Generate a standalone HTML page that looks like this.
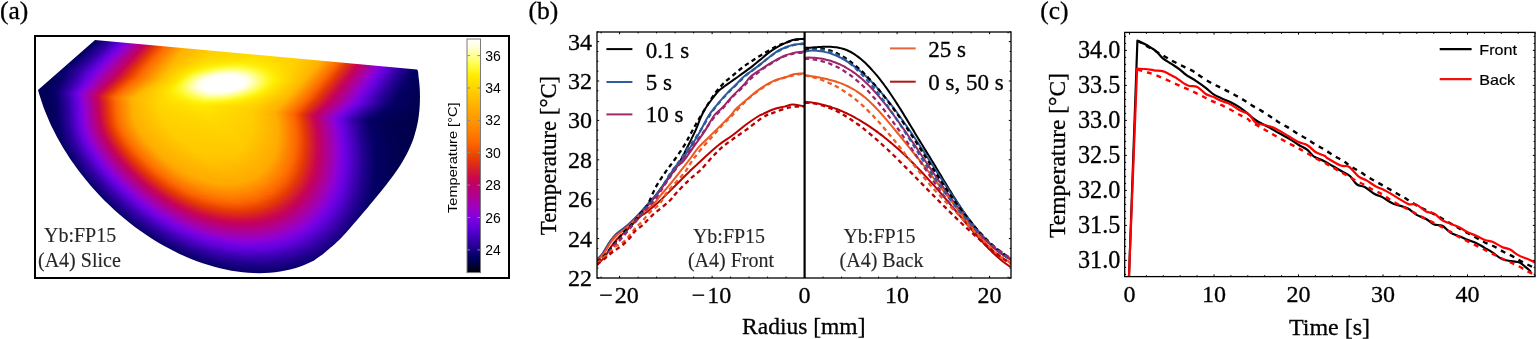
<!DOCTYPE html>
<html><head><meta charset="utf-8"><style>html,body{margin:0;padding:0;background:#fff;}#w{position:relative;width:1538px;height:339px;overflow:hidden}svg{position:absolute;left:0;top:0;display:block}#hm{position:absolute;left:36px;top:38px;width:386px;height:236px;clip-path:path("M2.0 52.0 L3.7 57.8 L5.6 63.6 L7.6 69.4 L9.9 75.3 L12.3 81.1 L14.9 86.9 L17.7 92.6 L20.7 98.4 L23.8 104.1 L27.1 109.7 L30.6 115.3 L34.2 120.9 L38.0 126.3 L41.9 131.8 L46.0 137.1 L50.2 142.3 L54.5 147.5 L59.0 152.5 L63.6 157.5 L68.4 162.4 L73.2 167.1 L78.1 171.7 L83.2 176.2 L88.3 180.6 L93.5 184.8 L98.9 188.9 L104.2 192.8 L109.7 196.6 L115.2 200.2 L120.8 203.7 L126.4 207.0 L132.1 210.1 L137.8 213.1 L143.6 215.9 L149.3 218.5 L155.1 221.0 L160.9 223.2 L166.7 225.3 L172.5 227.1 L178.3 228.8 L184.0 230.3 L189.8 231.6 L195.5 232.7 L201.1 233.6 L206.8 234.3 L212.3 234.8 L217.8 235.1 L223.3 235.2 L228.6 235.1 L233.9 234.8 L239.1 234.2 L244.2 233.5 L249.3 232.6 L254.2 231.5 L259.0 230.2 L263.7 228.7 L268.2 227.0 L272.7 225.1 L277.0 223.1 L278.1 222.4 L279.3 221.5 L280.7 220.6 L282.1 219.6 L283.5 218.6 L285.0 217.5 L286.5 216.4 L288.0 215.2 L289.5 213.9 L291.1 212.6 L292.7 211.2 L294.3 209.8 L296.0 208.4 L297.7 206.9 L299.4 205.4 L301.1 203.8 L302.9 202.2 L304.6 200.5 L306.3 198.7 L308.1 196.8 L309.8 194.9 L311.5 193.0 L313.3 191.0 L315.0 189.0 L316.7 187.0 L318.4 185.0 L320.2 183.0 L321.9 181.0 L323.6 179.0 L325.3 177.0 L327.0 175.0 L328.7 172.9 L330.5 170.9 L332.2 168.9 L333.9 166.8 L335.6 164.8 L337.3 162.8 L338.9 160.8 L340.6 158.8 L342.2 156.8 L343.9 154.8 L345.5 152.8 L347.1 150.8 L348.7 148.7 L350.3 146.7 L351.9 144.6 L353.5 142.5 L355.0 140.5 L356.5 138.5 L358.0 136.5 L359.4 134.5 L360.8 132.5 L362.2 130.5 L363.5 128.5 L364.8 126.5 L366.0 124.5 L367.2 122.5 L368.3 120.5 L369.4 118.5 L370.5 116.5 L371.5 114.5 L372.5 112.5 L373.4 110.5 L374.3 108.5 L375.2 106.5 L376.0 104.5 L376.8 102.5 L377.5 100.4 L378.2 98.3 L378.8 96.2 L379.4 94.1 L380.0 92.0 L380.5 89.9 L381.0 87.7 L381.5 85.5 L381.9 83.4 L382.3 81.2 L382.6 79.0 L382.9 76.8 L383.1 74.7 L383.4 72.6 L383.5 70.4 L383.7 68.2 L383.8 66.0 L383.9 63.7 L383.9 61.4 L384.0 59.0 L383.9 56.6 L383.9 54.3 L383.8 52.0 L383.7 49.7 L383.5 47.4 L383.3 45.1 L383.1 42.9 L382.8 40.8 L382.6 39.0 L382.4 37.4 L382.3 35.8 L382.2 34.5 L381.9 33.3 L381.6 32.3 L381.0 31.5 L59.0 2.0 L2.0 52.0 Z");}#hm i{position:absolute;left:0;width:386px;height:1px;}</style></head>
<body><div id="w"><div id="hm"><i style="top:0px;background:linear-gradient(90deg,#004,#010057 52px,#060068 64px,#2d009f 77px,#6300dc 89px,#7e00e0 95px,#9600ca 100px,#c50357 117px,#dd2a19 126px,#e53906 129px,#fd6900 139px,#ffab00 159px,#ffc800 192px,#ffcf00 247px,#ffc400 288px,#ffa700 312px,#fb6400 329px,#e53a05 337px,#c80651 350px,#bf0069 354px,#9600cb 371px,#7900e2 378px,#6100db 384px,#5d00d6 385px)"></i><i style="top:1px;background:linear-gradient(90deg,#004,#010057 51px,#070068 63px,#2e00a1 76px,#6300dc 88px,#7a00e2 93px,#9700c9 99px,#c60356 116px,#dd2b18 125px,#e53a05 128px,#fd6a00 138px,#ffab00 158px,#ffc800 191px,#ffcf00 246px,#ffc300 287px,#ffa700 311px,#fc6800 327px,#e53906 336px,#c80651 349px,#be0069 353px,#9500cc 370px,#7800e2 377px,#6000da 383px,#5800d1 385px)"></i><i style="top:2px;background:linear-gradient(90deg,#000045,#010057 50px,#070069 62px,#2f00a2 75px,#6500dd 87px,#7c00e2 92px,#9400cf 97px,#b90078 110px,#c60455 115px,#db261e 123px,#e63a05 127px,#fd6a00 137px,#ffab00 156px,#ffc800 190px,#ffcf00 245px,#ffc300 286px,#ffa600 310px,#fc6700 326px,#e53806 335px,#ca084c 347px,#c00064 351px,#9500cd 369px,#7b00e2 375px,#6000da 382px,#5400cc 385px)"></i><i style="top:3px;background:linear-gradient(90deg,#000045,#010058 49px,#080069 61px,#2f00a2 74px,#60d 86px,#7d00e1 91px,#9500cc 96px,#bc0070 110px,#c70454 114px,#de2c17 123px,#e63b05 126px,#fd6b00 136px,#ffab00 155px,#ffc800 189px,#ffcf00 244px,#ffc300 285px,#ffa900 308px,#fc6600 325px,#e43807 334px,#ca084d 346px,#c00065 350px,#9400ce 368px,#7b00e2 374px,#5f00d9 381px,#4f00c7 385px)"></i><i style="top:4px;background:linear-gradient(90deg,#000045,#010058 48px,#08006a 60px,#3000a3 73px,#6700dd 85px,#7d00e1 90px,#9600cb 95px,#c50357 112px,#d41930 118px,#e63c04 125px,#fd6b00 135px,#ffab00 154px,#ffc800 188px,#ffcf00 243px,#ffc400 283px,#ffa900 307px,#fc6600 324px,#e63c04 332px,#c9074e 345px,#bd006c 350px,#9400cf 367px,#7a00e2 373px,#5f00d8 380px,#4a00c2 385px)"></i><i style="top:5px;background:linear-gradient(90deg,#000046,#010058 47px,#060067 58px,#3000a3 72px,#6200db 83px,#7e00e0 89px,#9600ca 94px,#c3005d 110px,#d61d2c 117px,#e63b05 123px,#fd6c00 134px,#ffab00 153px,#ffc800 187px,#ffcf00 242px,#ffc400 282px,#ffa800 306px,#fc6500 323px,#e63b05 331px,#c9074f 344px,#bf0067 348px,#9700ca 365px,#7e00e0 371px,#6200dc 378px,#4600bd 385px)"></i><i style="top:6px;background:linear-gradient(90deg,#000046,#010057 45px,#060067 57px,#3000a4 71px,#6200dc 82px,#7e00e0 88px,#9600ca 93px,#c4015c 109px,#d61e2a 116px,#e63c04 122px,#fd6c00 132px,#ffab00 152px,#ffc800 186px,#ffcf00 241px,#ffc400 281px,#ffa800 305px,#fc6400 322px,#e63a05 330px,#c90650 343px,#bf0068 347px,#9600cb 364px,#7900e2 371px,#5e00d7 378px,#4200b8 385px)"></i><i style="top:7px;background:linear-gradient(90deg,#000047,#010057 44px,#060067 56px,#3000a4 70px,#6200dc 81px,#7e00e0 87px,#9600ca 92px,#c3015c 108px,#d71e2a 115px,#e43807 120px,#f96000 128px,#ff8a00 139px,#ffa400 147px,#ffc700 181px,#ffcf00 239px,#ffc400 280px,#ffa700 304px,#fb6400 321px,#e53a05 329px,#c80650 342px,#bf0068 346px,#9600cb 363px,#7900e2 370px,#6100db 376px,#3d00b3 385px)"></i><i style="top:8px;background:linear-gradient(90deg,#000047,#010057 43px,#070068 55px,#3100a5 69px,#6200dc 80px,#7e00e0 86px,#9600cb 91px,#c3005c 107px,#d71e2a 114px,#e43707 119px,#fa6100 127px,#ff8b00 138px,#ffb000 150px,#ffb700 157px,#ffb400 159px,#ffc800 183px,#ffcf00 238px,#ffc300 279px,#ffa700 303px,#fd6800 319px,#e53906 328px,#c80651 341px,#be0069 345px,#9500cc 362px,#7800e2 369px,#6100da 375px,#3900ae 385px)"></i><i style="top:9px;background:linear-gradient(90deg,#000048,#010058 42px,#070068 54px,#3100a5 68px,#6300dc 79px,#7e00e0 85px,#9600cb 90px,#c3005d 106px,#d41832 112px,#e73c04 119px,#fd6900 128px,#ffaf00 148px,#ffc400 168px,#ffbe00 169px,#ffc800 184px,#ffcf00 237px,#ffc300 278px,#ffa600 302px,#fc6700 318px,#e53906 327px,#ca084c 339px,#c00064 343px,#9500cd 361px,#7b00e2 367px,#6000da 374px,#3500a9 385px)"></i><i style="top:10px;background:linear-gradient(90deg,#000048,#010058 41px,#070069 53px,#3100a5 67px,#6300dc 78px,#7e00e0 84px,#9600cb 89px,#c60356 106px,#d92224 113px,#e63c04 118px,#fd6d00 128px,#ffb100 148px,#ffcf00 179px,#ffc800 180px,#ffcf00 236px,#ffc300 277px,#ffa900 300px,#fc6600 317px,#e43806 326px,#ca084d 338px,#c00065 342px,#9400ce 360px,#7b00e2 366px,#5f00d9 373px,#3100a4 385px)"></i><i style="top:11px;background:linear-gradient(90deg,#000048,#010058 40px,#080069 52px,#3200a6 66px,#6300dc 77px,#7e00e0 83px,#9600cb 88px,#c60356 105px,#db271e 113px,#e63b05 117px,#fd6c00 127px,#ffb100 147px,#ffd000 179px,#ffd200 190px,#ffca00 191px,#ffcf00 236px,#ffc400 275px,#ffa900 299px,#fc6600 316px,#e63c04 324px,#c9074e 337px,#bd006c 342px,#9400ce 359px,#7a00e2 365px,#5f00d8 372px,#2c009e 385px)"></i><i style="top:12px;background:linear-gradient(90deg,#000049,#010058 39px,#08006a 51px,#3200a6 65px,#6300dc 76px,#7e00e0 82px,#9600cb 87px,#c60357 104px,#db261f 112px,#e63b05 116px,#fd6c00 126px,#ffb100 146px,#ffd000 178px,#ffd500 200px,#fc0 201px,#ffce00 237px,#ffc400 274px,#ffa800 298px,#fc6500 315px,#e63b05 323px,#c9074f 336px,#bf0067 340px,#9700ca 357px,#7e00e0 363px,#6200dc 370px,#290099 385px)"></i><i style="top:13px;background:linear-gradient(90deg,#000049,#010057 37px,#060067 49px,#2e00a1 63px,#6300dc 75px,#7e00e0 81px,#9600cb 86px,#c50357 103px,#db261f 111px,#e63a05 115px,#fd6b00 125px,#ffb100 145px,#ffd100 177px,#ffd800 211px,#ffce00 212px,#ffcb00 250px,#ffc300 274px,#ffa800 297px,#fc6500 314px,#e63a05 322px,#c9074f 335px,#bf0068 339px,#9600ca 356px,#7900e2 363px,#5e00d7 370px,#260095 385px)"></i><i style="top:14px;background:linear-gradient(90deg,#00004a,#010057 36px,#060067 48px,#2e00a1 62px,#6300dc 74px,#7e00e0 80px,#9600cb 85px,#c50358 102px,#da2520 110px,#e53a05 114px,#fd6b00 124px,#ffb200 145px,#ffd200 177px,#ffda00 222px,#ffd000 223px,#ffc400 272px,#ffa700 296px,#fb6400 313px,#e53a05 321px,#c80650 334px,#bf0068 338px,#9600cb 355px,#7900e2 362px,#5d00d7 369px,#230090 385px)"></i><i style="top:15px;background:linear-gradient(90deg,#00004a,#010058 35px,#060067 47px,#2f00a1 61px,#6300dc 73px,#7e00e0 79px,#9600cb 84px,#c50258 101px,#da2520 109px,#e53906 113px,#fd6a00 123px,#ffb300 144px,#ffd300 176px,#ffd900 228px,#ffd800 233px,#ffce00 234px,#ffc300 271px,#ffa700 295px,#fd6800 311px,#e53906 320px,#c80651 333px,#be0069 337px,#9500cc 354px,#7800e2 361px,#6100da 367px,#250094 383px,#20008c 385px)"></i><i style="top:16px;background:linear-gradient(90deg,#00004a,#010058 34px,#060068 46px,#2f00a2 60px,#6300dc 72px,#7e00e0 78px,#9600cb 83px,#c50259 100px,#da2521 108px,#e53906 112px,#fc6600 121px,#ffb300 143px,#ffd400 175px,#ffdb00 226px,#ffd500 243px,#fc0 244px,#ffc300 270px,#ffa600 294px,#fc6700 310px,#e53906 319px,#ca084c 331px,#c00064 335px,#9500cd 353px,#7c00e2 359px,#6000da 366px,#250093 382px,#1d0088 385px)"></i><i style="top:17px;background:linear-gradient(90deg,#00004b,#010058 33px,#070068 45px,#3300a8 60px,#6400dc 71px,#7e00e0 77px,#9600cb 82px,#c50259 99px,#da2421 107px,#e53806 111px,#fc6600 120px,#ffb300 142px,#ffd500 175px,#ffdc00 224px,#ffd200 254px,#ffc900 255px,#ffc200 270px,#ffa900 292px,#fc6700 309px,#e43806 318px,#ca084d 330px,#c00065 334px,#9400ce 352px,#7b00e2 358px,#5f00d9 365px,#240093 381px,#1a0084 385px)"></i><i style="top:18px;background:linear-gradient(90deg,#00004b,#010058 32px,#070069 44px,#3300a8 59px,#6400dc 70px,#7e00e0 76px,#9600cb 81px,#c4025a 98px,#d71f29 105px,#e43806 110px,#fc6500 119px,#ffb400 142px,#ffd600 174px,#ffde00 222px,#ffce00 265px,#ffc500 266px,#ffa900 291px,#fc6600 308px,#e63c04 316px,#c9074e 329px,#bd006c 334px,#9400ce 351px,#7a00e2 357px,#5f00d9 364px,#240092 380px,#180080 385px)"></i><i style="top:19px;background:linear-gradient(90deg,#00004c,#010058 31px,#070069 43px,#3400a8 58px,#6400dc 69px,#7e00e0 75px,#9600cb 80px,#c4015a 97px,#d71f29 104px,#e43707 109px,#f96000 117px,#ff8a00 128px,#ffb400 141px,#ffd700 173px,#ffdf00 220px,#ffcb00 267px,#ffbf00 276px,#ffb800 277px,#ffa800 290px,#fc6500 307px,#e63b05 315px,#c9074e 328px,#bf0067 332px,#9700c9 349px,#7e00e0 355px,#6200dc 362px,#240092 379px,#15007c 385px)"></i><i style="top:20px;background:linear-gradient(90deg,#00004c,#010057 29px,#08006a 42px,#3400a8 57px,#6400dd 68px,#7e00e0 74px,#9600cc 79px,#c4015b 96px,#d71e2a 103px,#e63c04 109px,#fd6c00 119px,#ffb500 140px,#ffd800 173px,#ffe200 218px,#fc0 265px,#ffb200 286px,#fc6500 306px,#e63a05 314px,#c9074f 327px,#bf0067 331px,#9600ca 348px,#7900e2 355px,#5e00d7 362px,#230091 378px,#120078 385px)"></i><i style="top:21px;background:linear-gradient(90deg,#00004c,#010057 28px,#060067 40px,#3000a4 55px,#6400dd 67px,#7e00e0 73px,#9500cc 78px,#c4015b 95px,#d61e2a 102px,#e63b04 108px,#fd6c00 118px,#ffb600 140px,#ffd900 172px,#ffe400 215px,#fc0 265px,#ffac00 288px,#ff8a00 297px,#ff7500 301px,#f55800 307px,#e53a05 313px,#c80650 326px,#bf0068 330px,#9600cb 347px,#7900e2 354px,#5d00d7 361px,#230091 377px,#0f0074 385px)"></i><i style="top:22px;background:linear-gradient(90deg,#00004d,#010058 27px,#060067 39px,#3000a4 54px,#6400dd 66px,#7e00e0 72px,#9500cc 77px,#c4015c 94px,#d61d2b 101px,#e63b05 107px,#fd6b00 117px,#ffb600 139px,#ffdb00 171px,#ffe700 213px,#fc0 264px,#ffac00 287px,#fc6700 304px,#f15100 308px,#e94203 310px,#e3350a 313px,#c80651 325px,#be0069 329px,#9500cc 346px,#7800e2 353px,#6100db 359px,#250094 375px,#0c0070 385px)"></i><i style="top:23px;background:linear-gradient(90deg,#00004d,#010058 26px,#060067 38px,#3100a4 53px,#6400dd 65px,#7e00e0 71px,#9500cc 76px,#c3005c 93px,#d61d2c 100px,#e63a05 106px,#fd6b00 116px,#ffb700 138px,#fd0 171px,#ffe900 210px,#ffcd00 263px,#ffac00 286px,#fc6700 303px,#e53906 312px,#d71f29 318px,#d1133a 320px,#c00064 327px,#9500cd 345px,#7c00e2 351px,#6000da 358px,#250093 374px,#09006c 385px)"></i><i style="top:24px;background:linear-gradient(90deg,#00004d,#010058 25px,#060068 37px,#3100a5 52px,#6400dd 64px,#7e00e0 70px,#9500cc 75px,#c3005d 92px,#d61c2c 99px,#e53a05 105px,#fd6a00 115px,#ffb800 138px,#ffdf00 170px,#ffec05 202px,#ffeb02 214px,#ffcd00 262px,#ffad00 285px,#fc6700 302px,#e53806 311px,#c9074f 323px,#bf0067 327px,#a800a5 337px,#8c00d6 346px,#7700e2 351px,#6000d9 357px,#240093 373px,#070068 385px)"></i><i style="top:25px;background:linear-gradient(90deg,#00004e,#010058 24px,#070068 36px,#3500aa 52px,#6400dd 63px,#7e00e0 69px,#9500cc 74px,#c60356 92px,#da2620 100px,#e53905 104px,#fd6a00 114px,#ffb800 137px,#ffe200 170px,#ffec04 187px,#ffef0e 207px,#ffe800 223px,#ffce00 261px,#ffad00 284px,#fc6700 301px,#e53806 310px,#c9074f 322px,#bf0068 326px,#9a00c3 341px,#8700da 346px,#7700e2 350px,#5f00d9 356px,#240092 372px,#050066 385px)"></i><i style="top:26px;background:linear-gradient(90deg,#00004e,#010058 23px,#070068 35px,#3500aa 51px,#6400dd 62px,#7e00e0 68px,#9500cd 73px,#c50357 91px,#da2520 99px,#e53906 103px,#fd6900 113px,#ffb900 136px,#ffe400 169px,#ffec04 180px,#fff316 199px,#fff213 211px,#ffe800 225px,#ffce00 261px,#ffae00 283px,#fd6800 300px,#e53906 309px,#c90650 321px,#bf0068 325px,#9500cd 342px,#7b00e2 348px,#5e00d8 355px,#240092 371px,#050065 384px,#040064 385px)"></i><i style="top:27px;background:linear-gradient(90deg,#01004f,#010059 22px,#070069 34px,#3100a5 49px,#6400dd 61px,#7e00e0 67px,#9500cd 72px,#c50358 90px,#da2421 98px,#e53806 102px,#fc6500 111px,#ffba00 136px,#ffe600 168px,#ffec05 175px,#fff61e 194px,#fff61e 209px,#ffe900 227px,#ffce00 260px,#ffaf00 282px,#fb6400 300px,#e53a05 308px,#c9074e 320px,#bf0068 324px,#9400ce 341px,#7b00e2 347px,#5f00d9 354px,#260095 369px,#050065 383px,#030063 385px)"></i><i style="top:28px;background:linear-gradient(90deg,#01004f,#010059 21px,#070069 33px,#3200a6 48px,#6400dd 60px,#7e00e0 66px,#9500cd 71px,#c50258 89px,#d92422 97px,#e43807 101px,#f95f00 109px,#ff8600 119px,#fb0 135px,#ffea00 168px,#fff92f 194px,#fffa31 206px,#ffe900 229px,#ffce00 260px,#ffaf00 281px,#fc6500 299px,#e63b05 307px,#ca084d 319px,#bf0066 323px,#9400ce 340px,#7a00e2 346px,#5f00d8 353px,#240091 369px,#050065 382px,#020062 385px)"></i><i style="top:29px;background:linear-gradient(90deg,#01004f,#010059 20px,#08006a 32px,#3200a6 47px,#6400dd 59px,#7e00e0 65px,#9500cd 70px,#c50259 88px,#d71e29 95px,#e63c04 101px,#fd6b00 111px,#fb0 134px,#ffeb01 165px,#fffa31 184px,#fffc47 195px,#fffc46 205px,#fff419 220px,#ffe900 231px,#ffcf00 259px,#ffb000 280px,#fc6600 298px,#e63c04 306px,#ca084c 318px,#c00065 322px,#9500cc 339px,#7b00e2 345px,#5e00d8 352px,#260095 367px,#050065 381px,#020060 385px)"></i><i style="top:30px;background:linear-gradient(90deg,#01004f,#010059 19px,#08006a 31px,#3200a6 46px,#6400dd 58px,#7e00e0 64px,#9400ce 69px,#c4025a 87px,#d71e2a 94px,#e63b05 100px,#fd6b00 110px,#ffbd00 134px,#ffe600 159px,#ffed08 164px,#fff92a 176px,#fffd54 188px,#ffff61 198px,#fffe5b 205px,#fff61d 221px,#ffe900 233px,#ffce00 259px,#ffb100 279px,#fc6700 297px,#e43806 306px,#c80651 318px,#be006a 322px,#9600cb 338px,#7c00e1 344px,#5f00d9 351px,#250094 366px,#050066 379px,#01005f 385px)"></i><i style="top:31px;background:linear-gradient(90deg,#01004f,#010059 18px,#08006a 30px,#3200a6 45px,#6400dd 57px,#7e00e1 63px,#9400ce 68px,#c4015b 86px,#d61d2b 93px,#e63a05 99px,#fd6a00 109px,#ffbd00 133px,#ffe600 157px,#ffea01 159px,#fff928 171px,#ffff62 184px,#ff7 193px,#ff7 202px,#fffe58 211px,#fff61f 223px,#ffe900 235px,#fc0 260px,#ffb100 278px,#fc6700 296px,#e53906 305px,#c90650 317px,#bf0069 321px,#9700c9 337px,#7d00e1 343px,#6100da 350px,#260095 365px,#050066 378px,#01005e 385px)"></i><i style="top:32px;background:linear-gradient(90deg,#01004f,#010058 17px,#08006b 29px,#3200a6 44px,#6400dd 56px,#7d00e1 62px,#9400ce 67px,#c4015b 85px,#d61c2c 92px,#e53a05 98px,#fd6a00 108px,#ffbd00 132px,#ffe500 155px,#ffea00 157px,#fff61f 165px,#ffff71 181px,#ffff8d 190px,#ffff93 199px,#ffff89 204px,#fffe56 215px,#fff71f 225px,#ffe900 236px,#fc0 260px,#ffb200 277px,#fd6800 295px,#e53a05 304px,#c9074e 316px,#bf0067 320px,#9400ce 337px,#7a00e2 343px,#5d00d7 350px,#240092 365px,#050065 378px,#01005d 385px)"></i><i style="top:33px;background:linear-gradient(90deg,#01004f,#010058 17px,#070068 28px,#3600ab 44px,#6400dd 55px,#7d00e1 61px,#9400cf 66px,#c3005c 84px,#d61c2d 91px,#e53906 97px,#fd6900 107px,#ffbf00 132px,#ffe500 153px,#ffec05 156px,#fff61f 162px,#ffff82 179px,#ffffa5 188px,#ffffaf 196px,#ffffa7 202px,#ffff78 212px,#fff61e 227px,#ffe900 237px,#ffc600 263px,#ffb300 276px,#fc6400 295px,#e63b05 303px,#ca084d 315px,#c00066 319px,#9500cd 336px,#7b00e2 342px,#5f00d8 349px,#250094 364px,#050066 377px,#01005c 385px)"></i><i style="top:34px;background:linear-gradient(90deg,#01004f,#010059 17px,#070069 28px,#3500a9 43px,#6400dd 54px,#7d00e1 60px,#9700c9 66px,#c60356 84px,#da2521 92px,#e53806 96px,#fc6400 105px,#ffbf00 131px,#ffe600 152px,#ffee09 155px,#fff92f 162px,#ffff93 177px,#ffffbc 186px,#ffffcb 194px,#ffffc6 200px,#ffff9c 209px,#fffa32 225px,#fff51d 229px,#ffe900 238px,#ffb300 275px,#fc6500 294px,#e63c04 302px,#ca084c 314px,#c00065 318px,#9600cb 335px,#7c00e1 341px,#6000d9 348px,#260095 363px,#050066 376px,#01005b 385px)"></i><i style="top:35px;background:linear-gradient(90deg,#01004f,#010059 17px,#08006a 28px,#3700ac 43px,#6300dc 53px,#7d00e1 59px,#9700c9 65px,#c50357 83px,#da2422 91px,#e73c04 96px,#fd6b00 106px,#ffbf00 130px,#ffe500 150px,#ffea01 152px,#fffa33 160px,#ffffa2 175px,#ffffd2 184px,#ffffe1 190px,#ffffe1 199px,#ffffc8 205px,#ffff79 217px,#fff721 229px,#ffe900 239px,#ffb400 274px,#fc6600 293px,#e43806 302px,#c80651 314px,#be006a 318px,#9700ca 334px,#7d00e1 340px,#6100db 347px,#240092 363px,#050065 376px,#01005a 385px)"></i><i style="top:36px;background:linear-gradient(90deg,#01004f,#010058 16px,#070068 27px,#3500a9 42px,#60d 53px,#7b00e2 58px,#9600ca 64px,#c50258 82px,#d92323 90px,#e63b04 95px,#fd6a00 105px,#ffc100 130px,#ffe600 149px,#ffec04 151px,#fffa36 158px,#ffffae 173px,#ffffe0 181px,#fffff1 191px,#ffffed 199px,#ffd 205px,#ffff8e 216px,#fff721 230px,#ffea00 239px,#ffb100 274px,#fc6700 292px,#e53906 301px,#c9074f 313px,#bf0068 317px,#9400ce 334px,#7a00e2 340px,#5e00d7 347px,#250093 362px,#050066 375px,#01005a 385px)"></i><i style="top:37px;background:linear-gradient(90deg,#01004f,#010058 16px,#080069 27px,#3300a7 41px,#6400dd 52px,#7a00e2 57px,#9500cc 63px,#c50259 81px,#d61e2a 88px,#e63a05 94px,#fd6a00 104px,#ffc100 129px,#ffe500 147px,#ffea01 149px,#fff823 154px,#ffff8e 166px,#ffffde 176px,#fffffa 186px,#fff 196px,#ffffe2 207px,#ffffad 214px,#fffa36 228px,#fff51c 232px,#ffe900 240px,#ffb100 273px,#fc6800 291px,#e53a05 300px,#c9074e 312px,#bf0067 316px,#9500cd 333px,#7b00e2 339px,#5f00d9 346px,#260095 361px,#050066 374px,#010059 385px)"></i><i style="top:38px;background:linear-gradient(90deg,#01004f,#010059 16px,#09006b 27px,#3500aa 41px,#6200dc 51px,#7d00e1 57px,#9500cd 62px,#bd006d 77px,#c80552 81px,#e03011 91px,#e83e04 94px,#fd6c00 104px,#ffc100 128px,#ffe600 146px,#ffeb03 148px,#fff929 153px,#fffd51 157px,#ffffe0 173px,#fff 182px,#fffffc 202px,#ffd 210px,#fffc45 227px,#fff61f 232px,#ffea00 240px,#ffb200 272px,#fb6400 291px,#e63b05 299px,#ca084d 311px,#c00066 315px,#9600cb 332px,#7c00e1 338px,#6000da 345px,#240092 361px,#040065 374px,#010058 385px)"></i><i style="top:39px;background:linear-gradient(90deg,#01004f,#010058 15px,#070069 26px,#3300a8 40px,#60d 51px,#7c00e1 56px,#9400ce 61px,#b50081 73px,#c50259 79px,#d92323 87px,#e63b05 92px,#fd6c00 103px,#ffc200 128px,#ffe600 145px,#ffec05 147px,#fff721 151px,#fffd4e 155px,#ffffdf 170px,#fff 178px,#fffffe 204px,#ffffe0 211px,#fffb41 228px,#fff721 232px,#ffea01 240px,#ffb300 271px,#fc6500 290px,#e63c04 298px,#ca094b 310px,#c00064 314px,#9700ca 331px,#7d00e1 337px,#6100db 344px,#250093 360px,#050065 373px,#010057 385px)"></i><i style="top:40px;background:linear-gradient(90deg,#010050,#010057 14px,#08006a 26px,#3600aa 40px,#6400dd 50px,#7b00e2 55px,#9700c9 61px,#c50259 78px,#d92323 86px,#e63b04 91px,#fd6a00 101px,#ffc200 127px,#ffe400 143px,#ffe900 145px,#fff823 150px,#fffc4a 153px,#ffffe0 168px,#fff 175px,#fffffd 206px,#ffffe1 212px,#fffc44 228px,#fff822 232px,#ffea01 240px,#ffb300 270px,#fc6500 289px,#e43806 298px,#c80650 310px,#be0069 314px,#9400ce 331px,#7a00e2 337px,#5e00d8 344px,#260094 359px,#050066 372px,#010057 385px)"></i><i style="top:41px;background:linear-gradient(90deg,#010050,#010058 14px,#070068 25px,#3400a8 39px,#6300dc 49px,#7a00e2 54px,#9600cb 60px,#c50259 77px,#d92422 85px,#e73c04 90px,#fd6b00 100px,#ffc200 126px,#ffe400 142px,#ffea00 144px,#fff825 149px,#fffe57 153px,#ffffdf 166px,#fffffe 172px,#fffffd 207px,#ffffdf 213px,#fffb3d 229px,#fff823 232px,#ffea01 240px,#ffb400 269px,#fc6600 288px,#e53906 297px,#c9074f 309px,#bf0068 313px,#9500cd 330px,#7c00e2 336px,#5f00d9 343px,#260095 358px,#050066 371px,#010056 385px)"></i><i style="top:42px;background:linear-gradient(90deg,#010050,#010057 13px,#08006a 25px,#3700ab 39px,#60d 49px,#7d00e1 54px,#9500cc 59px,#c50258 76px,#da2421 84px,#e43806 88px,#fb6400 97px,#ffc200 125px,#ffe300 141px,#ffe900 143px,#fff825 148px,#fffe59 152px,#ffffe2 165px,#fff 171px,#fff 207px,#ffffe1 213px,#fffb3d 229px,#fff822 232px,#ffea00 240px,#ffba00 266px,#fc6700 287px,#e53a05 296px,#c9074e 308px,#bd006c 313px,#9600cb 329px,#7900e2 336px,#6100da 342px,#250093 358px,#050065 371px,#010055 385px)"></i><i style="top:43px;background:linear-gradient(90deg,#010050,#010058 13px,#070068 24px,#3500a9 38px,#6500dd 48px,#7c00e1 53px,#9500cd 58px,#c50258 75px,#da2521 83px,#e53906 87px,#fd6900 97px,#ffc100 123px,#ffe400 140px,#ffe900 142px,#fff824 147px,#fffe58 151px,#ffffdc 163px,#fff 169px,#fffffd 208px,#ffffda 214px,#fffc45 228px,#fff722 232px,#ffe900 240px,#ffb500 267px,#fc6800 286px,#e63a05 295px,#ca084c 307px,#c00065 311px,#9700ca 328px,#7e00e0 334px,#6200db 341px,#250094 357px,#050066 370px,#010054 385px)"></i><i style="top:44px;background:linear-gradient(90deg,#010050,#010058 13px,#08006a 24px,#3300a7 37px,#6300dc 47px,#7b00e2 52px,#9400ce 57px,#ba0075 70px,#c50258 74px,#da2520 82px,#e53905 86px,#fd6a00 96px,#ffc000 121px,#ffe400 139px,#ffea00 141px,#fff825 146px,#fffe57 150px,#ffffdc 162px,#fff 168px,#fffffd 208px,#ffffe1 213px,#fffb42 228px,#fff720 232px,#ffea00 239px,#fb0 264px,#ff7500 282px,#f55800 288px,#e43708 295px,#ca094b 306px,#c00064 310px,#9400ce 328px,#7b00e2 334px,#5f00d8 341px,#260095 356px,#040065 370px,#010054 385px)"></i><i style="top:45px;background:linear-gradient(90deg,#010050,#010059 13px,#09006c 24px,#3600ab 37px,#6200db 46px,#7a00e2 51px,#9300cf 56px,#b40083 67px,#c50258 73px,#db261f 81px,#e63a05 85px,#fd6b00 95px,#ffc000 120px,#ffe400 138px,#ffea00 140px,#fff824 145px,#fffc49 148px,#ffffe2 162px,#fffffe 167px,#fff 207px,#ffffde 213px,#fffc47 227px,#fff822 231px,#ffea01 238px,#ffbd00 262px,#ffae00 267px,#fc6500 285px,#e43807 294px,#c80650 306px,#bf0068 310px,#9500cc 327px,#7c00e2 333px,#6000da 340px,#250093 356px,#050065 369px,#010054 385px)"></i><i style="top:46px;background:linear-gradient(90deg,#010050,#01005b 14px,#08006a 23px,#3400a9 36px,#6500dd 46px,#7e00e0 51px,#9700ca 56px,#c50258 72px,#db261f 80px,#e63b05 84px,#fd6c00 94px,#ffbf00 118px,#ffe400 137px,#ffe900 139px,#fff822 144px,#ffff8e 154px,#ffd 161px,#fff 167px,#fffffc 207px,#ffffe0 212px,#fffb41 227px,#fff71f 231px,#ffe900 238px,#ffb700 264px,#fc6500 284px,#e53906 293px,#c9074f 305px,#bf0067 309px,#9600cb 326px,#7900e2 333px,#6100db 339px,#250094 355px,#050066 368px,#010053 385px)"></i><i style="top:47px;background:linear-gradient(90deg,#010050,#01005a 13px,#09006c 23px,#3700ac 36px,#6400dd 45px,#7d00e1 50px,#9600cb 55px,#c50258 71px,#d82225 78px,#e63c04 83px,#fd6900 92px,#ffbd00 116px,#ffe300 136px,#ffec04 139px,#fff92b 144px,#ffff9c 155px,#ffffdf 161px,#fff 167px,#fffffc 206px,#ffffe1 211px,#fffc43 226px,#fff721 230px,#ffe900 237px,#ffb300 264px,#fc6600 283px,#e53906 292px,#c9084d 304px,#c00066 308px,#9700ca 325px,#7e00e0 331px,#60d 337px,#2f00a3 351px,#050066 367px,#010053 385px)"></i><i style="top:48px;background:linear-gradient(90deg,#010050,#01005b 13px,#08006a 22px,#3600aa 35px,#6300dc 44px,#7c00e2 49px,#9500cc 54px,#c50258 70px,#d92224 77px,#e73c04 82px,#fd6a00 91px,#ffbd00 115px,#ffe300 135px,#ffeb02 138px,#fff92d 144px,#ffffa8 156px,#ffffdf 161px,#fff 167px,#fff 204px,#ffffdf 210px,#fffc44 225px,#fff721 229px,#ffe900 236px,#ffb400 263px,#fc6700 282px,#e63a05 291px,#ca084c 303px,#c00064 307px,#9400ce 325px,#7b00e2 331px,#5f00d9 338px,#250093 354px,#050065 367px,#010053 385px)"></i><i style="top:49px;background:linear-gradient(90deg,#010050,#01005c 13px,#0a006c 22px,#3400a8 34px,#6200db 43px,#7b00e2 48px,#9500cd 53px,#c50258 69px,#d92224 76px,#e43807 80px,#fa6200 88px,#ff9300 101px,#ffbc00 113px,#ffe200 134px,#ffea00 137px,#fff92e 144px,#ffffa6 156px,#ffffe3 162px,#fff 168px,#fff 202px,#ffffdb 209px,#fffb42 224px,#fff721 228px,#ffe900 235px,#ffb400 262px,#fc6700 281px,#e63b05 290px,#cb094b 302px,#c10063 306px,#9500cc 324px,#7800e3 331px,#6100da 337px,#250094 353px,#050066 366px,#010053 385px)"></i><i style="top:50px;background:linear-gradient(90deg,#010051,#01005b 12px,#08006a 21px,#3700ac 34px,#6500dd 43px,#7a00e2 47px,#9400ce 52px,#bf0067 66px,#cf0d41 71px,#e53806 79px,#fb6300 87px,#ffa200 104px,#ffbc00 112px,#ffe100 133px,#ffeb04 137px,#fff92d 144px,#ffffa2 156px,#ffffde 162px,#fff 169px,#fffffe 200px,#ffffdc 207px,#fffb3f 223px,#fff71f 227px,#ffe900 234px,#ffb500 261px,#fd6800 280px,#e63c04 289px,#c90650 302px,#bf0068 306px,#9600cb 323px,#7900e2 330px,#5e00d7 337px,#260095 352px,#050065 366px,#010053 385px)"></i><i style="top:51px;background:linear-gradient(90deg,#010051,#01005c 12px,#0a006d 21px,#3600aa 33px,#6400dd 42px,#7e00e0 47px,#9800c8 52px,#c50358 67px,#d92323 74px,#e53906 78px,#fd6800 87px,#fb0 110px,#ffe300 133px,#ffea01 136px,#fff92b 144px,#ffff9b 156px,#ffffde 163px,#fff 171px,#fffffe 197px,#ffffdb 205px,#fffc44 221px,#fff822 225px,#ffe900 233px,#ffb500 260px,#fb6400 280px,#e43806 289px,#c9074e 301px,#bf0067 305px,#9700c9 322px,#7e00e0 328px,#6700dd 334px,#4f00c6 340px,#250093 352px,#050065 365px,#010053 385px)"></i><i style="top:52px;background:linear-gradient(90deg,#010051,#01005c 12px,#09006b 20px,#3400a9 32px,#6300dc 41px,#7d00e1 46px,#9700c9 51px,#c50358 66px,#d92422 73px,#e53a05 77px,#fd6900 86px,#ffb900 108px,#ffe200 132px,#ffeb03 136px,#fff827 144px,#ffff9c 157px,#ffffe1 165px,#fffffe 173px,#fffffe 193px,#ffd 202px,#fffb3e 220px,#fff720 224px,#ffe800 232px,#ffb500 259px,#fc6500 279px,#e53906 288px,#ca084d 300px,#c00065 304px,#9400ce 322px,#7800e2 329px,#6000da 335px,#250094 351px,#050066 364px,#010053 384px,#010052 385px)"></i><i style="top:53px;background:linear-gradient(90deg,#010051,#01005b 11px,#0b006e 20px,#3300a7 31px,#6200db 40px,#7c00e2 45px,#9700ca 50px,#c50357 65px,#d71f29 71px,#e63a05 76px,#fd6a00 85px,#ffb900 107px,#ffe300 132px,#ffeb02 136px,#fff823 144px,#ffff91 157px,#ffffe1 167px,#fff 178px,#fffffb 188px,#ffffe1 198px,#ffff9c 207px,#fff92e 220px,#fff418 224px,#ffea00 230px,#ffb500 258px,#fc6600 278px,#e53905 287px,#ca084c 299px,#c00064 303px,#9500cc 321px,#7900e2 328px,#5d00d7 335px,#260095 350px,#050065 364px,#010053 384px,#010052 385px)"></i><i style="top:54px;background:linear-gradient(90deg,#010051,#01005a 11px,#070068 19px,#3600ab 31px,#60d 40px,#7b00e2 44px,#9600ca 49px,#c50357 64px,#d71f28 70px,#e63b05 75px,#fd6b00 84px,#ffb800 105px,#ffe200 131px,#ffec04 137px,#fff824 145px,#ffff94 159px,#ffffdc 169px,#fffff1 177px,#ffe 187px,#ffffdf 194px,#ffffa4 203px,#fffa36 217px,#fff51d 221px,#ffe900 229px,#ffb600 257px,#fc6600 277px,#e63a05 286px,#ca094b 298px,#c10063 302px,#9600cb 320px,#7a00e2 327px,#5f00d8 334px,#250093 350px,#050066 363px,#010053 383px,#010052 385px)"></i><i style="top:55px;background:linear-gradient(90deg,#010050,#01005a 11px,#09006c 20px,#3000a4 30px,#6500dd 39px,#7a00e2 43px,#9600cb 48px,#c50357 63px,#d72028 69px,#e63c04 74px,#fd6b00 83px,#ffb800 104px,#ffeb02 137px,#fff824 146px,#ffff94 161px,#ffffd2 171px,#ffffe2 176px,#ffffe0 186px,#ffffc8 193px,#ffff8b 203px,#fff825 217px,#ffea00 227px,#ffb600 256px,#fc6700 276px,#e63b05 285px,#c90650 298px,#bf0068 302px,#9700c9 319px,#7b00e2 326px,#6000d9 333px,#250094 349px,#040065 363px,#010052 383px,#010052 385px)"></i><i style="top:56px;background:linear-gradient(90deg,#010050,#01005b 12px,#08006b 20px,#3500a9 31px,#6300dc 39px,#7b00e2 43px,#9400cf 47px,#ab009e 53px,#c60357 62px,#d82027 68px,#e73c04 73px,#fd6c00 82px,#ffb700 102px,#ffeb03 138px,#fff929 148px,#ffff95 164px,#ffffc3 173px,#ffc 178px,#ffffc4 186px,#ffffa6 194px,#ffff5f 206px,#fff822 215px,#ffea00 225px,#ffb600 255px,#fc6700 275px,#e63b04 284px,#c9074f 297px,#bd006c 302px,#9500cd 319px,#7800e2 326px,#6100db 332px,#260095 348px,#050065 362px,#010053 382px,#010052 385px)"></i><i style="top:57px;background:linear-gradient(90deg,#010050,#01005b 12px,#080069 20px,#3300a7 31px,#6200db 39px,#7900e2 43px,#9300d1 47px,#bf0068 59px,#d00f3f 64px,#e43707 71px,#f95f00 78px,#ff8600 87px,#ffb700 101px,#ffeb03 139px,#fff826 149px,#ffff87 165px,#ffffad 174px,#ffffae 182px,#ffff97 191px,#ffff61 202px,#fff61f 213px,#ffe900 223px,#ffb600 254px,#fc6800 274px,#e43807 284px,#c9084d 296px,#be006b 301px,#9500cc 318px,#7900e2 325px,#5e00d8 332px,#250093 348px,#050066 361px,#010052 382px,#010052 385px)"></i><i style="top:58px;background:linear-gradient(90deg,#010050,#01005a 12px,#070068 20px,#3200a6 31px,#6000da 39px,#7800e2 43px,#9100d2 47px,#b0008e 55px,#c50259 61px,#d92323 67px,#e43708 70px,#f65a00 76px,#ff7600 82px,#ffb500 99px,#ffea00 139px,#fff826 151px,#ffff78 166px,#ffff91 173px,#ffff92 182px,#ffff7c 191px,#fffc49 202px,#fff61f 210px,#ffe900 221px,#ffb600 253px,#fb6400 274px,#e53806 283px,#ca084c 295px,#c00064 299px,#9600ca 317px,#7a00e2 324px,#5f00d9 331px,#250094 347px,#050065 361px,#010053 381px,#010051 385px)"></i><i style="top:59px;background:linear-gradient(90deg,#010050,#01005a 12px,#060068 20px,#3100a5 31px,#6500dd 40px,#7c00e1 44px,#9500cc 48px,#c4015b 61px,#d51b2e 66px,#e63c04 71px,#fd6800 78px,#ff9b00 90px,#ffb500 98px,#ffe200 133px,#ffec04 142px,#fff92a 154px,#ffff6c 168px,#ffff78 173px,#ff7 182px,#ffff5e 192px,#fff61d 207px,#ffe900 218px,#ffb600 252px,#fc6400 273px,#e53906 282px,#ca094b 294px,#c10063 298px,#9700c9 316px,#7b00e2 323px,#6100da 330px,#260095 346px,#050065 360px,#010052 381px,#010051 385px)"></i><i style="top:60px;background:linear-gradient(90deg,#010050,#01005a 12px,#09006c 21px,#3000a3 31px,#6400dd 40px,#7b00e2 44px,#9400ce 48px,#bc006f 59px,#c70454 62px,#de2d15 69px,#e53a05 71px,#fd6c00 79px,#ffb200 95px,#fd0 129px,#ffeb02 143px,#fff92b 157px,#ffff5e 170px,#ffff60 180px,#fffd4c 190px,#fff51b 204px,#ffe900 215px,#ffb600 251px,#fc6500 272px,#e53a05 281px,#c80650 294px,#bf0067 298px,#9500cd 316px,#7900e2 323px,#5e00d7 330px,#250093 346px,#040065 360px,#010053 380px,#010051 385px)"></i><i style="top:61px;background:linear-gradient(90deg,#010050,#010059 12px,#09006b 21px,#3400a9 32px,#6300dc 40px,#7a00e2 44px,#9300d0 48px,#bb0071 59px,#c60356 62px,#de2b17 69px,#e53806 71px,#fc6600 78px,#ffb200 95px,#ffda00 126px,#ffeb03 145px,#fff92c 161px,#fffc47 170px,#fffc46 181px,#fff92e 192px,#ffea00 211px,#ffcf00 232px,#ffb200 251px,#fc6500 271px,#e63a05 280px,#c9074f 293px,#bd006c 298px,#9600cc 315px,#7a00e2 322px,#5f00d9 329px,#260094 345px,#050065 359px,#010053 379px,#010051 385px)"></i><i style="top:62px;background:linear-gradient(90deg,#010050,#010059 12px,#08006a 21px,#3400a8 32px,#6200db 40px,#7900e2 44px,#9200d1 48px,#bb0073 59px,#c50358 62px,#d92422 68px,#e43708 71px,#f85e00 77px,#ff8200 84px,#ffb400 96px,#ffd900 124px,#ffeb02 147px,#fffa33 170px,#fff930 181px,#ffe900 208px,#ffd300 228px,#ffb200 250px,#fc6600 270px,#e63a05 279px,#c9074e 292px,#be006b 297px,#9600ca 314px,#7b00e2 321px,#6000da 328px,#240092 345px,#050066 358px,#010052 379px,#010051 385px)"></i><i style="top:63px;background:linear-gradient(90deg,#010050,#010059 12px,#080069 21px,#3300a7 32px,#6100db 40px,#7800e2 44px,#9200d2 48px,#b40086 57px,#c50259 62px,#d92324 68px,#e73c04 72px,#fd6800 79px,#ffb300 96px,#ffd700 123px,#ffeb03 150px,#fff720 168px,#fff51b 185px,#ffe800 205px,#ffd300 226px,#ffb200 249px,#fc6600 269px,#e63a05 278px,#c9074e 291px,#be006b 296px,#9700c9 313px,#7c00e2 320px,#6100db 327px,#22008f 345px,#050065 358px,#010053 378px,#010051 385px)"></i><i style="top:64px;background:linear-gradient(90deg,#010050,#01005a 13px,#070069 21px,#3200a6 32px,#60d 41px,#7d00e1 45px,#9600cb 49px,#c4015a 62px,#d51b2e 67px,#e63b04 72px,#fd6c00 80px,#ffb300 96px,#ffd700 123px,#ffeb03 153px,#fff317 168px,#fff010 186px,#ffe800 201px,#ffd400 224px,#ffb200 248px,#fc6600 268px,#e63b05 277px,#c9074e 290px,#be006b 295px,#9500cd 313px,#7900e2 320px,#5f00d8 327px,#230090 344px,#050065 357px,#010052 378px,#010051 385px)"></i><i style="top:65px;background:linear-gradient(90deg,#010050,#01005a 13px,#070068 21px,#3200a6 32px,#6500dd 41px,#7d00e1 45px,#9500cc 49px,#c4015c 62px,#d51b2f 67px,#e63a05 72px,#fd6c00 80px,#ffb200 96px,#ffd600 123px,#ffeb02 156px,#fff00e 168px,#ffec04 188px,#ffe100 207px,#ffd000 225px,#ffb200 247px,#fc6600 267px,#e63b05 276px,#c9074f 289px,#bd006c 294px,#9400ce 312px,#7900e2 319px,#6000da 326px,#230091 343px,#040065 357px,#010053 377px,#010050 385px)"></i><i style="top:66px;background:linear-gradient(90deg,#010050,#01005a 13px,#060068 21px,#3100a5 32px,#6500dd 41px,#7c00e2 45px,#9500cd 49px,#c3005d 62px,#d51a30 67px,#e53a05 72px,#fd6b00 80px,#ffb300 97px,#ffd600 123px,#ffeb03 161px,#ffeb03 179px,#ffd500 219px,#ffb100 246px,#fc6700 266px,#e63b05 275px,#c9074f 288px,#bd006c 293px,#9400cf 311px,#7800e2 318px,#5f00d9 325px,#22008f 343px,#050065 356px,#010052 377px,#010050 385px)"></i><i style="top:67px;background:linear-gradient(90deg,#010050,#01005a 13px,#060067 21px,#3000a4 32px,#6400dd 41px,#7b00e2 45px,#9400ce 49px,#bc006f 60px,#c60455 63px,#e1330e 71px,#e83f04 73px,#fd6a00 80px,#ffb300 97px,#ffd500 123px,#ffea00 167px,#ffda00 211px,#ffb100 245px,#fc6700 265px,#e63b05 274px,#c9074f 287px,#bf0067 291px,#9600cb 309px,#7b00e2 316px,#6100db 323px,#22008f 342px,#040065 356px,#010053 376px,#010050 385px)"></i><i style="top:68px;background:linear-gradient(90deg,#010050,#01005a 13px,#060067 21px,#3000a4 32px,#6400dd 41px,#7b00e2 45px,#9400cf 49px,#bc0070 60px,#c60455 63px,#de2c17 70px,#e53806 72px,#fc6500 79px,#ffb100 96px,#ffd500 123px,#ffe800 167px,#ffd300 217px,#ffb100 244px,#fc6700 264px,#e63b04 273px,#c9074f 286px,#bf0067 290px,#9500cc 308px,#7a00e2 315px,#6000da 322px,#230091 340px,#050065 355px,#010052 376px,#010050 385px)"></i><i style="top:69px;background:linear-gradient(90deg,#010050,#01005a 13px,#09006c 22px,#3000a3 32px,#6300dc 41px,#7b00e2 45px,#9400cf 49px,#bb0071 60px,#c60356 63px,#dd2b18 70px,#e43807 72px,#fc6500 79px,#ffb000 96px,#ffd400 123px,#ffe700 168px,#ffd100 217px,#ffb100 243px,#fc6700 263px,#e63c04 272px,#c90750 285px,#bf0068 289px,#9500cd 307px,#7900e2 314px,#5f00d8 321px,#22008f 339px,#050065 353px,#010052 376px,#010050 385px)"></i><i style="top:70px;background:linear-gradient(90deg,#010050,#010059 13px,#09006b 22px,#2f00a2 32px,#6300dc 41px,#7a00e2 45px,#9300d0 49px,#bf0069 61px,#cd0c45 65px,#e43707 72px,#f85e00 78px,#ff8100 85px,#ffb200 97px,#ffd400 123px,#ffe600 168px,#ffd000 216px,#ffb100 242px,#fc6800 262px,#e63c04 271px,#c80650 284px,#bf0068 288px,#9400cf 306px,#7800e2 313px,#5e00d7 320px,#230091 337px,#050066 351px,#010053 374px,#010050 385px)"></i><i style="top:71px;background:linear-gradient(90deg,#010050,#010059 13px,#09006b 22px,#2f00a2 32px,#6300dc 41px,#7a00e2 45px,#9300d0 49px,#be0069 61px,#cd0b46 65px,#e43708 72px,#f85d00 78px,#ff8100 85px,#ffb200 97px,#ffd400 124px,#ffe500 169px,#ffd000 215px,#ffb100 241px,#fb6400 262px,#e43807 271px,#c80650 283px,#bf0068 287px,#9600ca 304px,#7b00e2 311px,#6000da 318px,#22008f 336px,#050065 350px,#010053 372px,#01004f 385px)"></i><i style="top:72px;background:linear-gradient(90deg,#010050,#010059 13px,#08006b 22px,#2f00a1 32px,#6200dc 41px,#7900e2 45px,#9300d1 49px,#be006a 61px,#c9074f 64px,#e43609 72px,#f45600 77px,#fe7200 82px,#ffb100 97px,#ffd300 124px,#ffe300 170px,#ffd000 214px,#ffb100 240px,#fb6400 261px,#e43807 270px,#c80650 282px,#bf0069 286px,#9600cb 303px,#7a00e2 310px,#5f00d9 317px,#240092 334px,#050065 348px,#010053 370px,#01004f 385px)"></i><i style="top:73px;background:linear-gradient(90deg,#010050,#010059 13px,#08006a 22px,#2e00a1 32px,#6200db 41px,#7900e2 45px,#9200d1 49px,#ba0073 60px,#c50259 63px,#d92323 69px,#e73c04 73px,#fd6d00 81px,#ffb100 97px,#ffd300 124px,#ffe200 170px,#ffcf00 215px,#ffad00 240px,#fb6400 260px,#e43806 269px,#c80650 281px,#bf0069 285px,#9500cc 302px,#7900e2 309px,#5e00d7 316px,#250094 332px,#050066 346px,#010052 369px,#00004e 385px)"></i><i style="top:74px;background:linear-gradient(90deg,#010050,#010059 13px,#08006a 22px,#2e00a1 32px,#6100db 41px,#7900e2 45px,#9200d2 49px,#b7007d 59px,#c50259 63px,#d92224 69px,#e63c04 73px,#fd6c00 81px,#ffb100 97px,#ffd200 124px,#ffe100 171px,#ffcf00 215px,#ffaf00 239px,#ffa300 242px,#f90 243px,#ff9800 245px,#fc6400 259px,#e53806 268px,#c80650 280px,#be0069 284px,#9500cd 301px,#7800e2 308px,#6100db 314px,#240093 331px,#050065 345px,#010052 367px,#00004e 385px)"></i><i style="top:75px;background:linear-gradient(90deg,#010050,#010059 13px,#08006a 22px,#2e00a0 32px,#6100db 41px,#7800e2 45px,#9200d2 49px,#b30086 58px,#c4015a 63px,#d82225 69px,#e63b05 73px,#fd6c00 81px,#ffb000 97px,#ffd200 124px,#ffe000 172px,#ffcf00 215px,#ffaf00 239px,#fc6500 258px,#e53806 267px,#c80650 279px,#be0069 283px,#9400ce 300px,#7b00e2 306px,#6000d9 313px,#260095 329px,#050066 343px,#010053 365px,#00004e 385px)"></i><i style="top:76px;background:linear-gradient(90deg,#01004f,#010059 13px,#080069 22px,#2d00a0 32px,#6100db 41px,#7800e2 45px,#9100d2 49px,#b0008f 57px,#c4015b 63px,#d51b2e 68px,#e63a05 73px,#fd6b00 81px,#ffb000 97px,#ffd100 124px,#ffdf00 172px,#ffcf00 215px,#ffac00 240px,#fb6400 258px,#e53906 266px,#c80650 278px,#be006a 282px,#9400cf 299px,#7a00e2 305px,#5f00d8 312px,#250093 328px,#050065 342px,#010053 363px,#00004d 385px)"></i><i style="top:77px;background:linear-gradient(90deg,#01004f,#010059 13px,#070069 22px,#3200a7 33px,#60d 42px,#7d00e1 46px,#9600cb 50px,#c4015c 63px,#d82027 69px,#e53a05 73px,#fd6b00 81px,#ffb000 97px,#ffd100 125px,#ffde00 173px,#ffcf00 215px,#ffad00 240px,#fc6500 258px,#e53906 266px,#cb094a 276px,#c10063 280px,#9300d0 298px,#7900e2 304px,#5e00d7 311px,#240092 327px,#050066 340px,#010053 361px,#00004d 385px)"></i><i style="top:78px;background:linear-gradient(90deg,#01004f,#010059 13px,#070069 22px,#3200a6 33px,#60d 42px,#7d00e1 46px,#9500cc 50px,#c3005c 63px,#d72027 69px,#e53906 73px,#fd6a00 81px,#ffaf00 97px,#ffd100 125px,#fd0 174px,#ffce00 216px,#ffae00 240px,#fc6600 258px,#e63a05 266px,#c80650 277px,#bd006c 281px,#9c00bf 294px,#8a00d8 299px,#7900e2 303px,#6100db 309px,#250094 325px,#050065 339px,#010053 360px,#00004c 385px)"></i><i style="top:79px;background:linear-gradient(90deg,#01004f,#010058 13px,#070068 22px,#3200a6 33px,#6500dd 42px,#7c00e1 46px,#9500cd 50px,#c3005d 63px,#d41931 68px,#e43806 73px,#fc6400 80px,#ffae00 97px,#ffd100 125px,#ffdc00 175px,#ffcd00 216px,#ffaf00 240px,#fc6700 258px,#e63c04 266px,#c9074e 277px,#c10064 280px,#9600ca 295px,#8000df 300px,#7000e0 304px,#6000da 308px,#250093 324px,#050066 337px,#010053 358px,#00004c 385px)"></i><i style="top:80px;background:linear-gradient(90deg,#01004f,#010058 13px,#070068 22px,#3100a5 33px,#6500dd 42px,#7c00e2 46px,#9400ce 50px,#bf0067 62px,#cd0c44 66px,#e43708 73px,#f85d00 79px,#ff8000 86px,#ffb000 98px,#ffd000 126px,#ffdb00 176px,#ffcd00 216px,#ffaf00 240px,#fd6800 258px,#e73d04 266px,#df2e15 269px,#c70554 278px,#b90077 283px,#9400cf 296px,#7b00e2 301px,#5f00d9 307px,#260095 322px,#050065 336px,#010053 356px,#00004b 385px)"></i><i style="top:81px;background:linear-gradient(90deg,#01004f,#010058 13px,#060068 22px,#3100a4 33px,#6400dd 42px,#7b00e2 46px,#9400cf 50px,#bb0071 61px,#c50357 64px,#dd291a 71px,#e73c04 74px,#fd6c00 82px,#ffaf00 98px,#ffd000 126px,#ffdb00 176px,#ffcd00 216px,#ffac00 241px,#fc6400 259px,#e53906 267px,#c80552 278px,#bc006e 282px,#9500cd 296px,#7c00e2 301px,#6000da 307px,#280098 320px,#050066 334px,#010053 355px,#00004b 385px)"></i><i style="top:82px;background:linear-gradient(90deg,#01004f,#010058 13px,#060067 22px,#3000a4 33px,#6300dc 42px,#7a00e2 46px,#9300d0 50px,#be006a 62px,#c90650 65px,#e63b05 74px,#fd6b00 82px,#ffaf00 98px,#ffd000 127px,#ffda00 177px,#ffcd00 216px,#ffad00 241px,#fc6500 259px,#e53a05 267px,#c80650 278px,#bd006d 282px,#9500cc 296px,#7900e2 302px,#5d00d6 308px,#250094 321px,#060067 332px,#010053 352px,#00004a 385px)"></i><i style="top:83px;background:linear-gradient(90deg,#01004f,#010058 13px,#060067 22px,#3000a3 33px,#6300dc 42px,#7a00e2 46px,#9300d1 50px,#be006b 62px,#c80651 65px,#e2340c 73px,#e94003 75px,#fd6a00 82px,#ffaf00 99px,#ffd000 128px,#ffd900 178px,#ffcd00 216px,#ffad00 241px,#fc6600 259px,#e63b05 267px,#c9074f 278px,#c00064 281px,#9600ca 296px,#7a00e2 302px,#5e00d8 308px,#260095 321px,#050065 333px,#010053 351px,#00004a 385px)"></i><i style="top:84px;background:linear-gradient(90deg,#01004f,#010057 13px,#060067 22px,#2f00a2 33px,#6200db 42px,#7900e2 46px,#9200d2 50px,#b30087 59px,#c4015c 64px,#d72028 70px,#e53806 74px,#fb6400 81px,#ffac00 98px,#ffcf00 128px,#ffd900 179px,#ffcd00 216px,#ffae00 241px,#fc6700 259px,#e63c04 267px,#c9084d 278px,#c10062 281px,#9700c9 296px,#7f00df 301px,#6d00df 305px,#5f00d9 308px,#240092 322px,#050065 333px,#010053 350px,#000049 385px)"></i><i style="top:85px;background:linear-gradient(90deg,#01004f,#010057 13px,#060066 22px,#2e00a1 33px,#6100db 42px,#7800e2 46px,#9100d3 50px,#af0091 58px,#c3005d 64px,#d71e29 70px,#e43708 74px,#f75c00 80px,#ff7a00 86px,#ffb000 100px,#ffcf00 129px,#ffd800 180px,#fc0 216px,#ffae00 241px,#fd6800 259px,#e73d04 267px,#df2e15 270px,#c70553 279px,#b90076 284px,#9400ce 297px,#7c00e2 302px,#6000da 308px,#240093 322px,#050066 333px,#010052 351px,#000049 385px)"></i><i style="top:86px;background:linear-gradient(90deg,#01004f,#010059 14px,#08006a 23px,#2d00a0 33px,#60d 43px,#7d00e1 47px,#9500cd 51px,#c60357 65px,#dc291b 72px,#e63b04 75px,#fd6a00 83px,#ffaf00 100px,#ffcf00 130px,#ffd700 181px,#fc0 216px,#ffae00 241px,#fb6400 260px,#e53906 268px,#c80652 279px,#bd006e 283px,#9500cc 297px,#7800e3 303px,#5d00d6 309px,#250094 322px,#040065 334px,#010052 351px,#000048 385px)"></i><i style="top:87px;background:linear-gradient(90deg,#01004f,#010059 14px,#080069 23px,#2d009f 33px,#6500dd 43px,#7c00e2 47px,#9400ce 51px,#be006a 63px,#c80650 66px,#e53905 75px,#fd6900 83px,#ffae00 100px,#ffcf00 130px,#ffd700 182px,#fc0 216px,#ffab00 242px,#fc6500 260px,#e53905 268px,#c80650 279px,#bd006c 283px,#9600cb 297px,#7900e2 303px,#5e00d7 309px,#260095 322px,#050065 334px,#010053 351px,#000048 385px)"></i><i style="top:88px;background:linear-gradient(90deg,#01004f,#010058 14px,#070069 23px,#3100a5 34px,#6400dd 43px,#7a00e2 47px,#9300d0 51px,#c00064 64px,#d11339 69px,#e43807 75px,#fa6200 82px,#ff9200 93px,#ffaf00 101px,#ffcf00 131px,#ffd600 183px,#fc0 216px,#ffab00 242px,#fc6500 260px,#e63a05 268px,#c9074f 279px,#c00064 282px,#9700c9 297px,#7a00e2 303px,#5f00d8 309px,#240091 323px,#050065 334px,#010053 351px,#000047 385px)"></i><i style="top:89px;background:linear-gradient(90deg,#01004f,#010058 14px,#060068 23px,#3000a4 34px,#6300dc 43px,#7900e2 47px,#9200d2 51px,#b30088 60px,#c60455 66px,#e02f12 74px,#e63c04 76px,#fd6a00 84px,#ffae00 101px,#ffcf00 132px,#ffd500 184px,#ffcb00 216px,#ffab00 242px,#fc6600 260px,#e63b05 268px,#c9074e 279px,#c10063 282px,#9700c8 297px,#8000df 302px,#7200e1 305px,#6000da 309px,#240092 323px,#050066 334px,#010052 352px,#000048 385px)"></i><i style="top:90px;background:linear-gradient(90deg,#01004f,#010058 14px,#060067 23px,#2f00a2 34px,#6100db 43px,#7e00e0 48px,#9500cc 52px,#c50358 66px,#db271d 73px,#e53905 76px,#fd6800 84px,#ffac00 101px,#ffce00 133px,#ffd500 185px,#ffcb00 216px,#ffac00 242px,#fc6600 260px,#e63c04 268px,#ca084d 279px,#bf0069 283px,#9500cd 298px,#7800e2 304px,#6100db 309px,#250093 323px,#050066 334px,#010052 352px,#000048 385px)"></i><i style="top:91px;background:linear-gradient(90deg,#01004f,#010058 14px,#060066 23px,#2e00a1 34px,#60d 44px,#7c00e1 48px,#9400ce 52px,#c10063 65px,#d21339 70px,#e43708 76px,#f65b00 82px,#ff7800 88px,#ffaf00 103px,#ffce00 134px,#ffd400 187px,#ffcb00 216px,#ffac00 242px,#fc6700 260px,#e73c04 268px,#d71f29 274px,#c4025a 281px,#9500cc 298px,#7800e2 304px,#5d00d6 310px,#250094 323px,#050065 335px,#010053 352px,#000048 385px)"></i><i style="top:92px;background:linear-gradient(90deg,#01004f,#010059 15px,#08006a 24px,#2d009f 34px,#6400dd 44px,#7b00e2 48px,#9300d0 52px,#bc006e 64px,#c60455 67px,#df2f13 75px,#e63b05 77px,#fd6900 85px,#ffae00 103px,#ffce00 135px,#ffd300 188px,#ffcb00 216px,#ffac00 242px,#fc6700 260px,#e73d04 268px,#df2e14 271px,#c80552 280px,#bd006d 284px,#9600cb 298px,#7900e2 304px,#5e00d7 310px,#260095 323px,#050065 335px,#010053 352px,#000048 385px)"></i><i style="top:93px;background:linear-gradient(90deg,#01004f,#010059 15px,#070069 24px,#3100a5 35px,#6300dc 44px,#7900e2 48px,#9600cb 53px,#c50258 67px,#d82126 73px,#e43806 77px,#fa6100 84px,#ff9000 95px,#ffaf00 104px,#ffce00 136px,#ffd300 189px,#ffca00 216px,#ffac00 242px,#fc6700 260px,#e53806 269px,#c80651 280px,#bd006c 284px,#9600ca 298px,#7a00e2 304px,#5f00d8 310px,#240092 324px,#050066 335px,#010052 353px,#000048 385px)"></i><i style="top:94px;background:linear-gradient(90deg,#01004f,#010058 15px,#070068 24px,#3000a3 35px,#6100db 44px,#7d00e1 49px,#9500cd 53px,#c10064 66px,#d1123a 71px,#e63b04 78px,#fd6900 86px,#ffae00 104px,#ffce00 137px,#ffd200 191px,#ffca00 216px,#ffac00 242px,#fd6800 260px,#e53906 269px,#c80650 280px,#be006b 284px,#9700c9 298px,#7b00e2 304px,#6000d9 310px,#240093 324px,#050066 335px,#010052 353px,#000048 385px)"></i><i style="top:95px;background:linear-gradient(90deg,#01004f,#010058 15px,#060067 24px,#2e00a1 35px,#6500dd 45px,#7b00e2 49px,#9800c8 54px,#c60356 68px,#db271e 75px,#e53806 78px,#fc6600 86px,#ffac00 104px,#ffce00 137px,#ffd200 192px,#ffc900 216px,#ffac00 242px,#fb6300 261px,#e53906 269px,#c9074f 280px,#c00064 283px,#9800c8 298px,#8000df 303px,#7300e1 306px,#6000da 310px,#250093 324px,#040065 336px,#010053 353px,#000048 385px)"></i><i style="top:96px;background:linear-gradient(90deg,#01004f,#010058 15px,#050066 24px,#2d009f 35px,#6300dc 45px,#7900e2 49px,#9600cb 54px,#c4025a 68px,#da2421 75px,#e63b04 79px,#fd6c00 88px,#ffad00 105px,#ffce00 139px,#ffd100 194px,#ffc900 216px,#ffac00 242px,#fb6400 261px,#e53a05 269px,#c9074e 280px,#c10063 283px,#9400cd 299px,#7800e2 305px,#6100db 310px,#250094 324px,#050065 336px,#010053 353px,#000048 385px)"></i><i style="top:97px;background:linear-gradient(90deg,#01004f,#010059 16px,#070069 25px,#3000a4 36px,#6200db 45px,#7d00e1 50px,#9400ce 54px,#c3005e 68px,#d82125 75px,#e53806 79px,#fc6600 87px,#ffad00 106px,#ffcd00 140px,#ffd100 195px,#ffc900 216px,#ffab00 242px,#fb6400 261px,#e53a05 269px,#c9074e 280px,#be0069 284px,#9500cd 299px,#7800e2 305px,#5d00d7 311px,#260095 324px,#050065 336px,#010053 353px,#000048 385px)"></i><i style="top:98px;background:linear-gradient(90deg,#00004e,#010058 16px,#070068 25px,#2f00a2 36px,#6500dd 46px,#7b00e2 50px,#9700c9 55px,#c50259 69px,#da2421 76px,#e63b05 80px,#fd6c00 89px,#ffae00 107px,#ffcd00 141px,#ffd000 197px,#ffc800 216px,#ffab00 242px,#fc6400 261px,#e63a05 269px,#ca084d 280px,#bf0068 284px,#9500cc 299px,#7900e2 305px,#5e00d8 311px,#240091 325px,#050066 336px,#010052 354px,#000048 385px)"></i><i style="top:99px;background:linear-gradient(90deg,#00004e,#010058 16px,#060067 25px,#2d009f 36px,#6300dc 46px,#7900e2 50px,#9500cc 55px,#c3005d 69px,#d82125 76px,#e43807 80px,#f95f00 87px,#ff8600 96px,#ffae00 108px,#ffcd00 142px,#ffcf00 199px,#ffc800 216px,#ffab00 242px,#fc6400 261px,#e63a05 269px,#ca084c 280px,#bf0068 284px,#9600cb 299px,#7a00e2 305px,#5f00d8 311px,#240092 325px,#050066 336px,#010052 354px,#000048 385px)"></i><i style="top:100px;background:linear-gradient(90deg,#00004e,#010058 16px,#08006a 26px,#3000a4 37px,#6100db 46px,#7c00e2 51px,#9800c8 56px,#c50259 70px,#d92422 77px,#e63a05 81px,#fd6b00 90px,#ffad00 108px,#ffcd00 143px,#ffcf00 200px,#ffc600 217px,#ffab00 242px,#fc6400 261px,#e63b05 269px,#ca084c 280px,#bf0067 284px,#9600ca 299px,#7a00e2 305px,#5f00d9 311px,#240093 325px,#040065 337px,#010053 354px,#000048 385px)"></i><i style="top:101px;background:linear-gradient(90deg,#00004e,#010059 17px,#070068 26px,#2f00a1 37px,#6400dd 47px,#7a00e2 51px,#9600cb 56px,#c3005d 70px,#d82126 77px,#e43708 81px,#f85e00 88px,#ff8400 97px,#ffae00 110px,#ffcd00 145px,#ffce00 203px,#ffc100 222px,#fa0 242px,#fc6400 261px,#e63b05 269px,#ca084b 280px,#bf0067 284px,#9700c9 299px,#7b00e2 305px,#6000da 311px,#250093 325px,#050065 337px,#010053 354px,#000048 385px)"></i><i style="top:102px;background:linear-gradient(90deg,#00004e,#010058 17px,#060067 26px,#2d009f 37px,#6200db 47px,#7d00e1 52px,#9400cf 56px,#c10062 70px,#d41832 76px,#e53906 82px,#fc6500 90px,#ffab00 109px,#ffcd00 145px,#ffce00 204px,#ffb300 236px,#fa0 242px,#fc6400 261px,#e63b05 269px,#c80552 281px,#bd006d 285px,#9700c9 299px,#7b00e2 305px,#6000da 311px,#250094 325px,#050065 337px,#010053 354px,#000049 385px)"></i><i style="top:103px;background:linear-gradient(90deg,#00004e,#010058 17px,#08006a 27px,#3000a3 38px,#6500dd 48px,#7a00e2 52px,#9600cb 57px,#c60356 72px,#da2520 79px,#e63b05 83px,#fd6a00 92px,#ffad00 111px,#ffcd00 147px,#ffcd00 206px,#ffad00 241px,#fc6400 261px,#e63b05 269px,#c80652 281px,#bd006d 285px,#9700c8 299px,#8000df 304px,#7300e1 307px,#5c00d6 312px,#260094 325px,#050065 337px,#010052 355px,#000049 385px)"></i><i style="top:104px;background:linear-gradient(90deg,#00004e,#010059 18px,#070068 27px,#2e00a0 38px,#6300dc 48px,#7d00e1 53px,#9400ce 57px,#c10063 71px,#d31734 77px,#e43807 83px,#f85e00 90px,#ff8300 99px,#ffad00 112px,#fc0 149px,#fc0 207px,#ffac00 241px,#fb6400 261px,#e63b05 269px,#c80651 281px,#bd006c 285px,#9800c8 299px,#8100de 304px,#7300e1 307px,#5d00d6 312px,#230091 326px,#050066 337px,#010052 355px,#000049 385px)"></i><i style="top:105px;background:linear-gradient(90deg,#00004e,#010058 18px,#060066 27px,#3100a4 39px,#6500dd 49px,#7a00e2 53px,#9600cb 58px,#c50358 73px,#d92422 80px,#e53905 84px,#fd6900 93px,#ffac00 112px,#fc0 150px,#fc0 207px,#ffac00 241px,#fb6400 261px,#e63b05 269px,#c80651 281px,#bd006c 285px,#9400ce 300px,#7800e2 306px,#5d00d7 312px,#240091 326px,#050066 337px,#010052 355px,#000049 385px)"></i><i style="top:106px;background:linear-gradient(90deg,#00004e,#010058 18px,#070069 28px,#2e00a1 39px,#6300dc 49px,#7d00e1 54px,#9800c7 59px,#c3005d 73px,#d82027 80px,#e63b05 85px,#fd6a00 94px,#ffad00 113px,#fc0 151px,#ffcb00 207px,#ffab00 241px,#fb6400 261px,#e63b05 269px,#c80651 281px,#bd006c 285px,#9500cd 300px,#7800e2 306px,#5e00d7 312px,#240092 326px,#050066 337px,#010053 355px,#000049 385px)"></i><i style="top:107px;background:linear-gradient(90deg,#00004d,#010059 19px,#060067 28px,#2c009e 39px,#6500dd 50px,#7a00e2 54px,#9600cb 59px,#c4025a 74px,#db271d 82px,#e43707 85px,#f75d00 92px,#ff7a00 99px,#ffae00 115px,#fc0 153px,#ffcb00 207px,#fa0 241px,#fc6800 260px,#e63b05 269px,#c80651 281px,#bd006c 285px,#9500cd 300px,#7900e2 306px,#5e00d8 312px,#240092 326px,#040065 338px,#010053 355px,#000049 385px)"></i><i style="top:108px;background:linear-gradient(90deg,#00004d,#010058 19px,#08006a 29px,#2f00a2 40px,#6300dc 50px,#7d00e1 55px,#9700c8 60px,#c50357 75px,#d92322 82px,#e53906 86px,#fc6800 95px,#ffad00 115px,#fc0 154px,#ffcb00 206px,#fa0 241px,#fc6700 260px,#e63a05 269px,#c80651 281px,#bd006c 285px,#9500cc 300px,#7900e2 306px,#5f00d8 312px,#240093 326px,#050065 338px,#010053 355px,#000049 385px)"></i><i style="top:109px;background:linear-gradient(90deg,#00004d,#010057 19px,#060068 29px,#2c009e 40px,#6500dd 51px,#7a00e2 55px,#9500cc 60px,#c3005c 75px,#d72028 82px,#e63a05 87px,#fd6c00 97px,#ffad00 116px,#fc0 156px,#ffca00 206px,#ffac00 240px,#fc6700 260px,#e63a05 269px,#c80651 281px,#be006b 285px,#9500cc 300px,#7900e2 306px,#5f00d9 312px,#250093 326px,#050065 338px,#010052 356px,#000049 385px)"></i><i style="top:110px;background:linear-gradient(90deg,#00004d,#010058 20px,#08006a 30px,#2f00a2 41px,#6200dc 51px,#7c00e2 56px,#9700c9 61px,#c4025a 76px,#db261e 84px,#e63c04 88px,#fd6900 97px,#ffad00 117px,#ffcb00 157px,#ffc900 206px,#ffab00 240px,#fc6600 260px,#e53a05 269px,#c80651 281px,#bd006c 285px,#9500cc 300px,#7a00e2 306px,#5f00d9 312px,#250094 326px,#050065 338px,#010052 356px,#000049 385px)"></i><i style="top:111px;background:linear-gradient(90deg,#00004d,#010058 20px,#070068 30px,#2c009e 41px,#6500dd 52px,#7e00e0 57px,#9400ce 61px,#bf0066 75px,#cf0e41 80px,#e43807 88px,#fa6100 96px,#ff8b00 107px,#ffae00 119px,#ffcb00 159px,#ffc900 205px,#fa0 240px,#fc6600 260px,#e53a05 269px,#c80651 281px,#bd006c 285px,#9500cc 300px,#7a00e2 306px,#5f00d9 312px,#250094 326px,#050065 338px,#010052 356px,#000049 385px)"></i><i style="top:112px;background:linear-gradient(90deg,#00004d,#010059 21px,#050066 30px,#2f00a2 42px,#6200db 52px,#7b00e2 57px,#9600cb 62px,#c3005d 77px,#d71f29 84px,#e53906 89px,#fc6700 98px,#fa0 118px,#ffcb00 159px,#ffc900 204px,#ffa900 240px,#fc6500 260px,#e53906 269px,#c80651 281px,#bd006c 285px,#9600cc 300px,#7a00e2 306px,#6000d9 312px,#250094 326px,#050066 338px,#010052 356px,#000049 385px)"></i><i style="top:113px;background:linear-gradient(90deg,#00004d,#010058 21px,#070068 31px,#3100a5 43px,#6400dc 53px,#7d00e1 58px,#9700c9 63px,#c4015a 78px,#da2520 86px,#e53a05 90px,#fd6b00 100px,#ffad00 120px,#ffcb00 162px,#ffc800 204px,#ffab00 239px,#fc6500 260px,#e53906 269px,#c80552 281px,#bd006c 285px,#9600cc 300px,#7a00e2 306px,#6000da 312px,#260094 326px,#050066 338px,#010053 356px,#000049 385px)"></i><i style="top:114px;background:linear-gradient(90deg,#00004d,#010057 21px,#050066 31px,#2e00a1 43px,#60d 54px,#7a00e2 58px,#9500cd 63px,#c50259 79px,#db261f 87px,#e63b05 91px,#fd6b00 101px,#ffac00 121px,#ffcb00 164px,#ffc700 203px,#fa0 239px,#fd6800 259px,#e73d04 268px,#e02f13 271px,#c70552 281px,#bd006c 285px,#9600cb 300px,#7a00e2 306px,#6000da 312px,#260095 326px,#050066 338px,#010053 356px,#000049 385px)"></i><i style="top:115px;background:linear-gradient(90deg,#00004c,#010058 22px,#070068 32px,#3000a4 44px,#6300dc 54px,#7c00e2 59px,#9600cb 64px,#c60357 80px,#db271d 88px,#e63c04 92px,#fd6c00 102px,#ffac00 122px,#ffca00 166px,#ffc700 202px,#ffac00 238px,#fc6700 259px,#e73c04 268px,#da2520 273px,#c70553 281px,#bd006d 285px,#9600cc 300px,#7a00e2 306px,#6000da 312px,#230091 327px,#050066 338px,#010053 356px,#000049 385px)"></i><i style="top:116px;background:linear-gradient(90deg,#00004c,#010057 22px,#050066 32px,#2d00a0 44px,#6400dd 55px,#7d00e1 60px,#9700c9 65px,#c3005c 80px,#d71e2a 87px,#e43707 92px,#f96000 100px,#f80 111px,#ffad00 124px,#ffc900 167px,#ffc700 200px,#ffab00 238px,#fc6700 259px,#e63c04 268px,#ca084d 280px,#bf0067 284px,#9600cc 300px,#7a00e2 306px,#6000da 312px,#230091 327px,#050066 338px,#010053 356px,#000049 385px)"></i><i style="top:117px;background:linear-gradient(90deg,#00004c,#010058 23px,#070068 33px,#2f00a3 45px,#6100db 55px,#7a00e2 60px,#9400cd 65px,#c10062 80px,#d21536 86px,#e53806 93px,#fc6500 102px,#ffa600 122px,#ffb000 129px,#ffc900 170px,#ffc500 202px,#fa0 238px,#fc6600 259px,#e63b05 268px,#ca084d 280px,#bf0067 284px,#9500cc 300px,#7a00e2 306px,#6000da 312px,#230091 327px,#040065 339px,#010053 356px,#000049 385px)"></i><i style="top:118px;background:linear-gradient(90deg,#00004c,#010057 23px,#050066 33px,#2c009e 45px,#6300dc 56px,#7c00e2 61px,#9600cb 66px,#c50259 82px,#dd2a1a 91px,#e53906 94px,#fd6900 104px,#ffac00 125px,#ffc700 167px,#ffc600 199px,#ffac00 237px,#fd6900 258px,#e63a05 268px,#c9074e 280px,#bf0068 284px,#9500cc 300px,#7a00e2 306px,#6000da 312px,#240091 327px,#040065 339px,#010052 357px,#000049 385px)"></i><i style="top:119px;background:linear-gradient(90deg,#00004c,#010058 24px,#060067 34px,#2e00a1 46px,#6500dd 57px,#7d00e1 62px,#9700c9 67px,#c50358 83px,#dd2b19 92px,#e53905 95px,#fd6900 105px,#ffab00 126px,#ffc600 167px,#ffc500 199px,#fa0 237px,#fd6800 258px,#e53905 268px,#c9074f 280px,#bf0068 284px,#9500cc 300px,#7a00e2 306px,#6000da 312px,#240092 327px,#040065 339px,#010052 357px,#000049 385px)"></i><i style="top:120px;background:linear-gradient(90deg,#00004c,#010057 24px,#070069 35px,#3000a3 47px,#6100db 57px,#7a00e2 62px,#9400cf 67px,#bb0073 80px,#c60356 84px,#dd2b18 93px,#e63a05 96px,#fd6900 106px,#fa0 127px,#ffc500 167px,#ffc400 199px,#ffac00 236px,#fd6b00 257px,#e73d04 267px,#dd2b18 271px,#c60356 281px,#a500ae 295px,#8c00d6 302px,#7a00e2 306px,#6000da 312px,#240092 327px,#050065 339px,#010052 357px,#000049 385px)"></i><i style="top:121px;background:linear-gradient(90deg,#00004b,#010058 25px,#060066 35px,#2d009f 47px,#6300dc 58px,#7b00e2 63px,#9500cd 68px,#c3005c 84px,#d61d2b 91px,#e63a05 97px,#fd6d00 108px,#ffac00 129px,#ffc400 171px,#ffc100 204px,#fa0 236px,#fd6a00 257px,#e73c04 267px,#d82225 273px,#c3005d 282px,#9800c7 299px,#8200dd 304px,#7500e2 307px,#6000da 312px,#240092 327px,#050065 339px,#010052 357px,#00004a 385px)"></i><i style="top:122px;background:linear-gradient(90deg,#00004b,#010058 26px,#070068 36px,#2f00a1 48px,#6400dd 59px,#7c00e1 64px,#9600cb 69px,#c4015b 85px,#d92224 93px,#e63b05 98px,#fd6d00 109px,#ffac00 130px,#ffc300 172px,#ffbf00 205px,#ffa900 236px,#fd6900 257px,#e63b05 267px,#c80651 280px,#be006a 284px,#9800c7 299px,#8200dd 304px,#7500e2 307px,#6000da 312px,#240092 327px,#050065 339px,#010052 357px,#00004a 385px)"></i><i style="top:123px;background:linear-gradient(90deg,#00004b,#010058 26px,#08006a 37px,#3000a4 49px,#60d 60px,#7e00e0 65px,#9700c9 70px,#c4015a 86px,#d92323 94px,#e63b05 99px,#fd6d00 110px,#ffab00 131px,#ffc200 171px,#ffbf00 204px,#fa0 235px,#fd6b00 256px,#e63a05 267px,#ca084c 279px,#c00065 283px,#9800c8 299px,#7d00e1 305px,#6400dd 311px,#240092 327px,#050065 339px,#010052 357px,#00004a 385px)"></i><i style="top:124px;background:linear-gradient(90deg,#00004b,#010058 27px,#060067 37px,#2d009f 49px,#6200db 60px,#7a00e2 65px,#9400cf 70px,#b7007c 82px,#c50259 87px,#dc281c 96px,#e63b04 100px,#fd6c00 111px,#fa0 132px,#ffc100 170px,#ffbe00 204px,#ffa800 235px,#fe6d00 255px,#e94203 265px,#e3350b 268px,#c70553 280px,#bb0073 285px,#9400ce 300px,#7900e2 306px,#6000d9 312px,#240092 327px,#050065 339px,#010052 357px,#00004a 385px)"></i><i style="top:125px;background:linear-gradient(90deg,#00004b,#010057 27px,#070069 38px,#2e00a1 50px,#6300dc 61px,#7b00e2 66px,#9500cd 71px,#bf0066 86px,#ce0c44 91px,#e63c04 101px,#fd6c00 112px,#ffa900 133px,#ffbf00 169px,#ffbe00 203px,#ffa900 234px,#fd6c00 255px,#e73c04 266px,#db271e 271px,#c70454 280px,#b60080 287px,#9400cf 300px,#7900e2 306px,#5f00d9 312px,#240092 327px,#050065 339px,#010053 357px,#00004a 385px)"></i><i style="top:126px;background:linear-gradient(90deg,#00004a,#010058 28px,#050066 38px,#3000a3 51px,#6400dd 62px,#7c00e1 67px,#9500cc 72px,#c50358 89px,#df2d15 99px,#e63c04 102px,#fd6c00 113px,#ffa800 134px,#ffbd00 167px,#ffbd00 201px,#fa0 233px,#fe6e00 254px,#f15100 261px,#e43708 267px,#c9074f 279px,#bf0068 283px,#9700c9 299px,#7d00e1 305px,#5f00d9 312px,#240092 327px,#050065 339px,#010053 357px,#00004a 385px)"></i><i style="top:127px;background:linear-gradient(90deg,#00004a,#010058 29px,#060067 39px,#2c009e 51px,#60d 63px,#7d00e1 68px,#9600cb 73px,#c60357 90px,#df2e15 100px,#e63c04 103px,#fd6c00 114px,#ffa500 134px,#ffae00 141px,#ffbf00 180px,#ffb600 216px,#ffa800 233px,#fd6d00 254px,#e53a05 266px,#c80651 279px,#be0069 283px,#9600ca 299px,#7c00e1 305px,#5f00d8 312px,#240091 327px,#050065 339px,#010053 357px,#00004a 385px)"></i><i style="top:128px;background:linear-gradient(90deg,#00004a,#010057 29px,#070069 40px,#2e00a0 52px,#6200db 63px,#7900e2 68px,#9300d0 73px,#b30087 84px,#c60356 91px,#e1320e 102px,#e94003 105px,#fd6b00 115px,#ffa400 135px,#ffae00 142px,#ffbe00 181px,#ffb400 217px,#ffa900 232px,#fe6f00 253px,#f55700 259px,#e53906 266px,#c80552 279px,#be006a 283px,#9600cb 299px,#7c00e2 305px,#5e00d8 312px,#230091 327px,#050065 339px,#010053 357px,#00004a 385px)"></i><i style="top:129px;background:linear-gradient(90deg,#00004a,#010058 30px,#08006a 41px,#2f00a2 53px,#6300dc 64px,#7a00e2 69px,#9400cf 74px,#b40086 85px,#c60356 92px,#e1320e 103px,#e94003 106px,#fd6b00 116px,#ffa300 136px,#ffae00 143px,#ffbd00 182px,#ffb300 219px,#ffa700 232px,#fe6d00 253px,#ef4d01 261px,#e43707 266px,#c70553 279px,#bb0072 284px,#9600cc 299px,#7b00e2 305px,#5e00d8 312px,#230091 327px,#050065 339px,#010053 357px,#00004a 385px)"></i><i style="top:130px;background:linear-gradient(90deg,#00004a,#010057 30px,#060067 41px,#3000a4 54px,#6400dd 65px,#7b00e2 70px,#9400ce 75px,#b90077 88px,#c60456 93px,#e1320e 104px,#e84003 107px,#fd6a00 117px,#ffa100 137px,#ffae00 145px,#ffbc00 184px,#ffb000 222px,#ffa700 231px,#fe6f00 252px,#f35400 259px,#e33609 266px,#c60455 279px,#b40086 287px,#9500cc 299px,#7b00e2 305px,#5e00d7 312px,#230091 327px,#050065 339px,#010053 357px,#00004a 385px)"></i><i style="top:131px;background:linear-gradient(90deg,#000049,#010058 31px,#070068 42px,#2d009f 54px,#6500dd 66px,#7c00e2 71px,#9500cd 76px,#be0069 91px,#c9074f 95px,#e63b05 107px,#fd6a00 118px,#ffa000 138px,#ffad00 146px,#fb0 185px,#ffaf00 223px,#ffa800 230px,#fe7100 251px,#f45700 258px,#e53906 265px,#c80650 278px,#bf0068 282px,#9500cd 299px,#7a00e2 305px,#6100db 311px,#230091 327px,#050065 339px,#010053 357px,#00004a 385px)"></i><i style="top:132px;background:linear-gradient(90deg,#000049,#010058 32px,#08006a 43px,#2e00a0 55px,#60d 67px,#7d00e1 72px,#9500cc 77px,#c4015c 94px,#da2422 103px,#e63b05 108px,#fd6c00 120px,#ffa100 140px,#ffad00 148px,#ffba00 187px,#ffac00 227px,#ff7500 249px,#f85d00 256px,#e43707 265px,#c80552 278px,#bc0070 283px,#9400ce 299px,#7a00e2 305px,#6100db 311px,#260094 326px,#050065 339px,#010053 357px,#00004a 385px)"></i><i style="top:133px;background:linear-gradient(90deg,#000049,#010057 32px,#060066 43px,#2f00a2 56px,#6200db 67px,#7d00e1 73px,#9600cb 78px,#c4015c 95px,#d92422 104px,#e63a05 109px,#fd6c00 121px,#ffa000 141px,#ffad00 149px,#ffb800 188px,#ffac00 226px,#f70 248px,#f75b00 256px,#e53a05 264px,#c70554 278px,#bb0071 283px,#9700ca 298px,#7d00e1 304px,#6000da 311px,#250094 326px,#050065 339px,#010053 357px,#00004a 385px)"></i><i style="top:134px;background:linear-gradient(90deg,#000049,#010057 33px,#060068 44px,#3000a3 57px,#6300dc 68px,#7e00e0 74px,#9600cb 79px,#c4015c 96px,#d92322 105px,#e53a05 110px,#fd6b00 122px,#ff9e00 142px,#ffad00 151px,#ffb700 190px,#ffab00 225px,#ff7500 248px,#f85d00 255px,#e43806 264px,#c9074f 277px,#bf0067 281px,#9600cb 298px,#7c00e1 304px,#6000da 311px,#250094 326px,#040065 339px,#010053 357px,#00004a 385px)"></i><i style="top:135px;background:linear-gradient(90deg,#000049,#010058 34px,#070069 45px,#3100a4 58px,#6300dc 69px,#7a00e2 74px,#9600ca 80px,#c4015c 97px,#d92323 106px,#e53906 111px,#fc6700 122px,#ff9b00 142px,#ffad00 153px,#ffb600 192px,#ffa900 225px,#ff7600 247px,#f75b00 255px,#e43609 264px,#c80651 277px,#bf0069 281px,#9500cc 298px,#7c00e2 304px,#5f00d9 311px,#250093 326px,#040065 339px,#010053 357px,#00004a 385px)"></i><i style="top:136px;background:linear-gradient(90deg,#000048,#010058 35px,#08006a 46px,#2d009f 58px,#6400dd 70px,#7b00e2 75px,#9700c9 81px,#c3015c 98px,#db271d 108px,#e53806 112px,#fc6600 123px,#f90 143px,#ffad00 155px,#ffb500 194px,#ffa900 224px,#f70 246px,#f85d00 254px,#e53906 263px,#c70553 277px,#bc0070 282px,#9500cd 298px,#7b00e2 304px,#5f00d8 311px,#250093 326px,#040065 339px,#010053 357px,#00004a 385px)"></i><i style="top:137px;background:linear-gradient(90deg,#000048,#010057 35px,#060066 46px,#2e00a0 59px,#6400dd 71px,#7b00e2 76px,#9700c9 82px,#c3005c 99px,#db261e 109px,#e73c04 114px,#fd6b00 126px,#ff9c00 146px,#ffad00 157px,#ffb400 196px,#ffa800 223px,#ff7800 245px,#f75b00 254px,#e43708 263px,#c9074f 276px,#bd006c 281px,#9700c8 297px,#7e00e0 303px,#60d 309px,#2d00a0 323px,#050066 338px,#010053 357px,#00004a 385px)"></i><i style="top:138px;background:linear-gradient(90deg,#000048,#010058 36px,#060067 47px,#2f00a1 60px,#6500dd 72px,#7b00e2 77px,#9700c9 83px,#c60356 101px,#e43708 114px,#f75c00 123px,#ff7b00 133px,#fa0 156px,#ffb300 193px,#ffa900 221px,#ff7800 244px,#f75d00 253px,#e53906 262px,#c80652 276px,#bc006e 281px,#9700ca 297px,#7d00e1 303px,#6100db 310px,#240092 326px,#050066 338px,#010053 357px,#00004a 385px)"></i><i style="top:139px;background:linear-gradient(90deg,#000048,#010058 37px,#070068 48px,#2f00a2 61px,#60d 73px,#7c00e2 78px,#9700c8 84px,#c60357 102px,#e1320f 114px,#e83e04 117px,#fd6c00 129px,#ff9800 148px,#ffad00 162px,#ffb100 201px,#ffa800 220px,#ff7900 243px,#f85e00 252px,#e43708 262px,#c70554 276px,#b90076 282px,#9600cb 297px,#7900e2 304px,#6100da 310px,#240092 326px,#050066 338px,#010053 357px,#00004a 385px)"></i><i style="top:140px;background:linear-gradient(90deg,#000047,#010057 37px,#080069 49px,#3000a3 62px,#60d 74px,#7c00e2 79px,#9700c8 85px,#c50357 103px,#de2d16 114px,#e73d04 118px,#fd6a00 130px,#ff9700 149px,#ffac00 164px,#ffaf00 203px,#ffa700 219px,#ff7900 242px,#f75c00 252px,#e53906 261px,#c80650 275px,#bd006d 280px,#9500cd 297px,#7c00e2 303px,#6000da 310px,#230091 326px,#050066 338px,#010052 357px,#00004a 385px)"></i><i style="top:141px;background:linear-gradient(90deg,#000047,#010057 38px,#050066 49px,#3100a4 63px,#60d 75px,#7c00e1 80px,#9800c8 86px,#c50358 104px,#dc281d 114px,#e73c04 119px,#fd6c00 132px,#ff9700 151px,#ffac00 167px,#ffad00 207px,#ffa400 219px,#ff7a00 241px,#f85d00 251px,#e43708 261px,#c70552 275px,#bc006f 280px,#9700c9 296px,#7f00e0 302px,#6b00df 307px,#5b00d4 311px,#230091 326px,#050065 338px,#010052 357px,#00004a 385px)"></i><i style="top:142px;background:linear-gradient(90deg,#000047,#010058 39px,#060067 50px,#2d009f 63px,#6200dc 75px,#7d00e1 81px,#9800c8 87px,#c50259 105px,#db271e 115px,#e63b05 120px,#fd6b00 133px,#ff9700 153px,#ffac00 170px,#ffac00 210px,#ff8c00 232px,#fa6200 249px,#e53806 260px,#c9074f 274px,#be006b 279px,#9600ca 296px,#7a00e2 303px,#5e00d8 310px,#250094 325px,#050065 338px,#010052 357px,#00004a 385px)"></i><i style="top:143px;background:linear-gradient(90deg,#000047,#010058 40px,#060067 51px,#2d00a0 64px,#6300dc 76px,#7d00e1 82px,#9800c8 88px,#c50259 106px,#dd2a1a 117px,#e53a05 121px,#fd6c00 135px,#ff9500 154px,#ffac00 173px,#ffab00 209px,#f80 233px,#fb6300 248px,#e53a05 259px,#c80552 274px,#bd006d 279px,#9500cc 296px,#7900e2 303px,#5d00d7 310px,#250093 325px,#050065 338px,#010052 357px,#00004a 385px)"></i><i style="top:144px;background:linear-gradient(90deg,#000047,#010057 40px,#070068 52px,#2e00a0 65px,#6300dc 77px,#7d00e1 83px,#9800c8 89px,#c4015a 107px,#de2d16 119px,#e73c04 123px,#fd6a00 136px,#ff9400 156px,#ffac00 177px,#ffa900 208px,#ff8700 232px,#f96000 248px,#e43807 259px,#c70454 274px,#b8007b 281px,#9500cd 296px,#7800e2 303px,#6000da 309px,#240093 325px,#050065 338px,#010052 357px,#00004a 385px)"></i><i style="top:145px;background:linear-gradient(90deg,#000046,#010057 41px,#070069 53px,#2e00a1 66px,#6300dc 78px,#7d00e1 84px,#9700c8 90px,#c4015b 108px,#db281d 119px,#e63b05 124px,#fd6b00 138px,#ff9300 158px,#ffab00 181px,#ffa800 205px,#ff8c00 228px,#fb6400 246px,#e53906 258px,#c80651 273px,#bd006d 278px,#9700ca 295px,#7b00e2 302px,#5f00d9 309px,#240092 325px,#040065 338px,#010052 357px,#00004a 385px)"></i><i style="top:146px;background:linear-gradient(90deg,#000046,#010057 42px,#080069 54px,#2f00a2 67px,#6300dc 79px,#7d00e1 85px,#9700c8 91px,#c60357 110px,#df2e14 122px,#e73d04 126px,#fd6a00 139px,#ff9100 159px,#ffa800 182px,#ffa600 203px,#ff8d00 226px,#fb6400 245px,#e63a05 257px,#c70454 273px,#b8007a 280px,#9600cb 295px,#7900e2 302px,#5e00d8 309px,#230091 325px,#040065 338px,#010052 357px,#00004a 385px)"></i><i style="top:147px;background:linear-gradient(90deg,#000046,#010058 43px,#050066 54px,#2f00a2 68px,#6300dc 80px,#7d00e1 86px,#9700c9 92px,#c50258 111px,#e03111 124px,#e63c04 127px,#fd6a00 141px,#ff9000 161px,#ffa500 184px,#ffa100 206px,#ff8500 229px,#fa6100 245px,#e43807 257px,#c60357 273px,#9800c8 294px,#8000df 300px,#7100e0 304px,#5d00d7 309px,#230090 325px,#050066 337px,#010053 356px,#00004a 385px)"></i><i style="top:148px;background:linear-gradient(90deg,#000046,#010058 44px,#060066 55px,#2f00a3 69px,#6300dc 81px,#7d00e1 87px,#9700c9 93px,#c50259 112px,#e2330e 126px,#e73e04 129px,#fd6b00 143px,#ff8f00 163px,#ffa200 186px,#ff9c00 208px,#ff8000 230px,#f85e00 245px,#e53906 256px,#c70454 272px,#b8007a 279px,#9700ca 294px,#7b00e2 301px,#6000da 308px,#250093 324px,#050066 337px,#010053 356px,#00004a 385px)"></i><i style="top:149px;background:linear-gradient(90deg,#000045,#010058 45px,#060067 56px,#3000a3 70px,#6300dc 82px,#7d00e1 88px,#9700c9 94px,#c4015b 113px,#dd2a1a 125px,#e63c04 130px,#fd6b00 145px,#ff8e00 165px,#ff9f00 188px,#ff9800 210px,#ff7c00 231px,#f85e00 244px,#e53906 255px,#c80552 271px,#bd006c 276px,#9500cc 294px,#7a00e2 301px,#5f00d9 308px,#240093 324px,#050065 337px,#010053 356px,#00004a 385px)"></i><i style="top:150px;background:linear-gradient(90deg,#000045,#010057 45px,#060067 57px,#3000a3 71px,#6300dc 83px,#7c00e1 89px,#9600ca 95px,#c60357 115px,#e63a05 131px,#fd6b00 147px,#ff8e00 168px,#ff9c00 190px,#ff9300 212px,#f70 232px,#f85e00 243px,#e53a05 254px,#c60455 271px,#b40084 280px,#9400ce 294px,#7800e2 301px,#5e00d7 308px,#240092 324px,#050065 337px,#010053 356px,#00004a 385px)"></i><i style="top:151px;background:linear-gradient(90deg,#000045,#010057 46px,#070068 58px,#3000a4 72px,#6300dc 84px,#7c00e1 90px,#9600cb 96px,#c10063 114px,#d21438 122px,#e63c04 133px,#fd6b00 149px,#ff8d00 170px,#ff9800 193px,#ff8c00 216px,#fd6a00 237px,#e63a05 253px,#c70553 270px,#bb0072 276px,#9600cb 293px,#7b00e2 300px,#6100da 307px,#230091 324px,#050065 337px,#010053 356px,#00004a 385px)"></i><i style="top:152px;background:linear-gradient(90deg,#000045,#010057 47px,#070068 59px,#3000a4 73px,#6300dc 85px,#7c00e2 91px,#9600cb 97px,#bc0070 113px,#c70455 118px,#e53a05 134px,#fc6700 149px,#ff8a00 171px,#ff9500 194px,#f80 217px,#fb6300 239px,#e63b05 252px,#c80651 269px,#bc0070 275px,#9800c8 292px,#7d00e1 299px,#5f00d9 307px,#250094 323px,#040065 337px,#010052 356px,#00004a 385px)"></i><i style="top:153px;background:linear-gradient(90deg,#004,#010058 48px,#070069 60px,#3000a4 74px,#6300dc 86px,#7b00e2 92px,#9500cc 98px,#b90078 113px,#c60356 119px,#e43707 135px,#f95f00 148px,#ff8300 168px,#ff9100 190px,#ff8900 213px,#fd6900 235px,#e63b05 251px,#c9074f 268px,#bf0069 273px,#9600ca 292px,#7c00e2 299px,#6200db 306px,#240093 323px,#050066 336px,#010052 356px,#00004a 385px)"></i><i style="top:154px;background:linear-gradient(90deg,#004,#010058 49px,#070069 61px,#3000a4 75px,#6300dc 87px,#7b00e2 93px,#9500cd 99px,#ba0074 115px,#c70553 121px,#e53906 137px,#fc6500 152px,#ff8600 175px,#ff8e00 198px,#ff7f00 219px,#f85e00 238px,#e43806 251px,#c70553 268px,#bc0071 274px,#9500cc 292px,#7a00e2 299px,#6000da 306px,#240092 323px,#050065 336px,#010052 356px,#00004a 385px)"></i><i style="top:155px;background:linear-gradient(90deg,#004,#010058 50px,#080069 62px,#3000a4 76px,#6200dc 88px,#7b00e2 94px,#9400ce 100px,#b60081 114px,#c60455 122px,#e53905 139px,#fd6800 156px,#ff8500 179px,#ff8900 202px,#f70 223px,#f85d00 237px,#e43806 250px,#c60356 268px,#9700c9 291px,#7c00e1 298px,#5f00d9 306px,#230091 323px,#050065 336px,#010053 355px,#00004a 385px)"></i><i style="top:156px;background:linear-gradient(90deg,#004,#010058 51px,#08006a 63px,#3000a4 77px,#60d 90px,#7e00e0 96px,#9700c9 102px,#c50357 123px,#e43708 140px,#f75c00 153px,#ff7600 168px,#ff8700 189px,#ff8100 211px,#fb6300 233px,#e63b05 248px,#c80650 266px,#bd006d 272px,#9800c7 290px,#7e00e0 297px,#6900de 303px,#5a00d3 307px,#220090 323px,#040065 336px,#010053 355px,#00004a 385px)"></i><i style="top:157px;background:linear-gradient(90deg,#000043,#010057 51px,#08006a 64px,#3000a4 78px,#60d 91px,#7d00e1 97px,#9600ca 103px,#bc006f 120px,#c60455 125px,#e43807 142px,#f96000 157px,#ff7c00 177px,#ff8300 199px,#ff7300 221px,#f65a00 235px,#e43807 248px,#c50259 267px,#9700c9 290px,#7d00e1 297px,#6000da 305px,#240092 322px,#050066 335px,#010053 355px,#00004a 385px)"></i><i style="top:158px;background:linear-gradient(90deg,#000043,#010057 52px,#050066 64px,#3000a4 79px,#6500dd 92px,#7d00e1 98px,#9600cc 104px,#bb0071 121px,#c50357 126px,#e43806 144px,#fa6100 160px,#ff7b00 181px,#ff7e00 203px,#fd6a00 225px,#e94203 243px,#e2340b 248px,#c50357 266px,#9800c7 289px,#7f00e0 296px,#6d00df 301px,#5e00d8 305px,#230091 322px,#050065 335px,#010052 355px,#00004a 385px)"></i><i style="top:159px;background:linear-gradient(90deg,#000043,#010057 53px,#050066 65px,#3000a3 80px,#6500dd 93px,#7c00e1 99px,#9500cd 105px,#b7007e 120px,#c60455 128px,#e53806 146px,#fa6200 163px,#ff7800 184px,#ff7900 206px,#fb6400 227px,#e53906 245px,#c80552 264px,#bd006e 270px,#9700ca 289px,#7a00e2 297px,#6100da 304px,#230090 322px,#050065 335px,#010052 355px,#00004a 385px)"></i><i style="top:160px;background:linear-gradient(90deg,#000043,#010057 54px,#050066 66px,#3000a3 81px,#6400dd 94px,#7b00e2 100px,#9700c9 107px,#c3005c 128px,#de2d15 144px,#e63b05 149px,#fc6700 169px,#f70 191px,#fe7100 213px,#f75c00 229px,#e53806 244px,#c60356 264px,#a400af 283px,#8b00d7 292px,#7800e2 297px,#5f00d9 304px,#240092 321px,#040065 335px,#010052 355px,#00004a 385px)"></i><i style="top:161px;background:linear-gradient(90deg,#000042,#010057 55px,#050066 67px,#3000a3 82px,#6300dc 95px,#7b00e2 101px,#9600ca 108px,#bb0073 125px,#c60456 131px,#e3350a 149px,#eb4502 155px,#fd6800 174px,#ff7400 196px,#fd6900 218px,#ed4802 236px,#e43807 243px,#c60455 263px,#ae0096 277px,#9400cf 289px,#7a00e2 296px,#6100db 303px,#230091 321px,#050066 334px,#010053 354px,#00004a 385px)"></i><i style="top:162px;background:linear-gradient(90deg,#000042,#010057 56px,#050066 68px,#2f00a2 83px,#6300dc 96px,#7e00e1 103px,#9500cc 109px,#b8007a 125px,#c50258 132px,#e1320e 150px,#e83f04 155px,#fc6500 175px,#fe7000 197px,#fb6400 219px,#e63b04 240px,#d21438 255px,#c10062 265px,#9700c8 287px,#7b00e2 295px,#5f00d9 303px,#230090 321px,#050065 334px,#010053 354px,#000049 385px)"></i><i style="top:163px;background:linear-gradient(90deg,#000042,#010058 57px,#050066 69px,#2f00a2 84px,#60d 98px,#7d00e1 104px,#9700c8 111px,#c4015b 133px,#e02f12 151px,#e63c04 156px,#fa6200 177px,#fd6c00 198px,#fa6100 218px,#e53a05 239px,#cc0a48 258px,#c00066 265px,#9800c6 286px,#8000df 293px,#7300e1 297px,#5e00d7 303px,#240092 320px,#050065 334px,#010052 354px,#000049 385px)"></i><i style="top:164px;background:linear-gradient(90deg,#000042,#010058 58px,#08006a 71px,#2e00a1 85px,#6500dd 99px,#7c00e2 105px,#9600ca 112px,#bd006c 131px,#c80651 137px,#e2340c 155px,#e83f04 160px,#f96000 180px,#fd6800 199px,#f85d00 217px,#e53806 238px,#ca084d 258px,#c00066 264px,#9700c9 286px,#7b00e2 294px,#5f00d9 302px,#230091 320px,#040065 334px,#010052 354px,#000049 385px)"></i><i style="top:165px;background:linear-gradient(90deg,#000041,#010058 59px,#08006a 72px,#3200a6 87px,#6400dd 100px,#7b00e2 106px,#9500cc 113px,#b7007e 129px,#c70454 138px,#df2e14 155px,#e63c04 161px,#f75b00 181px,#fb6400 200px,#f35500 220px,#e43708 237px,#ca084d 257px,#be006a 264px,#9800c8 285px,#7c00e1 293px,#6100db 301px,#220090 320px,#050065 333px,#010053 353px,#000049 385px)"></i><i style="top:166px;background:linear-gradient(90deg,#000041,#010058 60px,#08006a 73px,#2e00a0 87px,#6300dc 101px,#7d00e1 108px,#9700c9 115px,#bd006e 134px,#c70554 140px,#df2d15 157px,#e73c04 164px,#f55800 184px,#f85e00 203px,#ee4c01 223px,#e43708 235px,#cb094a 255px,#c00066 262px,#9800c6 284px,#8100de 291px,#7400e1 295px,#5f00d9 301px,#240092 319px,#050065 333px,#010053 353px,#000049 385px)"></i><i style="top:167px;background:linear-gradient(90deg,#000041,#010058 61px,#08006a 74px,#3100a5 89px,#6200dc 102px,#7c00e2 109px,#9600cb 116px,#b8007a 133px,#c50357 141px,#dd2a1a 158px,#e73c04 167px,#f35500 187px,#f55700 206px,#ea4303 226px,#e3350b 234px,#cc0b47 253px,#c00066 261px,#9900c5 283px,#8200dd 290px,#7500e2 294px,#5d00d7 301px,#230090 319px,#040065 333px,#010053 353px,#000049 385px)"></i><i style="top:168px;background:linear-gradient(90deg,#000041,#010058 62px,#080069 75px,#3000a4 90px,#6500dd 104px,#7b00e2 110px,#9500cd 117px,#b2008b 131px,#c60357 143px,#dc291b 160px,#e63c04 170px,#f15200 190px,#f15000 210px,#e43807 230px,#cf0e41 250px,#c10063 259px,#9a00c4 282px,#8300dc 289px,#7600e2 293px,#5f00d9 300px,#240092 318px,#050065 332px,#010052 353px,#000049 385px)"></i><i style="top:169px;background:linear-gradient(90deg,#000041,#010058 63px,#070069 76px,#3000a3 91px,#6400dd 105px,#7d00e1 112px,#9600ca 119px,#b90078 137px,#c60357 145px,#db271d 162px,#e63b05 173px,#ef4e00 193px,#ed4901 213px,#e43708 228px,#cf0f3f 248px,#c10063 258px,#9800c7 282px,#7e00e0 290px,#6400dd 298px,#230091 318px,#050065 332px,#010053 352px,#000049 385px)"></i><i style="top:170px;background:linear-gradient(90deg,#000041,#010058 64px,#070069 77px,#2f00a2 92px,#6300dc 106px,#7c00e2 113px,#9800c8 121px,#be006b 142px,#c9074f 149px,#dc291a 166px,#e63b05 177px,#ed4901 197px,#e94003 217px,#e3350a 226px,#d0103e 246px,#c00064 257px,#9800c6 281px,#7f00e0 289px,#6f00e0 294px,#5e00d8 299px,#22008f 318px,#040065 332px,#010052 353px,#000049 385px)"></i><i style="top:171px;background:linear-gradient(90deg,#000041,#010058 65px,#070069 78px,#3200a6 94px,#6500dd 108px,#7e00e0 115px,#9600ca 122px,#b6007f 139px,#c50357 149px,#d92422 166px,#e53a05 181px,#eb4402 201px,#e43707 221px,#d31734 241px,#c10062 255px,#9900c6 280px,#8300dd 287px,#7600e2 291px,#6000d9 298px,#230091 317px,#050065 331px,#010052 352px,#000049 385px)"></i><i style="top:172px;background:linear-gradient(90deg,#000041,#010058 66px,#070068 79px,#3100a5 95px,#6400dd 109px,#7c00e1 116px,#9800c8 124px,#bc006e 145px,#c80651 153px,#da2520 170px,#e53906 186px,#e73e04 206px,#e3350a 219px,#d31733 239px,#c10063 254px,#9900c5 279px,#8400dc 286px,#7700e2 290px,#5e00d7 298px,#22008f 317px,#040065 331px,#010052 352px,#000049 385px)"></i><i style="top:173px;background:linear-gradient(90deg,#000041,#010058 67px,#060068 80px,#3000a4 96px,#6300dc 110px,#7b00e2 117px,#9600ca 125px,#b30086 141px,#c60455 154px,#d82126 171px,#e33609 189px,#e43807 209px,#db271e 227px,#cb094a 245px,#bf0068 254px,#9a00c4 278px,#8100de 286px,#7500e2 290px,#5f00d8 297px,#230091 316px,#050066 330px,#010053 351px,#000049 385px)"></i><i style="top:174px;background:linear-gradient(90deg,#000041,#010057 68px,#060067 81px,#2f00a3 97px,#6500dd 112px,#7d00e1 119px,#9700c9 127px,#b8007a 146px,#c60357 156px,#d71f29 173px,#e1310f 191px,#e2330d 208px,#d92422 226px,#ca084d 244px,#be0069 253px,#9a00c4 277px,#8200dd 285px,#7300e1 290px,#6000da 296px,#22008f 316px,#050065 330px,#010053 351px,#000049 385px)"></i><i style="top:175px;background:linear-gradient(90deg,#000041,#010057 69px,#060067 82px,#3200a6 99px,#6400dc 113px,#7b00e2 120px,#9600cb 128px,#b2008a 144px,#c60455 159px,#d71f29 177px,#df2e14 195px,#de2c17 212px,#d41832 231px,#c10062 249px,#9a00c4 276px,#8200dd 284px,#7300e1 289px,#5e00d7 296px,#230091 315px,#050066 329px,#010052 351px,#000049 385px)"></i><i style="top:176px;background:linear-gradient(90deg,#000041,#010057 70px,#08006a 84px,#3100a5 100px,#60d 115px,#7c00e1 122px,#9700ca 130px,#b2008a 146px,#c60357 161px,#d61c2d 179px,#dc291b 197px,#da2520 215px,#d0113c 233px,#c00064 248px,#9c00c0 274px,#8600da 282px,#7700e2 287px,#5e00d8 295px,#22008f 315px,#050065 329px,#010052 351px,#000049 385px)"></i><i style="top:177px;background:linear-gradient(90deg,#000041,#010057 71px,#070069 85px,#3000a3 101px,#6400dd 116px,#7e00e0 124px,#9700c9 132px,#b50083 150px,#c60356 164px,#d51a2f 182px,#da2421 200px,#d71e2a 218px,#cb0a49 236px,#be0069 248px,#9a00c4 274px,#8300dc 282px,#7500e1 287px,#5f00d9 294px,#230091 314px,#040065 329px,#010053 350px,#000049 385px)"></i><i style="top:178px;background:linear-gradient(90deg,#000041,#010057 72px,#070069 86px,#3200a6 103px,#60d 118px,#7c00e2 125px,#9800c7 134px,#b7007d 154px,#c60356 167px,#d41733 185px,#d71f28 203px,#d31734 221px,#c50259 240px,#a900a3 264px,#8d00d5 278px,#7800e2 285px,#6000da 293px,#240092 313px,#050065 328px,#010052 350px,#000049 385px)"></i><i style="top:179px;background:linear-gradient(90deg,#000041,#010055 71px,#070068 87px,#3500a9 105px,#6400dd 119px,#7d00e1 127px,#9800c7 136px,#b8007b 157px,#c70454 171px,#d21536 189px,#d51a2f 207px,#cf0e40 225px,#bf0066 243px,#a300b2 267px,#8a00d8 278px,#7800e2 284px,#5e00d7 293px,#230090 313px,#040065 328px,#010052 350px,#000049 385px)"></i><i style="top:180px;background:linear-gradient(90deg,#000041,#010054 71px,#060067 88px,#3000a3 105px,#60d 121px,#7b00e2 128px,#9600ca 137px,#b1008c 154px,#c60456 174px,#d1123b 192px,#d21438 210px,#ca084b 228px,#be006a 242px,#a300b3 266px,#8a00d8 277px,#7800e3 283px,#5e00d8 292px,#240091 312px,#050065 327px,#010052 349px,#000049 385px)"></i><i style="top:181px;background:linear-gradient(90deg,#000041,#01004f 56px,#010058 76px,#08006a 90px,#3200a6 107px,#6400dc 122px,#7c00e2 130px,#9700c9 139px,#b2008a 157px,#c50259 176px,#cf0e41 194px,#cf0e40 212px,#c60455 230px,#b40085 250px,#9900c6 270px,#7e00e0 280px,#6500dd 289px,#22008f 312px,#040065 327px,#010052 349px,#000048 385px)"></i><i style="top:182px;background:linear-gradient(90deg,#000041,#00004c 47px,#010058 77px,#070069 91px,#3400a8 109px,#6500dd 124px,#7d00e1 132px,#9700c9 141px,#b1008c 159px,#c3005d 178px,#cc0a47 196px,#cc0a48 214px,#c10061 233px,#ab009c 256px,#9200d1 272px,#7800e2 281px,#5f00d9 290px,#230091 311px,#050065 326px,#010053 348px,#000048 385px)"></i><i style="top:183px;background:linear-gradient(90deg,#000041,#00004a 42px,#010058 78px,#070068 92px,#2f00a3 109px,#6300dc 125px,#7e00e0 134px,#9700c9 143px,#b0008e 161px,#c20060 181px,#c9084d 199px,#c80651 217px,#bd006e 236px,#a600aa 259px,#8c00d6 273px,#7800e2 280px,#5f00d9 289px,#240092 310px,#040065 326px,#010052 348px,#000048 385px)"></i><i style="top:184px;background:linear-gradient(90deg,#000041,#000049 40px,#010057 79px,#060067 93px,#3500a9 112px,#6400dd 127px,#7b00e2 135px,#9700c9 145px,#b00090 163px,#c00065 183px,#c70454 201px,#c4015a 219px,#b90078 238px,#a300b2 260px,#8800d9 273px,#7800e2 279px,#6000d9 288px,#220090 310px,#050065 325px,#010052 348px,#000048 385px)"></i><i style="top:185px;background:linear-gradient(90deg,#000041,#000048 39px,#010058 81px,#08006a 95px,#3000a3 112px,#6500dd 129px,#7c00e2 137px,#9700c9 147px,#af0092 165px,#be0069 185px,#c4015b 203px,#c10063 221px,#b50083 240px,#9d00bd 262px,#8800d9 272px,#7800e2 278px,#6000d9 287px,#230090 309px,#040065 325px,#010052 347px,#000048 385px)"></i><i style="top:186px;background:linear-gradient(90deg,#000041,#000048 39px,#010058 82px,#070069 96px,#3500a9 115px,#6300dc 130px,#7c00e2 139px,#9800c7 150px,#b1008e 170px,#bd006c 189px,#c10062 207px,#bc006f 225px,#ad0096 246px,#9500cc 265px,#7a00e2 276px,#6000d9 286px,#21008e 309px,#050065 324px,#010052 347px,#000048 385px)"></i><i style="top:187px;background:linear-gradient(90deg,#000041,#000047 38px,#010058 83px,#060068 97px,#3600ab 117px,#6400dc 132px,#7c00e1 141px,#9800c7 152px,#af0093 171px,#bb0072 191px,#be006a 210px,#b8007b 229px,#a800a5 250px,#8e00d5 267px,#7700e2 276px,#6000d9 285px,#22008f 308px,#050065 323px,#010053 346px,#000048 385px)"></i><i style="top:188px;background:linear-gradient(90deg,#000041,#000047 38px,#010058 84px,#08006a 99px,#3500a9 118px,#6400dd 134px,#7c00e1 143px,#9700c9 154px,#ad0096 173px,#b90077 193px,#bb0072 212px,#b40084 231px,#a500ae 251px,#8a00d8 267px,#7600e2 275px,#5f00d9 284px,#220090 307px,#040065 323px,#010052 346px,#000048 385px)"></i><i style="top:189px;background:linear-gradient(90deg,#000041,#000047 38px,#010057 85px,#070069 100px,#3600aa 120px,#6500dd 136px,#7c00e2 145px,#9800c7 157px,#ae0095 177px,#b7007c 197px,#b8007b 216px,#af0093 236px,#9900c6 258px,#7c00e1 271px,#5f00d9 283px,#21008e 307px,#050065 322px,#010053 345px,#000048 385px)"></i><i style="top:190px;background:linear-gradient(90deg,#000041,#000047 38px,#010058 87px,#060068 101px,#3700ac 122px,#6500dd 138px,#7e00e0 148px,#9900c6 160px,#ad0096 181px,#b50081 201px,#b40085 220px,#aa00a0 240px,#9400ce 259px,#7900e2 271px,#5f00d8 282px,#21008e 306px,#050066 321px,#010052 345px,#000048 385px)"></i><i style="top:191px;background:linear-gradient(90deg,#000041,#000047 39px,#010058 88px,#08006a 103px,#3500aa 123px,#6500dd 140px,#7e00e0 150px,#9900c5 163px,#ac0099 184px,#b30088 203px,#b1008d 222px,#a700a8 241px,#8f00d4 260px,#7800e2 270px,#5e00d8 281px,#22008f 305px,#040065 321px,#010053 344px,#000048 385px)"></i><i style="top:192px;background:linear-gradient(90deg,#000041,#000046 39px,#010058 89px,#070068 104px,#3600ab 125px,#6500dd 142px,#7d00e1 152px,#9900c5 166px,#ab009d 186px,#b0008e 205px,#ae0095 224px,#a200b4 244px,#8b00d7 260px,#7700e2 269px,#5e00d7 280px,#22008f 304px,#050065 320px,#010052 344px,#000048 385px)"></i><i style="top:193px;background:linear-gradient(90deg,#000041,#000046 39px,#010057 90px,#060067 105px,#3700ac 127px,#6500dd 144px,#7c00e1 154px,#9900c5 169px,#a900a1 189px,#ae0095 208px,#aa009f 227px,#9b00c2 248px,#8200dd 262px,#7400e1 269px,#5f00d9 278px,#22008f 303px,#050065 319px,#010053 343px,#000048 385px)"></i><i style="top:194px;background:linear-gradient(90deg,#000041,#000046 40px,#010058 92px,#070069 107px,#3800ad 129px,#6500dd 146px,#7d00e1 157px,#9900c5 172px,#a800a5 192px,#ab009c 212px,#a500ac 232px,#8f00d4 254px,#7700e2 266px,#5e00d8 277px,#21008d 303px,#040065 319px,#010052 343px,#000047 385px)"></i><i style="top:195px;background:linear-gradient(90deg,#000041,#000046 40px,#010058 93px,#060068 108px,#3800ad 131px,#6500dd 148px,#7c00e1 159px,#9800c7 175px,#a600aa 195px,#a800a4 215px,#a100b6 235px,#8b00d7 254px,#7700e2 264px,#5e00d7 276px,#21008d 302px,#050065 318px,#010052 342px,#000047 385px)"></i><i style="top:196px;background:linear-gradient(90deg,#000041,#000046 41px,#010057 94px,#070069 110px,#3600ab 132px,#6400dd 150px,#7d00e1 162px,#9700c8 178px,#a400af 198px,#a500ac 218px,#9b00c3 239px,#8600da 254px,#7500e2 263px,#5f00d8 274px,#21008d 301px,#050065 317px,#010052 342px,#000047 385px)"></i><i style="top:197px;background:linear-gradient(90deg,#000041,#000046 42px,#010058 96px,#060068 111px,#3700ab 134px,#6300dc 152px,#7d00e1 165px,#9700c9 182px,#a200b4 202px,#a200b5 222px,#9300cf 243px,#7700e2 260px,#5e00d7 273px,#21008d 300px,#050065 316px,#010052 341px,#000047 385px)"></i><i style="top:198px;background:linear-gradient(90deg,#000041,#000046 43px,#010058 97px,#070069 113px,#3700ac 136px,#6500dd 155px,#7d00e1 168px,#9700ca 186px,#a000b9 206px,#9d00bf 226px,#8b00d7 246px,#7700e2 258px,#5e00d8 271px,#1f008b 300px,#040065 316px,#010052 341px,#000047 385px)"></i><i style="top:199px;background:linear-gradient(90deg,#000041,#000045 43px,#010057 98px,#060067 114px,#3a00af 139px,#6400dc 157px,#7d00e1 171px,#9500cc 190px,#9c00bf 211px,#9600ca 231px,#8000df 250px,#7200e1 259px,#5d00d6 270px,#1f008b 299px,#040065 315px,#010052 340px,#000047 385px)"></i><i style="top:200px;background:linear-gradient(90deg,#000041,#000045 44px,#010058 100px,#070069 116px,#3a00af 141px,#6400dd 160px,#7e00e0 175px,#9500cd 196px,#9800c7 217px,#8c00d6 238px,#7600e2 254px,#5d00d7 268px,#1f008b 298px,#050065 314px,#010052 340px,#000047 385px)"></i><i style="top:201px;background:linear-gradient(90deg,#000041,#000045 45px,#010058 101px,#08006a 118px,#3a00af 143px,#6500dd 163px,#7d00e1 178px,#9300d1 201px,#9300cf 221px,#8100de 243px,#7200e1 254px,#5e00d7 266px,#1d0088 298px,#050065 313px,#010052 339px,#000047 385px)"></i><i style="top:202px;background:linear-gradient(90deg,#000041,#000045 46px,#010058 103px,#070068 119px,#3900ae 145px,#6300dc 165px,#7e00e0 183px,#9000d4 207px,#8a00d8 229px,#7500e2 249px,#5e00d7 264px,#1d0088 297px,#050065 312px,#010052 338px,#000047 385px)"></i><i style="top:203px;background:linear-gradient(90deg,#000041,#000045 47px,#010058 104px,#070069 121px,#3b00b0 148px,#6300dc 168px,#7d00e1 187px,#8b00d7 212px,#7f00df 236px,#7000e0 250px,#5d00d7 262px,#2b009c 287px,#050065 311px,#010052 338px,#000047 385px)"></i><i style="top:204px;background:linear-gradient(90deg,#000041,#000045 48px,#010058 106px,#08006a 123px,#3d00b2 151px,#6300dc 171px,#7d00e1 193px,#8400dc 218px,#7300e1 244px,#5f00d8 259px,#2c009e 285px,#050065 310px,#010052 337px,#000046 385px)"></i><i style="top:205px;background:linear-gradient(90deg,#000041,#000045 49px,#010058 107px,#070068 124px,#4000b6 155px,#6400dd 175px,#7c00e2 200px,#7d00e1 225px,#60d 251px,#5600ce 262px,#1a0084 295px,#040065 310px,#010052 336px,#000046 385px)"></i><i style="top:206px;background:linear-gradient(90deg,#000041,#000045 50px,#010058 109px,#070069 126px,#4800bf 162px,#6400dd 179px,#7900e2 204px,#7700e2 229px,#6000d9 253px,#2f00a1 281px,#050065 308px,#010052 336px,#000046 385px)"></i><i style="top:207px;background:linear-gradient(90deg,#000041,#000045 51px,#010058 110px,#080069 128px,#4b00c2 166px,#6400dd 183px,#7500e2 208px,#7000e0 233px,#5e00d8 251px,#2d00a0 280px,#050065 307px,#010052 335px,#000046 385px)"></i><i style="top:208px;background:linear-gradient(90deg,#000041,#000045 52px,#010058 112px,#08006a 130px,#4700be 167px,#6300dc 187px,#7100e0 213px,#6800de 238px,#5b00d4 250px,#2e00a1 278px,#050065 306px,#010052 334px,#000046 385px)"></i><i style="top:209px;background:linear-gradient(90deg,#000041,#000045 53px,#010058 113px,#08006a 132px,#4500bc 169px,#6200db 191px,#6c00df 217px,#6000da 242px,#3700ac 271px,#050065 305px,#010052 333px,#000046 385px)"></i><i style="top:210px;background:linear-gradient(90deg,#000041,#000045 54px,#010058 115px,#08006a 134px,#4400ba 171px,#6000da 195px,#6700de 221px,#5c00d6 241px,#3600aa 270px,#050065 304px,#010052 332px,#000046 385px)"></i><i style="top:211px;background:linear-gradient(90deg,#000041,#000045 55px,#010058 117px,#08006b 136px,#4200b8 173px,#5d00d6 198px,#6200db 224px,#5200ca 247px,#2f00a2 272px,#040065 303px,#010052 332px,#000046 385px)"></i><i style="top:212px;background:linear-gradient(90deg,#000041,#000045 56px,#010058 118px,#070068 137px,#4000b5 175px,#5900d2 200px,#5d00d6 224px,#4c00c4 248px,#2d009f 271px,#040065 302px,#010052 331px,#000046 385px)"></i><i style="top:213px;background:linear-gradient(90deg,#000041,#000045 57px,#010058 120px,#08006b 140px,#3f00b4 178px,#5500ce 203px,#5700d0 227px,#4300b9 253px,#1a0083 284px,#040065 301px,#010052 330px,#000045 385px)"></i><i style="top:214px;background:linear-gradient(90deg,#000041,#000045 58px,#010058 122px,#08006a 142px,#3c00b2 180px,#5200ca 206px,#5100c9 230px,#3a00af 257px,#050065 299px,#010052 330px,#000045 385px)"></i><i style="top:215px;background:linear-gradient(90deg,#000041,#000045 59px,#010058 123px,#08006a 144px,#3b00b0 183px,#4e00c5 209px,#4b00c2 233px,#3200a6 260px,#040065 298px,#010052 329px,#000045 385px)"></i><i style="top:216px;background:linear-gradient(90deg,#000041,#000045 60px,#010058 125px,#08006a 146px,#3800ad 185px,#4900c0 210px,#4500bc 235px,#3000a3 259px,#040065 297px,#010052 328px,#000045 385px)"></i><i style="top:217px;background:linear-gradient(90deg,#000041,#000045 61px,#010058 127px,#080069 148px,#3500a9 186px,#40b 211px,#4100b6 236px,#2d009f 258px,#040064 296px,#010052 327px,#000045 385px)"></i><i style="top:218px;background:linear-gradient(90deg,#000041,#000045 62px,#010058 129px,#09006b 151px,#3200a6 188px,#4000b6 214px,#3a00b0 239px,#260095 262px,#040065 294px,#010052 326px,#000045 385px)"></i><i style="top:219px;background:linear-gradient(90deg,#000041,#000045 63px,#010058 131px,#08006a 153px,#280098 183px,#3800ad 203px,#3b00b0 229px,#2d009f 251px,#09006b 287px,#010058 311px,#000045 385px)"></i><i style="top:220px;background:linear-gradient(90deg,#000041,#000045 65px,#010058 133px,#070069 155px,#260096 185px,#3500aa 208px,#3500a9 234px,#1b0085 268px,#040064 291px,#010052 324px,#000045 385px)"></i><i style="top:221px;background:linear-gradient(90deg,#000041,#000045 66px,#010058 135px,#08006a 158px,#250094 188px,#3300a7 215px,#2e00a1 238px,#14007b 273px,#040065 289px,#010052 323px,#004 385px)"></i><i style="top:222px;background:linear-gradient(90deg,#000041,#000045 67px,#010058 137px,#08006b 161px,#240092 191px,#2e00a1 221px,#240092 250px,#08006a 282px,#010055 312px,#004 385px)"></i><i style="top:223px;background:linear-gradient(90deg,#000041,#000045 68px,#010058 139px,#09006b 164px,#22008f 193px,#2a009b 222px,#21008d 251px,#040064 286px,#010052 321px,#004 385px)"></i><i style="top:224px;background:linear-gradient(90deg,#000041,#000045 69px,#010058 141px,#09006b 167px,#20008d 196px,#270096 225px,#1d0088 253px,#040064 284px,#010052 320px,#004 385px)"></i><i style="top:225px;background:linear-gradient(90deg,#000041,#000045 71px,#010058 143px,#09006b 170px,#1f008a 199px,#230091 228px,#170080 257px,#040064 283px,#010052 319px,#004 385px)"></i><i style="top:226px;background:linear-gradient(90deg,#000041,#000045 72px,#010059 146px,#09006b 173px,#1c0087 201px,#20008c 230px,#13007a 259px,#040064 280px,#010052 319px,#004 385px)"></i><i style="top:227px;background:linear-gradient(90deg,#000041,#000045 73px,#010059 148px,#09006b 177px,#1a0084 205px,#1c0087 234px,#0d0071 264px,#030063 280px,#010052 317px,#004 385px)"></i><i style="top:228px;background:linear-gradient(90deg,#000041,#004 74px,#010058 150px,#09006c 181px,#190081 209px,#180081 238px,#070069 268px,#010053 308px,#000043 385px)"></i><i style="top:229px;background:linear-gradient(90deg,#000041,#000045 76px,#010059 153px,#09006c 185px,#17007e 214px,#14007b 243px,#030063 276px,#010052 315px,#000043 385px)"></i><i style="top:230px;background:linear-gradient(90deg,#000041,#000045 77px,#010058 155px,#09006c 190px,#14007b 219px,#0f0074 248px,#030062 274px,#010052 315px,#000043 385px)"></i><i style="top:231px;background:linear-gradient(90deg,#000041,#004 78px,#010059 158px,#0a006d 197px,#107 227px,#08006a 256px,#010053 303px,#000043 385px)"></i><i style="top:232px;background:linear-gradient(90deg,#000041,#004 79px,#010059 161px,#0c0070 211px,#0c0070 240px,#01005a 287px,#010050 323px,#000043 385px)"></i><i style="top:233px;background:linear-gradient(90deg,#000041,#000045 81px,#010059 164px,#0b006f 227px,#010054 298px,#000043 385px)"></i><i style="top:234px;background:linear-gradient(90deg,#000041,#004 82px,#010059 167px,#08006a 229px,#010055 294px,#000043 385px)"></i><i style="top:235px;background:linear-gradient(90deg,#000041,#000045 84px,#010059 170px,#050066 222px,#01005c 276px,#010051 314px,#000042 385px)"></i></div><svg width="1538" height="339" viewBox="0 0 1538 339">
<text x="0" y="19.3" font-size="25.5" font-family="Liberation Serif, Times New Roman, serif" stroke="#000" stroke-width="0.3">(a)</text>
<text x="528.6" y="19.3" font-size="25.5" font-family="Liberation Serif, Times New Roman, serif" stroke="#000" stroke-width="0.3">(b)</text>
<text x="1040.2" y="19.3" font-size="25.5" font-family="Liberation Serif, Times New Roman, serif" stroke="#000" stroke-width="0.3">(c)</text>
<rect x="35" y="36" width="474" height="242" fill="none" stroke="#000" stroke-width="2"/>
<defs><linearGradient id="cb" x1="0" y1="0" x2="0" y2="1"><stop offset="0.0000" stop-color="#ffffff"/><stop offset="0.0312" stop-color="#ffffe0"/><stop offset="0.0625" stop-color="#ffffa4"/><stop offset="0.0938" stop-color="#ffff68"/><stop offset="0.1250" stop-color="#fff92b"/><stop offset="0.1562" stop-color="#ffec05"/><stop offset="0.1875" stop-color="#ffde00"/><stop offset="0.2188" stop-color="#ffd000"/><stop offset="0.2500" stop-color="#ffc200"/><stop offset="0.2812" stop-color="#ffb300"/><stop offset="0.3125" stop-color="#ffa500"/><stop offset="0.3438" stop-color="#ff9800"/><stop offset="0.3750" stop-color="#ff8a00"/><stop offset="0.4062" stop-color="#ff7b00"/><stop offset="0.4375" stop-color="#fd6c00"/><stop offset="0.4688" stop-color="#f65900"/><stop offset="0.5000" stop-color="#ea4402"/><stop offset="0.5312" stop-color="#df2f13"/><stop offset="0.5625" stop-color="#d51a30"/><stop offset="0.5938" stop-color="#ca084c"/><stop offset="0.6250" stop-color="#bf0068"/><stop offset="0.6562" stop-color="#b40084"/><stop offset="0.6875" stop-color="#aa00a0"/><stop offset="0.7188" stop-color="#9e00bd"/><stop offset="0.7500" stop-color="#8c00d6"/><stop offset="0.7812" stop-color="#7500e1"/><stop offset="0.8125" stop-color="#5d00d7"/><stop offset="0.8438" stop-color="#4500bc"/><stop offset="0.8750" stop-color="#2e00a1"/><stop offset="0.9062" stop-color="#17007f"/><stop offset="0.9375" stop-color="#01005e"/><stop offset="0.9688" stop-color="#00003b"/><stop offset="1.0000" stop-color="#000000"/></linearGradient></defs>
<rect x="467" y="39" width="13.5" height="233.6" fill="url(#cb)" stroke="#7a7a7a" stroke-width="1"/>
<text x="485.3" y="254.9" font-size="14" font-family="Liberation Sans, Arial, sans-serif">24</text>
<text x="485.3" y="222.5" font-size="14" font-family="Liberation Sans, Arial, sans-serif">26</text>
<text x="485.3" y="190.1" font-size="14" font-family="Liberation Sans, Arial, sans-serif">28</text>
<text x="485.3" y="157.7" font-size="14" font-family="Liberation Sans, Arial, sans-serif">30</text>
<text x="485.3" y="125.4" font-size="14" font-family="Liberation Sans, Arial, sans-serif">32</text>
<text x="485.3" y="93.0" font-size="14" font-family="Liberation Sans, Arial, sans-serif">34</text>
<text x="485.3" y="60.6" font-size="14" font-family="Liberation Sans, Arial, sans-serif">36</text>
<path d="M467.5 249.9h2.5M480 249.9h-2.5M467.5 217.5h2.5M480 217.5h-2.5M467.5 185.1h2.5M480 185.1h-2.5M467.5 152.7h2.5M480 152.7h-2.5M467.5 120.4h2.5M480 120.4h-2.5M467.5 88.0h2.5M480 88.0h-2.5M467.5 55.6h2.5M480 55.6h-2.5" stroke="#8a8a8a" stroke-width="1"/>
<text transform="translate(456.9,157.7) rotate(-90)" font-size="13.6" text-anchor="middle" textLength="110.7" lengthAdjust="spacingAndGlyphs" font-family="Liberation Sans, Arial, sans-serif">Temperature [°C]</text>
<text x="44" y="242" font-size="20" fill="#262626" stroke="#262626" stroke-width="0.12" font-family="Liberation Serif, Times New Roman, serif">Yb:FP15</text>
<text x="38" y="267" font-size="20" fill="#262626" stroke="#262626" stroke-width="0.12" font-family="Liberation Serif, Times New Roman, serif">(A4) Slice</text>
<path d="M601.1 278v-1.4M601.1 32v1.4M619.6 278v-2.2M619.6 32v2.2M638.1 278v-1.4M638.1 32v1.4M656.6 278v-1.4M656.6 32v1.4M675.1 278v-1.4M675.1 32v1.4M693.6 278v-1.4M693.6 32v1.4M712.1 278v-2.2M712.1 32v2.2M730.6 278v-1.4M730.6 32v1.4M749.1 278v-1.4M749.1 32v1.4M767.6 278v-1.4M767.6 32v1.4M786.1 278v-1.4M786.1 32v1.4M804.6 278v-2.2M804.6 32v2.2M823.1 278v-1.4M823.1 32v1.4M841.6 278v-1.4M841.6 32v1.4M860.1 278v-1.4M860.1 32v1.4M878.6 278v-1.4M878.6 32v1.4M897.1 278v-2.2M897.1 32v2.2M915.6 278v-1.4M915.6 32v1.4M934.1 278v-1.4M934.1 32v1.4M952.6 278v-1.4M952.6 32v1.4M971.1 278v-1.4M971.1 32v1.4M989.6 278v-2.2M989.6 32v2.2M1008.1 278v-1.4M1008.1 32v1.4M597 278.0h2.2M1011 278.0h-2.2M597 268.1h1.4M1011 268.1h-1.4M597 258.3h1.4M1011 258.3h-1.4M597 248.4h1.4M1011 248.4h-1.4M597 238.6h2.2M1011 238.6h-2.2M597 228.8h1.4M1011 228.8h-1.4M597 218.9h1.4M1011 218.9h-1.4M597 209.1h1.4M1011 209.1h-1.4M597 199.2h2.2M1011 199.2h-2.2M597 189.4h1.4M1011 189.4h-1.4M597 179.5h1.4M1011 179.5h-1.4M597 169.7h1.4M1011 169.7h-1.4M597 159.8h2.2M1011 159.8h-2.2M597 150.0h1.4M1011 150.0h-1.4M597 140.1h1.4M1011 140.1h-1.4M597 130.2h1.4M1011 130.2h-1.4M597 120.4h2.2M1011 120.4h-2.2M597 110.6h1.4M1011 110.6h-1.4M597 100.7h1.4M1011 100.7h-1.4M597 90.8h1.4M1011 90.8h-1.4M597 81.0h2.2M1011 81.0h-2.2M597 71.2h1.4M1011 71.2h-1.4M597 61.3h1.4M1011 61.3h-1.4M597 51.5h1.4M1011 51.5h-1.4M597 41.6h2.2M1011 41.6h-2.2M597 31.8h1.4M1011 31.8h-1.4" stroke="#000" stroke-width="1" fill="none"/>
<text x="592" y="286.0" font-size="24" text-anchor="end" font-family="Liberation Serif, Times New Roman, serif" stroke="#000" stroke-width="0.3">22</text>
<text x="592" y="246.6" font-size="24" text-anchor="end" font-family="Liberation Serif, Times New Roman, serif" stroke="#000" stroke-width="0.3">24</text>
<text x="592" y="207.2" font-size="24" text-anchor="end" font-family="Liberation Serif, Times New Roman, serif" stroke="#000" stroke-width="0.3">26</text>
<text x="592" y="167.8" font-size="24" text-anchor="end" font-family="Liberation Serif, Times New Roman, serif" stroke="#000" stroke-width="0.3">28</text>
<text x="592" y="128.4" font-size="24" text-anchor="end" font-family="Liberation Serif, Times New Roman, serif" stroke="#000" stroke-width="0.3">30</text>
<text x="592" y="89.0" font-size="24" text-anchor="end" font-family="Liberation Serif, Times New Roman, serif" stroke="#000" stroke-width="0.3">32</text>
<text x="592" y="49.6" font-size="24" text-anchor="end" font-family="Liberation Serif, Times New Roman, serif" stroke="#000" stroke-width="0.3">34</text>
<text x="618.9" y="302.5" font-size="24" text-anchor="middle" font-family="Liberation Serif, Times New Roman, serif" stroke="#000" stroke-width="0.3">−<tspan dx="2">20</tspan></text>
<text x="711.4" y="302.5" font-size="24" text-anchor="middle" font-family="Liberation Serif, Times New Roman, serif" stroke="#000" stroke-width="0.3">−<tspan dx="2">10</tspan></text>
<text x="804.6" y="302.5" font-size="24" text-anchor="middle" font-family="Liberation Serif, Times New Roman, serif" stroke="#000" stroke-width="0.3">0</text>
<text x="897.1" y="302.5" font-size="24" text-anchor="middle" font-family="Liberation Serif, Times New Roman, serif" stroke="#000" stroke-width="0.3">10</text>
<text x="989.6" y="302.5" font-size="24" text-anchor="middle" font-family="Liberation Serif, Times New Roman, serif" stroke="#000" stroke-width="0.3">20</text>
<text x="803.8" y="334" font-size="23.5" text-anchor="middle" font-family="Liberation Serif, Times New Roman, serif" stroke="#000" stroke-width="0.3">Radius [mm]</text>
<text transform="translate(556.3,155.5) rotate(-90)" font-size="22.7" text-anchor="middle" font-family="Liberation Serif, Times New Roman, serif" stroke="#000" stroke-width="0.3">Temperature [°C]</text>
<clipPath id="cpb"><rect x="597" y="32" width="414" height="246"/></clipPath><g clip-path="url(#cpb)" fill="none" stroke-linejoin="round">
<path d="M596.7 259.5C597.5 258.9 600.2 257.2 601.6 255.7C603.0 254.2 603.8 252.6 605.2 250.3C606.6 248.0 608.0 244.8 609.9 242.1C611.8 239.4 613.8 236.7 616.7 234.0C619.7 231.3 623.8 229.2 627.6 225.8C631.5 222.4 635.8 217.8 639.8 213.6C643.8 209.4 648.3 204.3 651.6 200.5C654.9 196.7 656.6 194.3 659.4 190.6C662.2 186.9 665.3 182.5 668.3 178.4C671.2 174.3 674.7 169.8 677.1 166.2C679.5 162.6 680.5 160.6 682.5 156.8C684.5 153.0 687.1 147.7 689.3 143.2C691.5 138.7 694.0 133.9 695.9 129.6C697.8 125.3 699.1 121.1 700.7 117.5C702.3 113.9 703.7 111.2 705.7 108.0C707.7 104.8 710.2 101.5 712.5 98.5C714.8 95.5 716.3 93.0 719.3 90.3C722.2 87.6 726.9 84.6 730.2 82.2C733.5 79.8 735.4 78.6 739.0 76.0C742.6 73.4 748.4 69.3 751.9 66.6C755.4 63.9 757.3 62.1 760.0 59.9C762.7 57.6 765.5 55.1 768.2 53.1C770.9 51.1 773.6 49.3 776.3 47.7C779.0 46.1 781.8 44.7 784.5 43.4C787.2 42.1 789.8 40.8 792.7 40.0C795.7 39.2 800.2 39.1 802.2 38.9C804.2 38.7 804.2 38.7 804.6 38.7" stroke="#000000" stroke-width="2"/>
<path d="M804.6 47.8C805.3 47.8 807.3 47.8 808.6 47.7C809.9 47.7 811.3 47.6 812.6 47.5C813.9 47.4 815.3 47.3 816.6 47.2C817.9 47.1 819.3 47.0 820.6 46.9C821.9 46.9 823.3 46.8 824.6 46.8C825.9 46.7 827.3 46.7 828.6 46.7C829.9 46.8 831.3 46.8 832.6 46.9C833.9 47.0 835.3 47.1 836.6 47.3C837.9 47.6 839.3 47.8 840.6 48.1C841.9 48.5 843.3 48.8 844.6 49.3C845.9 49.8 847.3 50.3 848.6 51.0C849.9 51.6 851.3 52.3 852.6 53.1C853.9 53.9 855.3 54.8 856.6 55.7C857.9 56.7 859.3 57.7 860.6 58.8C861.9 59.9 863.3 61.1 864.6 62.3C865.9 63.6 867.3 64.9 868.6 66.2C869.9 67.6 871.3 69.1 872.6 70.6C873.9 72.0 875.3 73.6 876.6 75.2C877.9 76.8 879.3 78.5 880.6 80.2C881.9 81.9 883.3 83.7 884.6 85.5C885.9 87.3 887.3 89.2 888.6 91.1C889.9 93.0 891.3 95.0 892.6 97.0C893.9 99.0 895.3 101.0 896.6 103.1C897.9 105.2 899.3 107.3 900.6 109.4C901.9 111.5 903.3 113.7 904.6 115.9C905.9 118.0 907.3 120.2 908.6 122.5C909.9 124.7 911.3 126.9 912.6 129.1C913.9 131.3 915.3 133.5 916.6 135.7C917.9 138.0 919.3 140.2 920.6 142.3C921.9 144.5 923.3 146.7 924.6 148.9C925.9 151.0 927.3 153.2 928.6 155.3C929.9 157.5 931.3 159.6 932.6 161.8C933.9 164.0 935.3 166.2 936.6 168.4C937.9 170.6 939.3 172.8 940.6 175.1C941.9 177.3 943.3 179.5 944.6 181.7C945.9 183.9 947.3 186.2 948.6 188.4C949.9 190.5 951.3 192.7 952.6 194.9C953.9 197.0 955.3 199.1 956.6 201.2C957.9 203.3 959.3 205.3 960.6 207.3C961.9 209.3 963.3 211.3 964.6 213.2C965.9 215.1 967.3 217.0 968.6 218.8C969.9 220.6 971.3 222.4 972.6 224.1C973.9 225.8 975.3 227.5 976.6 229.1C977.9 230.8 979.3 232.3 980.6 233.9C981.9 235.4 983.3 236.9 984.6 238.3C985.9 239.7 987.3 241.1 988.6 242.4C989.9 243.8 991.3 245.0 992.6 246.3C993.9 247.5 995.3 248.6 996.6 249.7C997.9 250.9 999.3 251.9 1000.6 252.9C1001.9 253.9 1003.3 254.8 1004.6 255.7C1005.9 256.6 1007.6 257.6 1008.6 258.2C1009.6 258.8 1010.2 259.1 1010.5 259.2" stroke="#000000" stroke-width="2"/>
<path d="M596.8 259.8C597.6 259.0 600.2 256.7 601.6 255.0C603.0 253.3 603.6 251.8 605.0 249.5C606.4 247.2 607.9 244.2 609.9 241.5C611.9 238.8 613.8 236.2 616.7 233.5C619.7 230.8 623.8 228.4 627.6 225.0C631.5 221.6 636.1 216.8 639.8 213.0C643.5 209.2 646.4 205.7 649.7 202.0C653.0 198.3 656.4 194.5 659.4 190.6C662.4 186.7 665.0 182.5 667.7 178.4C670.4 174.3 673.6 168.9 675.8 166.2C677.9 163.5 679.2 163.6 680.6 162.0C682.0 160.4 682.1 159.7 684.0 156.8C685.9 153.9 689.4 148.8 692.1 144.5C694.8 140.2 697.7 135.7 700.4 130.9C703.1 126.2 705.7 120.3 708.4 116.0C711.1 111.7 713.6 108.9 716.6 105.3C719.6 101.7 722.9 97.8 726.1 94.4C729.3 91.0 732.7 87.8 735.6 84.9C738.5 82.0 741.0 79.2 743.7 76.8C746.4 74.4 749.2 72.7 751.9 70.7C754.6 68.7 757.3 66.7 760.0 64.6C762.7 62.5 765.5 60.1 768.2 58.0C770.9 55.9 773.6 53.5 776.3 51.8C779.0 50.1 781.8 48.8 784.5 47.7C787.2 46.6 789.8 45.7 792.7 45.0C795.7 44.3 800.2 43.9 802.2 43.6C804.2 43.3 804.2 43.4 804.6 43.4" stroke="#2c5b9c" stroke-width="2"/>
<path d="M804.6 51.2C805.3 51.1 807.3 50.9 808.6 50.8C809.9 50.7 811.3 50.6 812.6 50.6C813.9 50.6 815.3 50.7 816.6 50.8C817.9 50.8 819.3 51.0 820.6 51.2C821.9 51.4 823.3 51.6 824.6 51.9C825.9 52.2 827.3 52.6 828.6 52.9C829.9 53.3 831.3 53.8 832.6 54.3C833.9 54.7 835.3 55.3 836.6 55.9C837.9 56.4 839.3 57.1 840.6 57.7C841.9 58.4 843.3 59.1 844.6 59.9C845.9 60.7 847.3 61.5 848.6 62.4C849.9 63.2 851.3 64.1 852.6 65.1C853.9 66.0 855.3 67.1 856.6 68.1C857.9 69.2 859.3 70.2 860.6 71.4C861.9 72.5 863.3 73.7 864.6 75.0C865.9 76.2 867.3 77.5 868.6 78.8C869.9 80.1 871.3 81.5 872.6 82.9C873.9 84.3 875.3 85.7 876.6 87.2C877.9 88.7 879.3 90.2 880.6 91.8C881.9 93.3 883.3 94.9 884.6 96.6C885.9 98.2 887.3 99.8 888.6 101.5C889.9 103.2 891.3 105.0 892.6 106.7C893.9 108.5 895.3 110.2 896.6 112.0C897.9 113.8 899.3 115.7 900.6 117.5C901.9 119.4 903.3 121.3 904.6 123.2C905.9 125.1 907.3 127.0 908.6 128.9C909.9 130.9 911.3 132.8 912.6 134.8C913.9 136.8 915.3 138.8 916.6 140.8C917.9 142.8 919.3 144.8 920.6 146.8C921.9 148.8 923.3 150.9 924.6 152.9C925.9 155.0 927.3 157.1 928.6 159.1C929.9 161.2 931.3 163.3 932.6 165.3C933.9 167.4 935.3 169.5 936.6 171.5C937.9 173.6 939.3 175.7 940.6 177.7C941.9 179.8 943.3 181.8 944.6 183.9C945.9 185.9 947.3 188.0 948.6 190.0C949.9 192.0 951.3 194.0 952.6 196.0C953.9 198.0 955.3 199.9 956.6 201.9C957.9 203.8 959.3 205.7 960.6 207.6C961.9 209.5 963.3 211.4 964.6 213.2C965.9 215.1 967.3 216.9 968.6 218.7C969.9 220.4 971.3 222.2 972.6 223.9C973.9 225.6 975.3 227.3 976.6 228.9C977.9 230.5 979.3 232.1 980.6 233.7C981.9 235.2 983.3 236.7 984.6 238.1C985.9 239.6 987.3 241.0 988.6 242.3C989.9 243.7 991.3 245.0 992.6 246.2C993.9 247.4 995.3 248.6 996.6 249.7C997.9 250.9 999.3 251.9 1000.6 252.9C1001.9 253.9 1003.3 254.8 1004.6 255.7C1005.9 256.6 1007.5 257.4 1008.6 258.1C1009.8 258.7 1011.0 259.3 1011.5 259.5" stroke="#2c5b9c" stroke-width="2"/>
<path d="M596.8 260.5C598.2 258.9 603.0 253.7 605.2 250.8C607.4 247.9 608.0 245.6 609.9 243.0C611.8 240.4 613.8 237.8 616.7 235.0C619.7 232.2 623.8 229.9 627.6 226.5C631.5 223.1 636.1 218.3 639.8 214.5C643.4 210.7 646.2 207.3 649.5 203.5C652.8 199.7 656.3 195.5 659.3 191.5C662.3 187.5 665.0 183.5 667.7 179.5C670.5 175.5 673.3 170.4 675.8 167.5C678.3 164.6 680.8 163.8 682.6 162.0C684.4 160.2 684.4 159.9 686.7 156.8C689.0 153.7 693.0 147.7 696.2 143.2C699.4 138.7 702.8 134.1 705.7 129.6C708.6 125.1 711.1 119.6 713.8 116.0C716.5 112.4 718.8 111.4 722.0 108.0C725.2 104.6 729.3 99.5 732.9 95.7C736.5 91.9 740.8 88.1 743.7 84.9C746.6 81.8 747.8 79.3 750.5 76.8C753.2 74.3 757.0 72.0 760.0 70.0C763.0 68.0 765.5 66.3 768.2 64.6C770.9 62.9 773.6 61.4 776.3 59.9C779.0 58.4 781.8 56.9 784.5 55.8C787.2 54.7 789.8 53.8 792.7 53.1C795.7 52.4 800.2 52.0 802.2 51.7C804.2 51.4 804.2 51.5 804.6 51.5" stroke="#9c2468" stroke-width="2"/>
<path d="M804.5 57.7C805.2 57.7 807.2 57.6 808.5 57.6C809.8 57.6 811.2 57.6 812.5 57.7C813.8 57.8 815.2 57.9 816.5 58.0C817.8 58.1 819.2 58.3 820.5 58.5C821.8 58.7 823.2 59.0 824.5 59.3C825.8 59.6 827.2 59.9 828.5 60.3C829.8 60.6 831.2 61.0 832.5 61.5C833.8 61.9 835.2 62.4 836.5 63.0C837.8 63.5 839.2 64.1 840.5 64.7C841.8 65.4 843.2 66.0 844.5 66.7C845.8 67.5 847.2 68.2 848.5 69.1C849.8 69.9 851.2 70.7 852.5 71.6C853.8 72.6 855.2 73.5 856.5 74.5C857.8 75.6 859.2 76.6 860.5 77.7C861.8 78.9 863.2 80.0 864.5 81.3C865.8 82.5 867.2 83.8 868.5 85.1C869.8 86.4 871.2 87.8 872.5 89.2C873.8 90.6 875.2 92.1 876.5 93.6C877.8 95.1 879.2 96.7 880.5 98.3C881.8 99.9 883.2 101.5 884.5 103.2C885.8 104.8 887.2 106.5 888.5 108.3C889.8 110.0 891.2 111.7 892.5 113.5C893.8 115.3 895.2 117.1 896.5 119.0C897.8 120.8 899.2 122.7 900.5 124.5C901.8 126.4 903.2 128.3 904.5 130.2C905.8 132.1 907.2 134.1 908.5 136.0C909.8 138.0 911.2 139.9 912.5 141.9C913.8 143.8 915.2 145.8 916.5 147.8C917.8 149.8 919.2 151.7 920.5 153.7C921.8 155.7 923.2 157.7 924.5 159.7C925.8 161.7 927.2 163.7 928.5 165.6C929.8 167.6 931.2 169.6 932.5 171.6C933.8 173.5 935.2 175.5 936.5 177.5C937.8 179.4 939.2 181.4 940.5 183.3C941.8 185.2 943.2 187.1 944.5 189.0C945.8 191.0 947.2 192.8 948.5 194.7C949.8 196.6 951.2 198.5 952.5 200.3C953.8 202.1 955.2 204.0 956.5 205.7C957.8 207.5 959.2 209.3 960.5 211.1C961.8 212.8 963.2 214.5 964.5 216.2C965.8 217.9 967.2 219.6 968.5 221.2C969.8 222.8 971.2 224.5 972.5 226.0C973.8 227.6 975.2 229.1 976.5 230.6C977.8 232.1 979.2 233.6 980.5 235.0C981.8 236.4 983.2 237.8 984.5 239.2C985.8 240.5 987.2 241.8 988.5 243.1C989.8 244.3 991.2 245.5 992.5 246.7C993.8 247.9 995.2 249.0 996.5 250.0C997.8 251.1 999.2 252.1 1000.5 253.1C1001.8 254.1 1003.2 255.0 1004.5 255.8C1005.8 256.7 1007.3 257.6 1008.5 258.2C1009.7 258.9 1011.0 259.5 1011.5 259.8" stroke="#9c2468" stroke-width="2"/>
<path d="M597.0 262.0C598.4 260.2 603.1 254.6 605.2 251.5C607.4 248.4 608.0 246.2 609.9 243.5C611.8 240.8 613.8 238.2 616.7 235.5C619.7 232.8 623.8 230.4 627.6 227.0C631.5 223.6 635.5 218.8 639.8 215.0C644.1 211.2 650.1 207.2 653.5 204.0C656.9 200.8 657.3 199.4 660.1 196.0C662.9 192.6 666.9 188.1 670.4 183.8C673.9 179.5 677.8 174.5 681.2 170.2C684.6 165.9 688.0 161.6 690.7 158.0C693.4 154.4 694.6 152.0 697.5 148.6C700.4 145.2 704.7 141.3 708.3 137.7C711.9 134.1 715.6 130.5 719.3 126.9C722.9 123.3 727.5 118.9 730.2 116.0C732.9 113.1 732.9 112.0 735.6 109.3C738.3 106.6 742.4 103.2 746.5 99.8C750.6 96.4 755.5 92.1 760.0 88.9C764.5 85.7 769.1 82.8 773.6 80.8C778.1 78.8 784.0 77.8 787.2 76.7C790.4 75.6 790.2 75.0 792.7 74.4C795.2 73.9 800.2 73.6 802.2 73.4C804.2 73.2 804.2 73.3 804.6 73.3" stroke="#ec5a22" stroke-width="2"/>
<path d="M805.1 75.2C805.8 75.3 807.8 75.6 809.1 75.8C810.4 76.0 811.8 76.3 813.1 76.5C814.4 76.7 815.8 76.9 817.1 77.2C818.4 77.4 819.8 77.6 821.1 77.9C822.4 78.2 823.8 78.4 825.1 78.7C826.4 79.0 827.8 79.3 829.1 79.7C830.4 80.0 831.8 80.4 833.1 80.7C834.4 81.1 835.8 81.5 837.1 82.0C838.4 82.4 839.8 82.9 841.1 83.4C842.4 83.9 843.8 84.5 845.1 85.1C846.4 85.7 847.8 86.3 849.1 87.0C850.4 87.6 851.8 88.4 853.1 89.1C854.4 89.9 855.8 90.7 857.1 91.6C858.4 92.5 859.8 93.4 861.1 94.4C862.4 95.4 863.8 96.5 865.1 97.6C866.4 98.7 867.8 99.9 869.1 101.1C870.4 102.4 871.8 103.7 873.1 105.0C874.4 106.3 875.8 107.7 877.1 109.1C878.4 110.5 879.8 112.0 881.1 113.5C882.4 115.0 883.8 116.5 885.1 118.1C886.4 119.6 887.8 121.2 889.1 122.8C890.4 124.4 891.8 126.0 893.1 127.6C894.4 129.2 895.8 130.9 897.1 132.5C898.4 134.1 899.8 135.8 901.1 137.4C902.4 139.1 903.8 140.7 905.1 142.3C906.4 144.0 907.8 145.6 909.1 147.3C910.4 148.9 911.8 150.6 913.1 152.3C914.4 153.9 915.8 155.6 917.1 157.2C918.4 158.9 919.8 160.6 921.1 162.2C922.4 163.9 923.8 165.6 925.1 167.3C926.4 169.0 927.8 170.7 929.1 172.4C930.4 174.1 931.8 175.8 933.1 177.5C934.4 179.2 935.8 180.9 937.1 182.6C938.4 184.4 939.8 186.1 941.1 187.8C942.4 189.5 943.8 191.3 945.1 193.0C946.4 194.7 947.8 196.5 949.1 198.2C950.4 200.0 951.8 201.7 953.1 203.4C954.4 205.1 955.8 206.9 957.1 208.6C958.4 210.3 959.8 212.0 961.1 213.7C962.4 215.4 963.8 217.1 965.1 218.8C966.4 220.5 967.8 222.2 969.1 223.9C970.4 225.5 971.8 227.2 973.1 228.8C974.4 230.4 975.8 232.1 977.1 233.7C978.4 235.2 979.8 236.8 981.1 238.4C982.4 239.9 983.8 241.4 985.1 242.8C986.4 244.3 987.8 245.7 989.1 247.0C990.4 248.4 991.8 249.6 993.1 250.9C994.4 252.1 995.8 253.2 997.1 254.3C998.4 255.3 999.8 256.3 1001.1 257.2C1002.4 258.1 1003.8 258.9 1005.1 259.6C1006.4 260.3 1008.1 261.0 1009.1 261.4C1010.1 261.8 1010.7 261.9 1011.0 262.0" stroke="#ec5a22" stroke-width="2"/>
<path d="M597.0 265.2C598.3 263.8 602.4 259.9 604.6 257.0C606.8 254.1 608.3 250.9 610.3 248.0C612.3 245.1 613.8 242.6 616.7 239.5C619.6 236.4 623.8 233.2 627.6 229.5C631.5 225.8 636.6 219.9 639.8 217.0C643.0 214.1 643.6 214.6 646.6 212.2C649.6 209.8 653.8 206.3 657.8 202.7C661.8 199.1 666.4 194.4 670.3 190.6C674.2 186.8 677.6 183.3 681.2 179.7C684.8 176.1 688.9 171.9 692.1 168.9C695.3 165.9 697.6 164.0 700.3 161.5C703.0 159.0 705.1 156.8 708.3 154.0C711.5 151.2 715.2 147.7 719.3 144.5C723.4 141.3 728.4 138.4 732.9 135.0C737.4 131.6 742.2 127.4 746.5 124.2C750.8 121.0 756.0 117.7 758.7 116.0C761.4 114.3 760.3 115.2 762.8 114.1C765.3 113.0 770.0 110.5 773.6 109.3C777.2 108.0 781.3 107.4 784.5 106.6C787.7 105.8 789.8 104.7 792.7 104.6C795.7 104.5 800.2 105.7 802.2 105.9C804.2 106.1 804.2 106.0 804.6 106.0" stroke="#bb0000" stroke-width="2"/>
<path d="M803.9 101.7C804.6 101.8 806.6 101.9 807.9 102.1C809.2 102.2 810.6 102.4 811.9 102.6C813.2 102.7 814.6 103.0 815.9 103.2C817.2 103.4 818.6 103.7 819.9 104.0C821.2 104.3 822.6 104.6 823.9 105.0C825.2 105.3 826.6 105.7 827.9 106.1C829.2 106.5 830.6 106.9 831.9 107.4C833.2 107.8 834.6 108.3 835.9 108.8C837.2 109.3 838.6 109.8 839.9 110.3C841.2 110.9 842.6 111.5 843.9 112.1C845.2 112.7 846.6 113.3 847.9 113.9C849.2 114.6 850.6 115.2 851.9 115.9C853.2 116.6 854.6 117.3 855.9 118.1C857.2 118.8 858.6 119.6 859.9 120.4C861.2 121.2 862.6 122.0 863.9 122.8C865.2 123.6 866.6 124.5 867.9 125.4C869.2 126.2 870.6 127.1 871.9 128.1C873.2 129.0 874.6 129.9 875.9 130.9C877.2 131.9 878.6 132.9 879.9 133.9C881.2 134.9 882.6 135.9 883.9 136.9C885.2 138.0 886.6 139.1 887.9 140.2C889.2 141.3 890.6 142.4 891.9 143.5C893.2 144.6 894.6 145.8 895.9 147.0C897.2 148.1 898.6 149.3 899.9 150.6C901.2 151.8 902.6 153.0 903.9 154.3C905.2 155.5 906.6 156.8 907.9 158.1C909.2 159.4 910.6 160.7 911.9 162.0C913.2 163.3 914.6 164.7 915.9 166.1C917.2 167.4 918.6 168.8 919.9 170.2C921.2 171.6 922.6 173.0 923.9 174.4C925.2 175.9 926.6 177.3 927.9 178.8C929.2 180.2 930.6 181.7 931.9 183.2C933.2 184.7 934.6 186.2 935.9 187.7C937.2 189.2 938.6 190.7 939.9 192.2C941.2 193.8 942.6 195.3 943.9 196.9C945.2 198.4 946.6 200.0 947.9 201.5C949.2 203.1 950.6 204.7 951.9 206.3C953.2 207.8 954.6 209.4 955.9 211.0C957.2 212.6 958.6 214.2 959.9 215.8C961.2 217.4 962.6 219.0 963.9 220.6C965.2 222.2 966.6 223.8 967.9 225.4C969.2 226.9 970.6 228.5 971.9 230.1C973.2 231.6 974.6 233.2 975.9 234.7C977.2 236.2 978.6 237.7 979.9 239.2C981.2 240.7 982.6 242.1 983.9 243.5C985.2 245.0 986.6 246.4 987.9 247.7C989.2 249.1 990.6 250.4 991.9 251.7C993.2 253.0 994.6 254.3 995.9 255.5C997.2 256.7 998.6 257.9 999.9 259.0C1001.2 260.2 1002.6 261.3 1003.9 262.3C1005.2 263.3 1006.8 264.5 1007.9 265.2C1009.0 266.0 1010.1 266.7 1010.5 267.0" stroke="#bb0000" stroke-width="2"/>
<path d="M597.0 262.0C597.9 261.2 600.6 259.2 602.4 257.5C604.2 255.8 605.9 253.8 607.9 251.5C609.9 249.2 612.6 246.0 614.6 243.5C616.6 241.0 618.1 238.9 620.1 236.5C622.1 234.1 624.6 231.3 626.9 229.0C629.2 226.7 631.4 225.0 633.7 222.4C636.0 219.8 638.2 216.4 640.5 213.6C642.8 210.8 644.8 209.7 647.3 205.4C649.8 201.1 652.5 193.3 655.4 187.9C658.3 182.5 661.7 177.6 664.9 172.9C668.1 168.2 671.2 164.5 674.4 160.0C677.6 155.5 681.3 150.3 684.0 145.9C686.7 141.5 688.5 137.8 690.7 133.7C693.0 129.6 694.6 126.4 697.5 121.4C700.4 116.5 704.9 108.9 708.0 104.0C711.1 99.1 713.4 95.4 716.0 92.0C718.6 88.6 720.6 86.3 723.4 83.5C726.2 80.7 729.5 78.2 732.9 75.4C736.3 72.6 740.1 69.3 743.7 66.6C747.3 63.9 751.0 61.6 754.6 59.2C758.2 56.8 761.9 54.5 765.5 52.4C769.1 50.3 773.0 48.1 776.3 46.5C779.5 44.9 781.9 44.0 785.0 42.9C788.1 41.8 791.7 40.6 795.0 39.9C798.3 39.2 803.0 39.1 804.6 38.9" stroke="#000000" stroke-width="2.3" stroke-dasharray="4.5 3.5"/>
<path d="M804.6 50.2C805.3 50.0 807.3 49.4 808.6 49.1C809.9 48.8 811.3 48.6 812.6 48.5C813.9 48.4 815.3 48.3 816.6 48.3C817.9 48.3 819.3 48.4 820.6 48.5C821.9 48.6 823.3 48.8 824.6 49.1C825.9 49.4 827.3 49.7 828.6 50.1C829.9 50.5 831.3 50.9 832.6 51.4C833.9 51.9 835.3 52.5 836.6 53.1C837.9 53.8 839.3 54.5 840.6 55.2C841.9 55.9 843.3 56.7 844.6 57.6C845.9 58.4 847.3 59.3 848.6 60.3C849.9 61.2 851.3 62.2 852.6 63.3C853.9 64.3 855.3 65.5 856.6 66.6C857.9 67.7 859.3 68.9 860.6 70.2C861.9 71.4 863.3 72.7 864.6 74.0C865.9 75.4 867.3 76.7 868.6 78.2C869.9 79.6 871.3 81.0 872.6 82.5C873.9 84.0 875.3 85.5 876.6 87.1C877.9 88.7 879.3 90.3 880.6 91.9C881.9 93.5 883.3 95.2 884.6 96.9C885.9 98.6 887.3 100.3 888.6 102.1C889.9 103.9 891.3 105.7 892.6 107.5C893.9 109.3 895.3 111.2 896.6 113.0C897.9 114.9 899.3 116.8 900.6 118.8C901.9 120.7 903.3 122.6 904.6 124.6C905.9 126.6 907.3 128.6 908.6 130.6C909.9 132.6 911.3 134.6 912.6 136.7C913.9 138.7 915.3 140.8 916.6 142.9C917.9 144.9 919.3 147.0 920.6 149.1C921.9 151.2 923.3 153.3 924.6 155.4C925.9 157.5 927.3 159.6 928.6 161.7C929.9 163.8 931.3 165.9 932.6 168.0C933.9 170.0 935.3 172.1 936.6 174.2C937.9 176.2 939.3 178.3 940.6 180.3C941.9 182.3 943.3 184.3 944.6 186.3C945.9 188.3 947.3 190.3 948.6 192.2C949.9 194.1 951.3 196.1 952.6 198.0C953.9 199.9 955.3 201.7 956.6 203.6C957.9 205.4 959.3 207.2 960.6 209.0C961.9 210.8 963.3 212.6 964.6 214.3C965.9 216.0 967.3 217.7 968.6 219.4C969.9 221.0 971.3 222.6 972.6 224.2C973.9 225.8 975.3 227.4 976.6 228.9C977.9 230.4 979.3 231.9 980.6 233.3C981.9 234.7 983.3 236.1 984.6 237.5C985.9 238.8 987.3 240.2 988.6 241.4C989.9 242.7 991.3 243.9 992.6 245.1C993.9 246.3 995.3 247.4 996.6 248.5C997.9 249.6 999.3 250.6 1000.6 251.6C1001.9 252.6 1003.3 253.6 1004.6 254.5C1005.9 255.4 1007.5 256.3 1008.6 257.0C1009.7 257.6 1010.6 258.1 1011.0 258.4" stroke="#000000" stroke-width="2.3" stroke-dasharray="4.5 3.5"/>
<path d="M597.0 263.5C597.9 262.7 600.6 260.6 602.4 258.8C604.2 257.1 605.8 255.3 607.9 253.0C610.0 250.7 612.7 247.1 614.7 244.8C616.7 242.5 618.1 241.7 620.1 239.4C622.1 237.2 624.6 234.0 626.9 231.3C629.2 228.6 631.4 225.8 633.7 223.1C636.0 220.4 638.2 217.7 640.5 215.0C642.8 212.3 645.0 209.4 647.3 206.8C649.5 204.2 651.5 202.8 654.0 199.5C656.5 196.2 659.3 191.2 662.0 187.0C664.7 182.8 667.3 178.0 670.0 174.0C672.7 170.0 675.3 166.8 678.0 163.0C680.7 159.2 683.3 154.8 686.0 151.0C688.7 147.2 691.3 143.8 694.0 140.0C696.7 136.2 699.3 132.2 702.0 128.0C704.7 123.8 707.3 119.0 710.0 115.0C712.7 111.0 715.2 107.5 718.0 104.0C720.8 100.5 724.0 97.2 727.0 94.0C730.0 90.8 733.0 88.0 736.0 85.0C739.0 82.0 742.2 78.5 745.0 76.0C747.8 73.5 750.3 72.0 753.0 70.0C755.7 68.0 758.3 66.0 761.0 63.9C763.7 61.8 766.3 59.5 769.0 57.5C771.7 55.5 774.3 53.5 777.0 51.9C779.7 50.3 782.3 49.0 785.0 47.9C787.7 46.8 790.1 45.9 793.0 45.2C795.9 44.6 800.3 44.2 802.2 44.0C804.1 43.8 804.2 43.9 804.6 43.9" stroke="#2c5b9c" stroke-width="2.3" stroke-dasharray="4.5 3.5"/>
<path d="M804.6 51.9C805.3 51.7 807.3 50.9 808.6 50.6C809.9 50.2 811.3 50.0 812.6 49.8C813.9 49.6 815.3 49.5 816.6 49.5C817.9 49.4 819.3 49.5 820.6 49.6C821.9 49.7 823.3 49.9 824.6 50.2C825.9 50.5 827.3 50.8 828.6 51.3C829.9 51.7 831.3 52.2 832.6 52.7C833.9 53.3 835.3 53.9 836.6 54.6C837.9 55.2 839.3 56.0 840.6 56.8C841.9 57.6 843.3 58.5 844.6 59.4C845.9 60.3 847.3 61.3 848.6 62.4C849.9 63.4 851.3 64.5 852.6 65.6C853.9 66.8 855.3 68.0 856.6 69.3C857.9 70.5 859.3 71.8 860.6 73.2C861.9 74.5 863.3 75.9 864.6 77.4C865.9 78.8 867.3 80.3 868.6 81.8C869.9 83.4 871.3 84.9 872.6 86.5C873.9 88.2 875.3 89.8 876.6 91.5C877.9 93.2 879.3 94.9 880.6 96.7C881.9 98.4 883.3 100.2 884.6 102.0C885.9 103.9 887.3 105.7 888.6 107.6C889.9 109.5 891.3 111.4 892.6 113.3C893.9 115.3 895.3 117.2 896.6 119.2C897.9 121.2 899.3 123.2 900.6 125.2C901.9 127.3 903.3 129.3 904.6 131.4C905.9 133.4 907.3 135.5 908.6 137.6C909.9 139.7 911.3 141.8 912.6 143.9C913.9 146.0 915.3 148.1 916.6 150.2C917.9 152.3 919.3 154.5 920.6 156.6C921.9 158.7 923.3 160.7 924.6 162.8C925.9 164.9 927.3 166.9 928.6 169.0C929.9 171.0 931.3 173.0 932.6 175.0C933.9 177.0 935.3 178.9 936.6 180.8C937.9 182.7 939.3 184.6 940.6 186.5C941.9 188.3 943.3 190.2 944.6 192.0C945.9 193.8 947.3 195.5 948.6 197.3C949.9 199.0 951.3 200.7 952.6 202.4C953.9 204.1 955.3 205.8 956.6 207.5C957.9 209.1 959.3 210.7 960.6 212.3C961.9 213.9 963.3 215.5 964.6 217.1C965.9 218.6 967.3 220.2 968.6 221.7C969.9 223.2 971.3 224.7 972.6 226.1C973.9 227.6 975.3 229.0 976.6 230.4C977.9 231.8 979.3 233.2 980.6 234.6C981.9 235.9 983.3 237.2 984.6 238.5C985.9 239.8 987.3 241.1 988.6 242.4C989.9 243.6 991.3 244.8 992.6 246.0C993.9 247.2 995.3 248.3 996.6 249.4C997.9 250.6 999.3 251.7 1000.6 252.7C1001.9 253.8 1003.3 254.8 1004.6 255.8C1005.9 256.8 1007.5 257.9 1008.6 258.7C1009.7 259.5 1010.6 260.1 1011.0 260.3" stroke="#2c5b9c" stroke-width="2.3" stroke-dasharray="4.5 3.5"/>
<path d="M597.0 264.0C597.9 263.2 600.6 261.0 602.4 259.3C604.2 257.6 605.8 255.9 607.9 253.6C610.0 251.3 612.7 247.8 614.7 245.5C616.7 243.2 618.1 242.2 620.1 240.0C622.1 237.8 624.6 234.7 626.9 232.0C629.2 229.3 631.4 226.7 633.7 224.0C636.0 221.3 638.2 218.7 640.5 216.0C642.8 213.3 645.0 210.5 647.3 208.0C649.5 205.5 651.5 204.2 654.0 201.0C656.5 197.8 659.3 193.0 662.0 189.0C664.7 185.0 667.3 180.8 670.0 177.0C672.7 173.2 675.2 169.8 678.0 166.0C680.8 162.2 684.0 158.0 687.0 154.0C690.0 150.0 693.0 146.0 696.0 142.0C699.0 138.0 702.0 134.0 705.0 129.9C708.0 125.8 711.0 121.2 714.0 117.5C717.0 113.8 719.8 111.5 723.0 108.0C726.2 104.5 729.5 100.2 733.0 96.5C736.5 92.8 741.0 89.0 744.0 86.0C747.0 83.0 748.3 81.0 751.0 78.5C753.7 76.0 757.2 73.2 760.0 71.0C762.8 68.8 765.3 67.2 768.0 65.5C770.7 63.8 773.3 62.0 776.0 60.5C778.7 59.0 781.2 57.6 784.0 56.5C786.8 55.4 789.7 54.5 792.7 53.8C795.7 53.1 800.2 52.8 802.2 52.5C804.2 52.2 804.2 52.3 804.6 52.3" stroke="#9c2468" stroke-width="2.3" stroke-dasharray="4.5 3.5"/>
<path d="M804.7 58.8C805.4 58.8 807.4 58.8 808.7 58.9C810.0 59.0 811.4 59.2 812.7 59.4C814.0 59.5 815.4 59.7 816.7 60.0C818.0 60.2 819.4 60.5 820.7 60.9C822.0 61.2 823.4 61.6 824.7 62.0C826.0 62.4 827.4 62.8 828.7 63.3C830.0 63.8 831.4 64.4 832.7 64.9C834.0 65.5 835.4 66.1 836.7 66.8C838.0 67.5 839.4 68.2 840.7 69.0C842.0 69.7 843.4 70.5 844.7 71.4C846.0 72.2 847.4 73.1 848.7 74.0C850.0 75.0 851.4 76.0 852.7 77.0C854.0 78.0 855.4 79.1 856.7 80.3C858.0 81.4 859.4 82.6 860.7 83.8C862.0 85.0 863.4 86.3 864.7 87.6C866.0 89.0 867.4 90.4 868.7 91.8C870.0 93.2 871.4 94.7 872.7 96.2C874.0 97.7 875.4 99.2 876.7 100.8C878.0 102.4 879.4 104.0 880.7 105.7C882.0 107.4 883.4 109.1 884.7 110.8C886.0 112.5 887.4 114.3 888.7 116.1C890.0 117.8 891.4 119.7 892.7 121.5C894.0 123.3 895.4 125.2 896.7 127.1C898.0 128.9 899.4 130.8 900.7 132.7C902.0 134.7 903.4 136.6 904.7 138.5C906.0 140.5 907.4 142.4 908.7 144.4C910.0 146.4 911.4 148.3 912.7 150.3C914.0 152.3 915.4 154.3 916.7 156.3C918.0 158.3 919.4 160.3 920.7 162.2C922.0 164.2 923.4 166.2 924.7 168.2C926.0 170.2 927.4 172.1 928.7 174.1C930.0 176.1 931.4 178.0 932.7 179.9C934.0 181.9 935.4 183.8 936.7 185.7C938.0 187.6 939.4 189.5 940.7 191.3C942.0 193.2 943.4 195.0 944.7 196.8C946.0 198.6 947.4 200.4 948.7 202.1C950.0 203.8 951.4 205.5 952.7 207.2C954.0 208.8 955.4 210.5 956.7 212.0C958.0 213.6 959.4 215.2 960.7 216.7C962.0 218.2 963.4 219.6 964.7 221.0C966.0 222.4 967.4 223.8 968.7 225.1C970.0 226.5 971.4 227.8 972.7 229.0C974.0 230.3 975.4 231.5 976.7 232.7C978.0 233.9 979.4 235.1 980.7 236.2C982.0 237.4 983.4 238.5 984.7 239.5C986.0 240.6 987.4 241.7 988.7 242.7C990.0 243.8 991.4 244.8 992.7 245.8C994.0 246.8 995.4 247.7 996.7 248.7C998.0 249.6 999.4 250.6 1000.7 251.5C1002.0 252.4 1003.4 253.4 1004.7 254.3C1006.0 255.2 1007.5 256.1 1008.7 256.9C1009.9 257.7 1011.5 258.7 1012.0 259.1" stroke="#9c2468" stroke-width="2.3" stroke-dasharray="4.5 3.5"/>
<path d="M597.0 263.0C598.8 261.6 604.9 257.2 607.9 254.5C610.9 251.8 612.4 248.8 614.7 247.0C617.0 245.2 619.2 245.2 621.5 243.5C623.8 241.8 626.0 239.2 628.3 236.7C630.5 234.2 632.8 231.0 635.0 228.5C637.2 226.0 639.3 224.4 641.8 221.7C644.3 219.0 647.0 215.1 650.0 212.2C653.0 209.2 656.8 207.2 659.5 204.0C662.2 200.8 663.6 196.9 666.3 193.3C669.0 189.7 672.6 186.1 675.8 182.5C679.0 178.9 682.6 175.2 685.3 171.6C688.0 168.0 689.4 164.6 692.1 160.8C694.8 157.0 698.2 152.7 701.6 148.6C705.0 144.5 709.1 140.2 712.5 136.4C715.9 132.6 718.8 128.9 722.0 125.5C725.2 122.1 727.4 120.2 731.5 116.0C735.6 111.8 741.8 104.9 746.5 100.5C751.2 96.1 755.5 92.7 760.0 89.5C764.5 86.3 769.1 83.6 773.6 81.5C778.1 79.4 782.4 78.0 787.2 76.7C792.0 75.4 799.3 74.3 802.2 73.8C805.1 73.3 804.2 73.8 804.6 73.8" stroke="#ec5a22" stroke-width="2.3" stroke-dasharray="4.5 3.5"/>
<path d="M804.6 75.5C805.3 75.7 807.3 76.0 808.6 76.2C809.9 76.5 811.3 76.8 812.6 77.1C813.9 77.5 815.3 77.8 816.6 78.2C817.9 78.6 819.3 79.0 820.6 79.5C821.9 80.0 823.3 80.5 824.6 81.0C825.9 81.5 827.3 82.1 828.6 82.7C829.9 83.3 831.3 83.9 832.6 84.5C833.9 85.2 835.3 85.9 836.6 86.6C837.9 87.4 839.3 88.1 840.6 88.9C841.9 89.7 843.3 90.6 844.6 91.5C845.9 92.3 847.3 93.2 848.6 94.2C849.9 95.1 851.3 96.1 852.6 97.1C853.9 98.2 855.3 99.2 856.6 100.3C857.9 101.4 859.3 102.6 860.6 103.7C861.9 104.9 863.3 106.1 864.6 107.4C865.9 108.6 867.3 109.9 868.6 111.2C869.9 112.6 871.3 113.9 872.6 115.3C873.9 116.7 875.3 118.2 876.6 119.6C877.9 121.1 879.3 122.6 880.6 124.1C881.9 125.6 883.3 127.2 884.6 128.7C885.9 130.3 887.3 131.9 888.6 133.5C889.9 135.1 891.3 136.7 892.6 138.4C893.9 140.0 895.3 141.7 896.6 143.3C897.9 145.0 899.3 146.7 900.6 148.3C901.9 150.0 903.3 151.7 904.6 153.4C905.9 155.1 907.3 156.8 908.6 158.4C909.9 160.1 911.3 161.8 912.6 163.5C913.9 165.2 915.3 166.8 916.6 168.5C917.9 170.2 919.3 171.8 920.6 173.4C921.9 175.1 923.3 176.7 924.6 178.3C925.9 179.9 927.3 181.5 928.6 183.1C929.9 184.6 931.3 186.2 932.6 187.7C933.9 189.2 935.3 190.7 936.6 192.2C937.9 193.7 939.3 195.1 940.6 196.5C941.9 197.9 943.3 199.3 944.6 200.7C945.9 202.1 947.3 203.4 948.6 204.8C949.9 206.1 951.3 207.4 952.6 208.8C953.9 210.1 955.3 211.4 956.6 212.8C957.9 214.1 959.3 215.5 960.6 216.9C961.9 218.2 963.3 219.6 964.6 221.0C965.9 222.4 967.3 223.8 968.6 225.3C969.9 226.7 971.3 228.1 972.6 229.6C973.9 231.0 975.3 232.4 976.6 233.8C977.9 235.2 979.3 236.6 980.6 238.0C981.9 239.4 983.3 240.8 984.6 242.1C985.9 243.5 987.3 244.8 988.6 246.1C989.9 247.4 991.3 248.6 992.6 249.8C993.9 251.0 995.3 252.2 996.6 253.3C997.9 254.4 999.3 255.5 1000.6 256.5C1001.9 257.5 1003.3 258.5 1004.6 259.4C1005.9 260.2 1007.5 261.2 1008.6 261.8C1009.7 262.4 1010.6 262.9 1011.0 263.1" stroke="#ec5a22" stroke-width="2.3" stroke-dasharray="4.5 3.5"/>
<path d="M597.0 264.5C598.4 263.5 602.4 260.5 605.1 258.4C607.8 256.2 610.3 253.8 613.3 251.6C616.2 249.3 619.9 247.4 622.8 244.9C625.7 242.4 628.9 239.0 630.9 236.7C632.9 234.4 633.0 233.3 635.0 231.3C637.0 229.3 640.5 227.0 643.2 224.5C645.9 222.0 648.3 219.0 651.3 216.3C654.2 213.6 657.7 210.9 660.9 208.2C664.1 205.5 667.7 202.7 670.4 200.0C673.1 197.3 674.0 195.4 677.2 192.0C680.4 188.6 685.5 183.3 689.4 179.7C693.2 176.1 696.4 174.0 700.3 170.2C704.1 166.4 708.9 160.6 712.5 156.8C716.1 153.0 718.6 150.2 722.0 147.3C725.4 144.4 728.8 142.1 732.9 139.1C737.0 136.1 741.5 133.2 746.5 129.6C751.5 126.0 758.3 120.2 762.8 117.4C767.3 114.6 769.1 114.4 773.6 112.7C778.1 111.0 785.2 108.3 790.0 107.3C794.8 106.3 799.8 106.7 802.2 106.6C804.6 106.5 804.2 106.5 804.6 106.5" stroke="#bb0000" stroke-width="2.3" stroke-dasharray="4.5 3.5"/>
<path d="M805.0 102.8C805.7 102.8 807.7 102.8 809.0 102.9C810.3 103.0 811.7 103.2 813.0 103.4C814.3 103.6 815.7 103.8 817.0 104.1C818.3 104.4 819.7 104.7 821.0 105.1C822.3 105.4 823.7 105.9 825.0 106.3C826.3 106.7 827.7 107.2 829.0 107.8C830.3 108.3 831.7 108.8 833.0 109.4C834.3 110.0 835.7 110.7 837.0 111.3C838.3 112.0 839.7 112.7 841.0 113.4C842.3 114.2 843.7 114.9 845.0 115.7C846.3 116.5 847.7 117.3 849.0 118.2C850.3 119.1 851.7 119.9 853.0 120.9C854.3 121.8 855.7 122.7 857.0 123.7C858.3 124.6 859.7 125.6 861.0 126.6C862.3 127.7 863.7 128.7 865.0 129.8C866.3 130.8 867.7 131.9 869.0 133.0C870.3 134.1 871.7 135.2 873.0 136.4C874.3 137.5 875.7 138.7 877.0 139.9C878.3 141.0 879.7 142.2 881.0 143.5C882.3 144.7 883.7 145.9 885.0 147.1C886.3 148.4 887.7 149.6 889.0 150.9C890.3 152.2 891.7 153.4 893.0 154.7C894.3 156.0 895.7 157.3 897.0 158.6C898.3 160.0 899.7 161.3 901.0 162.6C902.3 163.9 903.7 165.3 905.0 166.6C906.3 167.9 907.7 169.3 909.0 170.6C910.3 172.0 911.7 173.3 913.0 174.7C914.3 176.0 915.7 177.4 917.0 178.7C918.3 180.1 919.7 181.5 921.0 182.8C922.3 184.2 923.7 185.5 925.0 186.9C926.3 188.2 927.7 189.6 929.0 191.0C930.3 192.3 931.7 193.7 933.0 195.0C934.3 196.4 935.7 197.7 937.0 199.1C938.3 200.4 939.7 201.8 941.0 203.1C942.3 204.4 943.7 205.8 945.0 207.1C946.3 208.4 947.7 209.7 949.0 211.1C950.3 212.4 951.7 213.7 953.0 215.0C954.3 216.3 955.7 217.6 957.0 218.9C958.3 220.2 959.7 221.4 961.0 222.7C962.3 224.0 963.7 225.2 965.0 226.5C966.3 227.7 967.7 229.0 969.0 230.2C970.3 231.4 971.7 232.6 973.0 233.8C974.3 235.1 975.7 236.2 977.0 237.4C978.3 238.6 979.7 239.8 981.0 240.9C982.3 242.1 983.7 243.2 985.0 244.3C986.3 245.5 987.7 246.6 989.0 247.7C990.3 248.7 991.7 249.8 993.0 250.9C994.3 251.9 995.7 253.0 997.0 254.0C998.3 255.0 999.7 256.0 1001.0 257.0C1002.3 258.0 1003.7 259.0 1005.0 259.9C1006.3 260.9 1008.0 262.0 1009.0 262.7C1010.0 263.4 1010.7 263.8 1011.0 264.1" stroke="#bb0000" stroke-width="2.3" stroke-dasharray="4.5 3.5"/>
</g>
<rect x="597" y="32" width="414" height="246" fill="none" stroke="#000" stroke-width="1.3"/>
<line x1="804.6" y1="32" x2="804.6" y2="278" stroke="#000" stroke-width="2.2"/>
<line x1="606.4" y1="49.1" x2="632.4" y2="49.1" stroke="#000" stroke-width="2"/>
<text x="645.7" y="58" font-size="23" font-family="Liberation Serif, Times New Roman, serif" stroke="#000" stroke-width="0.3">0.1 s</text>
<line x1="606.4" y1="82" x2="632.4" y2="82" stroke="#2f5c9c" stroke-width="2"/>
<text x="645.7" y="89.5" font-size="23" font-family="Liberation Serif, Times New Roman, serif" stroke="#000" stroke-width="0.3">5 s</text>
<line x1="606.4" y1="114.4" x2="632.4" y2="114.4" stroke="#9c2a6e" stroke-width="2"/>
<text x="645.7" y="122" font-size="23" font-family="Liberation Serif, Times New Roman, serif" stroke="#000" stroke-width="0.3">10 s</text>
<line x1="890" y1="48.4" x2="915.7" y2="48.4" stroke="#e8643a" stroke-width="2"/>
<text x="928.2" y="57.1" font-size="23" font-family="Liberation Serif, Times New Roman, serif" stroke="#000" stroke-width="0.3">25 s</text>
<line x1="890" y1="81.7" x2="915.7" y2="81.7" stroke="#b01818" stroke-width="2"/>
<text x="928.2" y="90.2" font-size="23" font-family="Liberation Serif, Times New Roman, serif" stroke="#000" stroke-width="0.3">0 s, 50 s</text>
<text x="729" y="242.6" font-size="20" text-anchor="middle" fill="#262626" stroke="#262626" stroke-width="0.12" font-family="Liberation Serif, Times New Roman, serif">Yb:FP15</text>
<text x="731" y="266.6" font-size="20" text-anchor="middle" fill="#262626" stroke="#262626" stroke-width="0.12" font-family="Liberation Serif, Times New Roman, serif">(A4) Front</text>
<text x="879.5" y="242.6" font-size="20" text-anchor="middle" fill="#262626" stroke="#262626" stroke-width="0.12" font-family="Liberation Serif, Times New Roman, serif">Yb:FP15</text>
<text x="881.5" y="266.6" font-size="20" text-anchor="middle" fill="#262626" stroke="#262626" stroke-width="0.12" font-family="Liberation Serif, Times New Roman, serif">(A4) Back</text>
<path d="M1129.5 276.6v-2.2M1129.5 32.4v2.2M1146.4 276.6v-1.4M1146.4 32.4v1.4M1163.3 276.6v-1.4M1163.3 32.4v1.4M1180.2 276.6v-1.4M1180.2 32.4v1.4M1197.1 276.6v-1.4M1197.1 32.4v1.4M1214.0 276.6v-2.2M1214.0 32.4v2.2M1230.9 276.6v-1.4M1230.9 32.4v1.4M1247.8 276.6v-1.4M1247.8 32.4v1.4M1264.7 276.6v-1.4M1264.7 32.4v1.4M1281.6 276.6v-1.4M1281.6 32.4v1.4M1298.5 276.6v-2.2M1298.5 32.4v2.2M1315.4 276.6v-1.4M1315.4 32.4v1.4M1332.3 276.6v-1.4M1332.3 32.4v1.4M1349.2 276.6v-1.4M1349.2 32.4v1.4M1366.1 276.6v-1.4M1366.1 32.4v1.4M1383.0 276.6v-2.2M1383.0 32.4v2.2M1399.9 276.6v-1.4M1399.9 32.4v1.4M1416.8 276.6v-1.4M1416.8 32.4v1.4M1433.7 276.6v-1.4M1433.7 32.4v1.4M1450.6 276.6v-1.4M1450.6 32.4v1.4M1467.5 276.6v-2.2M1467.5 32.4v2.2M1484.4 276.6v-1.4M1484.4 32.4v1.4M1501.3 276.6v-1.4M1501.3 32.4v1.4M1518.2 276.6v-1.4M1518.2 32.4v1.4M1535.1 276.6v-1.4M1535.1 32.4v1.4M1124.7 274.4h1.4M1535 274.4h-1.4M1124.7 267.4h1.4M1535 267.4h-1.4M1124.7 260.4h2.2M1535 260.4h-2.2M1124.7 253.4h1.4M1535 253.4h-1.4M1124.7 246.4h1.4M1535 246.4h-1.4M1124.7 239.4h1.4M1535 239.4h-1.4M1124.7 232.4h1.4M1535 232.4h-1.4M1124.7 225.4h2.2M1535 225.4h-2.2M1124.7 218.4h1.4M1535 218.4h-1.4M1124.7 211.4h1.4M1535 211.4h-1.4M1124.7 204.4h1.4M1535 204.4h-1.4M1124.7 197.4h1.4M1535 197.4h-1.4M1124.7 190.4h2.2M1535 190.4h-2.2M1124.7 183.4h1.4M1535 183.4h-1.4M1124.7 176.4h1.4M1535 176.4h-1.4M1124.7 169.4h1.4M1535 169.4h-1.4M1124.7 162.4h1.4M1535 162.4h-1.4M1124.7 155.4h2.2M1535 155.4h-2.2M1124.7 148.4h1.4M1535 148.4h-1.4M1124.7 141.4h1.4M1535 141.4h-1.4M1124.7 134.4h1.4M1535 134.4h-1.4M1124.7 127.4h1.4M1535 127.4h-1.4M1124.7 120.4h2.2M1535 120.4h-2.2M1124.7 113.4h1.4M1535 113.4h-1.4M1124.7 106.4h1.4M1535 106.4h-1.4M1124.7 99.4h1.4M1535 99.4h-1.4M1124.7 92.4h1.4M1535 92.4h-1.4M1124.7 85.4h2.2M1535 85.4h-2.2M1124.7 78.4h1.4M1535 78.4h-1.4M1124.7 71.4h1.4M1535 71.4h-1.4M1124.7 64.4h1.4M1535 64.4h-1.4M1124.7 57.4h1.4M1535 57.4h-1.4M1124.7 50.4h2.2M1535 50.4h-2.2M1124.7 43.4h1.4M1535 43.4h-1.4M1124.7 36.4h1.4M1535 36.4h-1.4" stroke="#000" stroke-width="1" fill="none"/>
<text x="1120.3" y="268.0" font-size="24.2" text-anchor="end" font-family="Liberation Serif, Times New Roman, serif" stroke="#000" stroke-width="0.3">31.0</text>
<text x="1120.3" y="233.0" font-size="24.2" text-anchor="end" font-family="Liberation Serif, Times New Roman, serif" stroke="#000" stroke-width="0.3">31.5</text>
<text x="1120.3" y="198.0" font-size="24.2" text-anchor="end" font-family="Liberation Serif, Times New Roman, serif" stroke="#000" stroke-width="0.3">32.0</text>
<text x="1120.3" y="163.0" font-size="24.2" text-anchor="end" font-family="Liberation Serif, Times New Roman, serif" stroke="#000" stroke-width="0.3">32.5</text>
<text x="1120.3" y="128.0" font-size="24.2" text-anchor="end" font-family="Liberation Serif, Times New Roman, serif" stroke="#000" stroke-width="0.3">33.0</text>
<text x="1120.3" y="93.0" font-size="24.2" text-anchor="end" font-family="Liberation Serif, Times New Roman, serif" stroke="#000" stroke-width="0.3">33.5</text>
<text x="1120.3" y="58.0" font-size="24.2" text-anchor="end" font-family="Liberation Serif, Times New Roman, serif" stroke="#000" stroke-width="0.3">34.0</text>
<text x="1129.5" y="302.2" font-size="24" text-anchor="middle" font-family="Liberation Serif, Times New Roman, serif" stroke="#000" stroke-width="0.3">0</text>
<text x="1214.0" y="302.2" font-size="24" text-anchor="middle" font-family="Liberation Serif, Times New Roman, serif" stroke="#000" stroke-width="0.3">10</text>
<text x="1298.5" y="302.2" font-size="24" text-anchor="middle" font-family="Liberation Serif, Times New Roman, serif" stroke="#000" stroke-width="0.3">20</text>
<text x="1383.0" y="302.2" font-size="24" text-anchor="middle" font-family="Liberation Serif, Times New Roman, serif" stroke="#000" stroke-width="0.3">30</text>
<text x="1467.5" y="302.2" font-size="24" text-anchor="middle" font-family="Liberation Serif, Times New Roman, serif" stroke="#000" stroke-width="0.3">40</text>
<text x="1329.5" y="335" font-size="24" text-anchor="middle" font-family="Liberation Serif, Times New Roman, serif" stroke="#000" stroke-width="0.3">Time [s]</text>
<text transform="translate(1065,155.5) rotate(-90)" font-size="23.5" text-anchor="middle" font-family="Liberation Serif, Times New Roman, serif" stroke="#000" stroke-width="0.3">Temperature [°C]</text>
<clipPath id="cpc"><rect x="1124.7" y="32.4" width="410.29999999999995" height="244.20000000000002"/></clipPath><g clip-path="url(#cpc)" fill="none" stroke-linejoin="round">
<path d="M1129.0 276.5 1137.4 40.7L1137.4 40.7C1138.7 41.3 1142.7 43.0 1145.2 44.3C1147.7 45.6 1150.6 47.5 1152.5 48.7C1154.4 49.9 1154.8 50.0 1156.6 51.7C1158.4 53.4 1160.7 56.7 1163.2 58.7C1165.7 60.7 1168.8 62.1 1171.5 63.9C1174.2 65.7 1177.3 67.6 1179.6 69.3C1181.9 71.0 1183.5 72.8 1185.1 74.0C1186.7 75.2 1187.3 75.7 1189.1 76.8C1190.9 77.9 1193.2 79.0 1195.9 80.8C1198.6 82.6 1202.5 85.3 1205.4 87.6C1208.4 89.9 1210.9 92.6 1213.6 94.4C1216.3 96.2 1218.8 97.1 1221.7 98.4C1224.6 99.8 1228.3 101.0 1231.2 102.5C1234.1 104.0 1236.6 105.4 1239.3 107.2C1242.0 109.0 1245.7 111.9 1247.5 113.4C1249.3 114.9 1248.8 114.7 1250.4 116.0C1252.0 117.3 1254.1 119.2 1257.0 121.0C1259.9 122.8 1264.3 124.9 1268.0 126.9C1271.7 128.9 1275.3 131.0 1278.9 133.0C1282.5 135.0 1286.3 137.1 1289.7 139.1C1293.1 141.1 1296.2 143.4 1299.2 145.2C1302.2 147.0 1304.9 148.0 1307.4 149.9C1309.9 151.8 1311.4 154.8 1314.1 156.7C1316.8 158.5 1320.5 159.3 1323.8 161.0C1327.1 162.7 1330.6 164.9 1333.9 166.8C1337.2 168.7 1340.7 170.6 1343.4 172.2C1346.1 173.8 1347.9 174.2 1350.2 176.3C1352.5 178.4 1354.5 182.7 1357.0 184.5C1359.5 186.3 1362.2 185.6 1365.1 187.2C1368.0 188.8 1371.6 192.3 1374.6 194.0C1377.5 195.7 1379.8 195.8 1382.8 197.4C1385.8 199.0 1388.8 201.6 1392.8 203.4C1396.8 205.2 1403.1 206.2 1407.1 208.1C1411.1 210.0 1413.4 213.1 1416.6 214.9C1419.8 216.7 1423.1 217.4 1426.1 219.0C1429.0 220.6 1431.6 223.3 1434.3 224.4C1437.0 225.5 1439.7 224.4 1442.4 225.8C1445.1 227.2 1447.6 230.8 1450.5 232.6C1453.4 234.4 1457.4 235.5 1460.0 236.6C1462.6 237.7 1463.3 238.2 1466.0 239.3C1468.7 240.4 1473.0 241.5 1476.1 242.9C1479.1 244.3 1481.6 246.0 1484.3 247.6C1487.0 249.2 1489.5 250.5 1492.4 252.4C1495.3 254.3 1498.7 257.6 1501.9 259.1C1505.1 260.6 1508.5 260.6 1511.4 261.2C1514.4 261.8 1517.3 261.6 1519.6 262.5C1521.9 263.4 1523.4 265.4 1525.0 266.6C1526.6 267.9 1528.1 269.1 1529.1 270.0C1530.1 270.9 1530.7 271.7 1531.0 272.0" stroke="#000" stroke-width="2.2"/>
<path d="M1137.5 40.7C1138.9 41.5 1141.4 42.9 1145.7 45.4C1150.0 47.9 1158.9 53.0 1163.4 55.6C1167.9 58.2 1169.5 59.4 1172.9 61.2C1176.3 63.0 1180.1 64.8 1183.7 66.6C1187.3 68.4 1191.9 70.4 1194.6 72.0C1197.3 73.6 1197.3 74.2 1200.0 76.0C1202.7 77.8 1207.3 80.8 1210.9 82.8C1214.5 84.8 1218.1 86.4 1221.7 88.2C1225.3 90.0 1229.2 91.9 1232.6 93.7C1236.0 95.5 1238.9 97.2 1242.1 99.1C1245.3 101.0 1248.4 103.3 1251.6 105.2C1254.8 107.1 1257.9 108.7 1261.1 110.6C1264.3 112.5 1267.9 114.9 1270.6 116.7C1273.3 118.5 1274.8 119.7 1277.5 121.4C1280.2 123.1 1283.8 125.0 1287.0 126.9C1290.2 128.8 1293.3 131.1 1296.5 133.0C1299.7 134.9 1302.8 136.5 1306.0 138.4C1309.2 140.3 1312.3 142.6 1315.5 144.5C1318.7 146.4 1321.8 148.0 1325.0 149.9C1328.2 151.8 1331.3 154.1 1334.5 156.0C1337.7 157.9 1341.4 159.8 1344.0 161.5C1346.6 163.2 1347.6 164.4 1350.2 166.1C1352.8 167.8 1356.5 169.7 1359.7 171.6C1362.9 173.5 1366.0 175.8 1369.2 177.7C1372.4 179.6 1375.5 181.3 1378.7 183.1C1381.9 184.9 1385.0 186.7 1388.2 188.5C1391.4 190.3 1394.5 192.2 1397.7 194.0C1400.9 195.8 1404.1 197.5 1407.2 199.4C1410.3 201.3 1413.4 203.6 1416.6 205.4C1419.8 207.2 1422.9 208.6 1426.1 210.2C1429.3 211.8 1432.4 213.2 1435.6 214.9C1438.8 216.6 1441.9 218.5 1445.1 220.3C1448.3 222.1 1451.4 224.0 1454.6 225.8C1457.8 227.6 1460.7 229.3 1464.1 231.2C1467.5 233.1 1471.4 235.2 1474.8 237.0C1478.2 238.8 1481.1 240.6 1484.3 242.2C1487.5 243.8 1490.6 244.7 1493.8 246.3C1497.0 247.9 1500.1 250.0 1503.3 251.7C1506.5 253.4 1509.6 254.7 1512.8 256.4C1516.0 258.1 1518.9 260.1 1522.3 261.9C1525.7 263.7 1530.8 266.1 1533.1 267.3C1535.4 268.5 1535.5 268.6 1536.0 268.8" stroke="#000" stroke-width="2.4" stroke-dasharray="5 5"/>
<path d="M1129.0 276.5 1137.1 68.7L1137.1 68.7C1138.4 68.8 1142.4 68.7 1145.2 69.0C1148.0 69.3 1150.9 69.9 1153.9 70.3C1156.9 70.7 1160.9 70.8 1163.4 71.4C1165.9 72.0 1166.8 73.0 1168.8 74.0C1170.8 75.0 1174.0 76.6 1175.6 77.5C1177.2 78.4 1176.3 78.1 1178.3 79.4C1180.3 80.7 1184.6 84.2 1187.8 85.5C1191.0 86.8 1194.4 85.5 1197.3 86.9C1200.2 88.3 1202.7 92.0 1205.4 93.7C1208.1 95.4 1210.9 95.9 1213.6 97.1C1216.3 98.3 1219.0 100.0 1221.7 101.1C1224.4 102.2 1226.9 102.4 1229.8 103.9C1232.7 105.4 1236.3 108.4 1239.3 110.0C1242.2 111.6 1245.7 112.4 1247.5 113.4C1249.3 114.4 1249.0 114.4 1250.4 116.0C1251.8 117.6 1253.5 121.3 1255.8 122.8C1258.0 124.3 1261.0 124.0 1263.9 124.8C1266.8 125.6 1270.0 126.0 1273.4 127.5C1276.8 129.0 1280.2 131.2 1284.3 133.6C1288.4 136.0 1294.1 139.9 1297.9 141.8C1301.8 143.7 1304.5 143.5 1307.4 145.2C1310.3 146.9 1312.6 150.2 1315.5 152.0C1318.4 153.8 1323.1 155.0 1325.0 156.0C1326.9 157.0 1324.5 156.4 1327.1 158.0C1329.7 159.6 1337.1 164.0 1340.7 165.5C1344.3 167.0 1346.0 165.0 1348.9 166.8C1351.9 168.6 1355.5 174.0 1358.4 176.3C1361.3 178.6 1363.6 178.7 1366.5 180.4C1369.4 182.1 1373.1 184.9 1376.0 186.5C1378.9 188.1 1381.4 188.6 1384.1 189.9C1386.8 191.2 1389.6 193.0 1392.3 194.6C1395.0 196.2 1397.7 198.0 1400.4 199.6C1403.1 201.2 1405.8 203.2 1408.5 204.1C1411.2 204.9 1413.7 203.5 1416.6 204.7C1419.5 205.9 1423.1 210.0 1426.1 211.5C1429.0 213.0 1431.6 212.1 1434.3 213.6C1437.0 215.1 1439.7 218.6 1442.4 220.3C1445.1 222.0 1447.8 222.6 1450.5 223.7C1453.2 224.8 1455.8 225.6 1458.7 227.1C1461.7 228.6 1465.3 231.2 1468.2 232.6C1471.1 234.0 1473.4 234.5 1476.2 235.7C1479.0 236.9 1482.3 239.0 1485.0 240.0C1487.7 241.0 1489.7 240.7 1492.5 241.8C1495.3 243.0 1499.0 245.6 1501.9 246.9C1504.8 248.2 1507.4 248.2 1510.1 249.6C1512.8 251.0 1515.3 253.5 1518.2 255.1C1521.1 256.7 1524.7 257.8 1527.7 259.1C1530.7 260.4 1534.6 262.2 1536.0 262.8" stroke="#f00" stroke-width="2.2"/>
<path d="M1137.5 69.5C1137.8 69.6 1137.3 69.5 1139.3 70.1C1141.3 70.7 1147.4 72.3 1149.6 73.0C1151.8 73.7 1150.8 73.4 1152.5 74.0C1154.2 74.6 1156.7 75.5 1159.9 76.8C1163.1 78.1 1167.8 80.3 1171.5 82.0C1175.2 83.7 1179.0 85.4 1182.4 86.9C1185.8 88.4 1188.7 89.5 1191.9 91.0C1195.1 92.5 1198.2 94.1 1201.4 95.7C1204.6 97.3 1207.5 98.9 1210.9 100.5C1214.3 102.1 1218.3 103.6 1221.7 105.2C1225.1 106.8 1228.0 108.3 1231.2 110.0C1234.4 111.7 1238.0 113.9 1240.7 115.4C1243.4 116.9 1245.9 117.8 1247.5 118.8C1249.1 119.8 1248.3 120.1 1250.4 121.4C1252.5 122.8 1257.0 125.2 1259.9 126.9C1262.8 128.6 1265.1 129.9 1268.0 131.6C1270.9 133.3 1274.1 135.1 1277.5 137.0C1280.9 138.9 1285.0 141.3 1288.4 143.1C1291.8 144.9 1295.0 146.3 1297.9 147.9C1300.8 149.5 1303.0 150.8 1306.0 152.6C1309.0 154.3 1312.5 156.6 1315.8 158.4C1319.1 160.2 1322.5 161.7 1325.8 163.4C1329.0 165.2 1332.1 167.1 1335.3 168.9C1338.5 170.7 1341.6 172.5 1344.8 174.3C1348.0 176.1 1351.1 178.0 1354.3 179.7C1357.5 181.4 1360.6 182.8 1363.8 184.5C1367.0 186.2 1370.1 188.2 1373.3 189.9C1376.5 191.6 1379.8 192.8 1382.8 194.6C1385.8 196.4 1388.7 198.9 1391.6 200.7C1394.5 202.5 1397.3 203.8 1400.3 205.4C1403.3 207.0 1406.6 208.5 1409.8 210.2C1413.0 211.9 1416.1 213.9 1419.3 215.6C1422.5 217.3 1425.6 218.7 1428.8 220.3C1432.0 221.9 1435.1 223.4 1438.3 225.1C1441.5 226.8 1445.5 229.3 1447.8 230.5C1450.1 231.7 1450.0 231.3 1452.0 232.5C1454.0 233.7 1457.0 235.8 1459.9 237.4C1462.8 239.0 1466.2 240.6 1469.4 242.2C1472.6 243.8 1475.7 245.3 1478.9 246.9C1482.1 248.5 1485.2 250.1 1488.4 251.7C1491.6 253.3 1494.7 254.8 1497.9 256.4C1501.1 258.0 1504.2 259.7 1507.4 261.2C1510.6 262.7 1513.5 263.6 1516.9 265.3C1520.3 267.0 1525.0 269.9 1527.7 271.4C1530.4 272.8 1532.1 273.6 1533.0 274.0" stroke="#f00" stroke-width="2.4" stroke-dasharray="5 5"/>
</g>
<rect x="1124.7" y="32.4" width="410.29999999999995" height="244.20000000000002" fill="none" stroke="#000" stroke-width="1.3"/>
<line x1="1439.7" y1="49.2" x2="1471.6" y2="49.2" stroke="#000" stroke-width="2.3"/>
<text x="1479.3" y="55.3" font-size="15" textLength="37.6" lengthAdjust="spacingAndGlyphs" stroke="#000" stroke-width="0.2" font-family="Liberation Sans, Arial, sans-serif">Front</text>
<line x1="1439.7" y1="79.2" x2="1471.6" y2="79.2" stroke="#f01010" stroke-width="2.3"/>
<text x="1479.3" y="84.9" font-size="15" textLength="35.8" lengthAdjust="spacingAndGlyphs" stroke="#000" stroke-width="0.2" font-family="Liberation Sans, Arial, sans-serif">Back</text>
</svg></div></body></html>
